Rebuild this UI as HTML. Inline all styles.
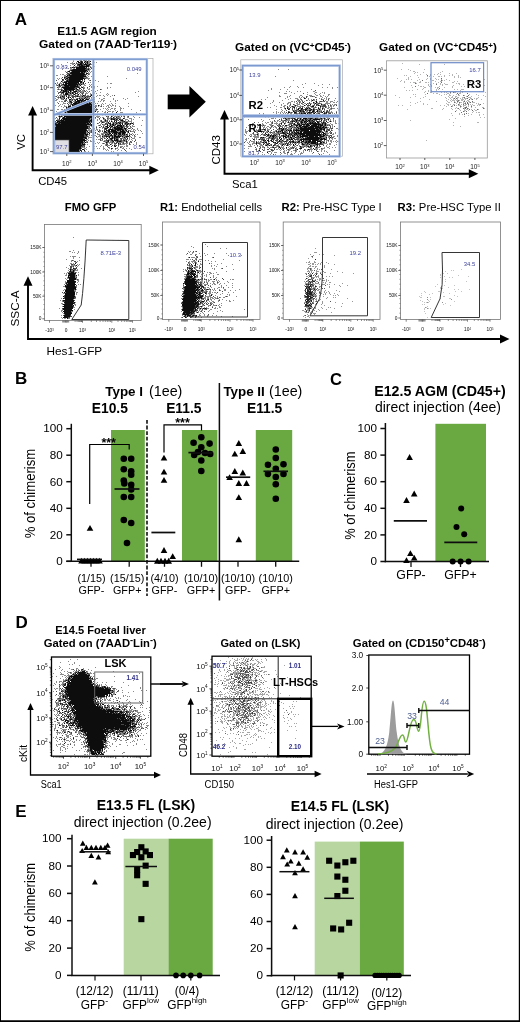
<!DOCTYPE html>
<html><head><meta charset="utf-8"><title>Figure</title>
<style>html,body{margin:0;padding:0;background:#fff;}svg{display:block;will-change:transform;}svg text{font-family:"Liberation Sans",sans-serif;}</style></head>
<body>
<svg width="520" height="1022" viewBox="0 0 520 1022" font-family="Liberation Sans, sans-serif">
<defs><filter id="bl" x="-5%" y="-5%" width="110%" height="110%"><feGaussianBlur stdDeviation="0.45"/></filter><filter id="soft" filterUnits="userSpaceOnUse" x="0" y="0" width="520" height="1022"><feGaussianBlur stdDeviation="0.32"/></filter></defs>
<rect x="0" y="0" width="520" height="1022" fill="#fff"/>
<g filter="url(#soft)">
<text x="14.8" y="25.0" font-size="17.0" font-weight="bold" text-anchor="start" fill="#000" >A</text>
<text x="107.0" y="35.4" font-size="11.6" font-weight="bold" text-anchor="middle" fill="#000" textLength="99.5" lengthAdjust="spacingAndGlyphs">E11.5 AGM region</text>
<text x="108.0" y="48.3" font-size="11.6" font-weight="bold" text-anchor="middle" fill="#000" textLength="138" lengthAdjust="spacingAndGlyphs">Gated on (7AAD<tspan dy="-3.5" font-size="7">-</tspan><tspan dy="3.5">Ter119</tspan><tspan dy="-3.5" font-size="7">-</tspan><tspan dy="3.5">)</tspan></text>
<rect x="53.0" y="58.5" width="100.0" height="95.3" fill="none" stroke="#aaa" stroke-width="0.70" />
<g transform="translate(0 .5)" fill="none" stroke-width="1" shape-rendering="crispEdges" opacity="1.00" filter="url(#bl)">
<path d="M73 60h1m5 0h3m1 0h4m1 0h2m2 0h1M73 61h1m3 0h2m1 0h3m1 0h7m2 0h1M67 62h1m4 0h1m3 0h1m1 0h5m1 0h6m2 0h3m1 0h1M70 63h5m1 0h8m1 0h6M61 64h1m10 0h2m1 0h1m1 0h15m1 0h1M70 65h1m3 0h1m2 0h13M73 66h1m1 0h16m2 0h2M66 67h1m3 0h17m1 0h1m1 0h2M68 68h1m1 0h2m1 0h2m1 0h14m1 0h1m1 0h1M62 69h1m7 0h21M69 70h21M65 71h1m1 0h3m1 0h17m1 0h1m1 0h1M66 72h2m1 0h18m1 0h1m1 0h1M67 73h18m1 0h4m47 0h1M60 74h1m1 0h2m2 0h21m1 0h2M56 75h2m6 0h2m1 0h19m1 0h1M64 76h23m1 0h1m2 0h1m1 0h1m13 0h1M62 77h1m1 0h24M57 78h1m1 0h1m1 0h1m2 0h26m2 0h1m33 0h1M58 79h1m3 0h2m1 0h18m1 0h1m3 0h1M56 80h1m5 0h2m2 0h15m1 0h1m1 0h1m4 0h2m4 0h1M61 81h2m1 0h19m1 0h1m13 0h1M54 82h1m2 0h1m2 0h1m1 0h17m1 0h4m4 0h1m1 0h1M54 83h2m1 0h1m1 0h3m1 0h1m1 0h19m1 0h1m7 0h1m13 0h1m2 0h2M56 84h1m1 0h2m1 0h24m4 0h1m1 0h1M54 85h1m1 0h25m3 0h2m4 0h1m2 0h1M58 86h3m1 0h18m1 0h1m1 0h1m5 0h1m1 0h1m2 0h1m2 0h1M57 87h3m1 0h19m1 0h4m2 0h1m3 0h1m2 0h1m12 0h1m2 0h1M58 88h1m2 0h1m1 0h14m2 0h2m2 0h2m2 0h1m1 0h1m4 0h1m12 0h1M54 89h1m2 0h6m1 0h16m1 0h1m1 0h1m4 0h2m10 0h2M61 90h13m1 0h6m1 0h3m1 0h1m4 0h1m5 0h1M57 91h1m2 0h9m1 0h2m1 0h13m1 0h1m1 0h1m5 0h1m42 0h1M58 92h18m1 0h2m1 0h4m2 0h1m1 0h1m3 0h3m5 0h1m34 0h1M54 93h1m3 0h1m2 0h3m1 0h9m1 0h3m1 0h1m1 0h3m1 0h3m2 0h1m3 0h1m1 0h1m10 0h1M60 94h2m1 0h9m1 0h3m1 0h2m1 0h1m1 0h1m2 0h1m4 0h2m14 0h1m1 0h1M57 95h1m1 0h8m1 0h6m1 0h4m1 0h6m1 0h2m1 0h4m3 0h1m1 0h2m2 0h1m3 0h1m4 0h1m1 0h1M55 96h2m1 0h1m1 0h5m1 0h1m1 0h2m1 0h20m1 0h2m2 0h1m7 0h1m5 0h1m27 0h1M57 97h8m2 0h4m1 0h2m1 0h1m3 0h11m1 0h1m2 0h1M54 98h2m2 0h1m1 0h5m1 0h1m1 0h1m2 0h1m1 0h1m2 0h14m1 0h1m2 0h1m4 0h1m3 0h2m8 0h1m9 0h1m3 0h1M56 99h2m3 0h3m1 0h2m2 0h9m1 0h5m1 0h4m1 0h1m2 0h2m6 0h2m10 0h1m11 0h1M55 100h2m7 0h3m2 0h4m1 0h2m1 0h9m1 0h6m1 0h1m6 0h1m1 0h2m10 0h1m1 0h1M59 101h1m1 0h2m1 0h2m1 0h1m1 0h3m1 0h18m1 0h3m3 0h1m1 0h1m2 0h1m6 0h1m4 0h1M57 102h1m5 0h1m4 0h5m1 0h19m1 0h1M58 103h1m4 0h3m1 0h1m1 0h3m1 0h21m1 0h1m1 0h1m4 0h1m2 0h1m5 0h1m3 0h1m12 0h1M60 104h1m1 0h1m5 0h1m1 0h25m6 0h1m1 0h1m5 0h1m2 0h1M55 105h1m3 0h1m4 0h1m3 0h3m1 0h22m1 0h2m1 0h2m1 0h1m5 0h2m1 0h1m1 0h2m1 0h1M58 106h1m2 0h1m2 0h3m1 0h3m1 0h25m1 0h1m1 0h2m1 0h1m2 0h1m1 0h1m2 0h1m3 0h1m3 0h1m8 0h1M63 107h1m2 0h28m1 0h1m12 0h2m10 0h1M66 108h29m1 0h1m6 0h1m1 0h1m1 0h1m3 0h2m1 0h2m4 0h2m1 0h1M57 109h2m2 0h2m1 0h2m1 0h31m2 0h1m5 0h1m1 0h1m1 0h1m3 0h1m5 0h1m10 0h1M63 110h4m1 0h29m10 0h1m7 0h1m4 0h1m19 0h1M56 111h1m4 0h2m1 0h32m1 0h2m3 0h1m2 0h1m2 0h3m1 0h2m3 0h1M57 112h1m2 0h3m1 0h31m2 0h1m6 0h2m1 0h1m4 0h1m3 0h1m3 0h3m13 0h1M57 113h1m3 0h3m1 0h31m3 0h2m3 0h3m1 0h1m2 0h3m4 0h3m1 0h1M57 114h1m2 0h2m1 0h1m1 0h31m8 0h1m1 0h1m3 0h3m4 0h3m9 0h1M59 115h1m1 0h32m1 0h2m1 0h1m4 0h1m2 0h1m5 0h3m1 0h1m1 0h1m1 0h3m1 0h2M58 116h5m1 0h29m3 0h4m6 0h3m2 0h2m1 0h6m1 0h1m1 0h2m2 0h2m4 0h1M56 117h1m2 0h2m1 0h30m1 0h1m1 0h1m1 0h2m1 0h1m1 0h2m3 0h2m1 0h2m1 0h2m1 0h5m3 0h1m2 0h2m5 0h1m4 0h1M55 118h1m1 0h1m1 0h1m2 0h30m1 0h1m1 0h1m3 0h1m3 0h2m2 0h14m2 0h2m4 0h3M54 119h1m2 0h3m1 0h31m1 0h1m3 0h1m1 0h1m3 0h3m1 0h2m1 0h8m1 0h4m2 0h3m3 0h1m1 0h1M56 120h38m3 0h1m2 0h2m2 0h4m1 0h1m1 0h1m2 0h5m1 0h4m1 0h1m2 0h1m2 0h1m10 0h1M55 121h1m1 0h37m6 0h8m1 0h1m1 0h2m1 0h1m1 0h1m2 0h13M55 122h37m7 0h1m1 0h4m1 0h3m1 0h1m1 0h16m3 0h1m1 0h1M54 123h37m2 0h1m3 0h2m2 0h1m3 0h6m1 0h11m1 0h10M55 124h37m8 0h1m1 0h6m1 0h12m1 0h1m1 0h7m2 0h1m12 0h1M54 125h38m6 0h3m2 0h2m2 0h9m1 0h8m1 0h2m1 0h1m2 0h1m8 0h1M54 126h36m1 0h2m3 0h1m4 0h1m1 0h1m1 0h3m1 0h4m1 0h15m1 0h1m1 0h3M54 127h36m2 0h1m3 0h1m2 0h2m1 0h7m1 0h15m1 0h2m2 0h2M54 128h37m3 0h1m1 0h1m5 0h1m1 0h4m1 0h2m1 0h15m1 0h3m1 0h1m4 0h1M54 129h33m1 0h2m1 0h2m1 0h1m1 0h2m1 0h1m4 0h3m1 0h20m3 0h1m1 0h2m2 0h1M54 130h38m1 0h1m1 0h1m1 0h1m1 0h2m1 0h1m1 0h1m1 0h4m1 0h16m1 0h3m2 0h1m1 0h1m2 0h1m1 0h1M54 131h34m1 0h3m6 0h3m1 0h1m1 0h25m1 0h5m6 0h1M54 132h39m2 0h1m3 0h1m3 0h23m1 0h2m5 0h1M54 133h34m1 0h1m3 0h1m1 0h1m1 0h1m3 0h10m1 0h14m1 0h1m1 0h1m2 0h1m9 0h1M54 134h36m7 0h3m1 0h3m1 0h7m1 0h15m1 0h3m1 0h1m1 0h1m1 0h1M54 135h34m1 0h1m1 0h2m1 0h2m3 0h2m1 0h26m1 0h1m2 0h1m1 0h1M54 136h35m7 0h1m1 0h3m1 0h29m3 0h2M54 137h33m1 0h4m5 0h1m2 0h1m1 0h3m1 0h1m1 0h2m1 0h9m2 0h6m1 0h1m1 0h1m2 0h1m4 0h2M54 138h33m1 0h1m11 0h3m1 0h2m1 0h1m1 0h10m1 0h6m1 0h1m1 0h1m2 0h3M54 139h31m1 0h2m8 0h1m1 0h3m1 0h1m3 0h1m1 0h5m1 0h5m1 0h2m1 0h5m1 0h1m1 0h1m3 0h1M54 140h33m1 0h1m1 0h1m9 0h3m1 0h23m1 0h1m3 0h1m2 0h1M54 141h31m1 0h2m2 0h2m2 0h1m8 0h6m1 0h4m1 0h13m2 0h2m2 0h1M54 142h34m9 0h1m1 0h1m5 0h10m1 0h8m2 0h2m1 0h3m4 0h1M54 143h31m10 0h1m2 0h1m3 0h3m1 0h2m1 0h1m1 0h2m1 0h3m1 0h3m1 0h6m1 0h1m6 0h1M54 144h32m1 0h1m17 0h3m2 0h2m2 0h2m2 0h7m1 0h1m2 0h2m2 0h1m2 0h1M54 145h31m16 0h1m3 0h5m2 0h1m1 0h3m1 0h1m7 0h2m11 0h1M54 146h31m4 0h1m4 0h1m1 0h1m3 0h1m2 0h1m3 0h1m3 0h1m2 0h2m2 0h1m1 0h3m1 0h1m1 0h2M54 147h31m1 0h1m16 0h1m4 0h2m7 0h1m2 0h2m1 0h1M54 148h28m2 0h2m8 0h1m2 0h1m1 0h1m3 0h2m4 0h1m1 0h2m2 0h3m4 0h2m2 0h1m2 0h1M54 149h27m1 0h3m1 0h1m5 0h2m9 0h1m1 0h1m1 0h1m3 0h1m3 0h1m2 0h1m5 0h1m6 0h1M54 150h28m2 0h1m21 0h1m1 0h1m8 0h1m3 0h1m3 0h1M54 151h26m1 0h1m2 0h2m2 0h1m22 0h1m1 0h1m12 0h1M54 152h24m2 0h1m4 0h1" stroke="#8a8a8a"/>
<path d="M80 60h2m1 0h2m1 0h1m1 0h1M77 61h2m1 0h3m2 0h1m1 0h1m2 0h1M78 62h5m1 0h1m1 0h2M74 63h1m1 0h1m3 0h4m1 0h1m1 0h1m2 0h1M77 64h14M74 65h1m2 0h8m1 0h4M79 66h10M70 67h1m1 0h3m1 0h9m1 0h1m3 0h1M76 68h11m1 0h1m2 0h1M72 69h17M70 70h17M68 71h2m2 0h14m1 0h1M66 72h1m3 0h10m1 0h4M67 73h2m1 0h15m1 0h2M68 74h2m1 0h16m1 0h1M67 75h19M66 76h2m1 0h17M62 77h1m1 0h2m1 0h17m2 0h1M64 78h1m1 0h2m1 0h17M62 79h2m1 0h1m1 0h16m1 0h1M56 80h1m5 0h2m2 0h15m1 0h1m7 0h1M61 81h1m2 0h18m2 0h1M63 82h4m1 0h11m1 0h2m1 0h1m4 0h1M55 83h1m7 0h1m1 0h14m1 0h1m2 0h1m1 0h1M59 84h1m2 0h5m1 0h12m1 0h1M57 85h1m1 0h1m1 0h1m2 0h14m2 0h1M59 86h2m3 0h15m10 0h1m4 0h1M57 87h1m4 0h18m1 0h2m4 0h1m6 0h1M63 88h14m2 0h2m2 0h1M58 89h1m2 0h1m2 0h11m1 0h2m3 0h1m18 0h1M61 90h13m2 0h1m1 0h1m1 0h1m3 0h1M60 91h1m2 0h6m1 0h1m2 0h4m2 0h1m5 0h1m3 0h1M59 92h5m2 0h1m1 0h3m1 0h4m1 0h1m2 0h1m2 0h1M58 93h1m2 0h1m1 0h1m1 0h3m2 0h1m1 0h2m1 0h3m4 0h1M63 94h1m1 0h4m4 0h2m3 0h1m3 0h1m2 0h1m5 0h1M64 95h1m1 0h1m1 0h2m2 0h1m2 0h1m1 0h1m5 0h3m5 0h2m21 0h1M56 96h1m3 0h1m1 0h3m1 0h1m1 0h1m3 0h8m2 0h1m1 0h1m1 0h5M58 97h1m1 0h1m2 0h2m3 0h1m1 0h1m1 0h2m11 0h1m1 0h1m6 0h1M54 98h1m6 0h1m2 0h1m1 0h1m1 0h1m2 0h1m5 0h1m1 0h1m1 0h2m1 0h1m1 0h1m2 0h1M63 99h1m5 0h2m1 0h1m1 0h1m1 0h2m2 0h1m1 0h2m1 0h4m4 0h2M65 100h2m2 0h1m2 0h1m2 0h1m1 0h9m1 0h4M64 101h2m3 0h3m3 0h5m1 0h9m4 0h1M70 102h2m2 0h14m1 0h1m1 0h1m2 0h1M58 103h1m8 0h1m3 0h1m1 0h18m1 0h2M68 104h1m2 0h22M70 105h1m1 0h21m5 0h1M68 106h3m1 0h23m6 0h1M66 107h1m1 0h26m1 0h1M66 108h2m1 0h26M64 109h2m1 0h27m2 0h2M65 110h2m1 0h27M65 111h1m1 0h29m21 0h1M60 112h1m4 0h1m1 0h27m13 0h1m8 0h1M57 113h1m4 0h1m2 0h1m1 0h28m11 0h1m4 0h2m6 0h1M60 114h2m3 0h31m14 0h1m6 0h1m1 0h1M59 115h1m1 0h32m1 0h1m18 0h1M59 116h3m2 0h29m13 0h1m1 0h1m2 0h1m6 0h1m2 0h1m2 0h1m3 0h1M56 117h1m2 0h1m3 0h2m1 0h26m3 0h1m17 0h1m2 0h1M59 118h1m2 0h28m1 0h1m1 0h1m5 0h1m3 0h1m3 0h1m3 0h5m1 0h2m4 0h2M59 119h1m1 0h1m1 0h27m1 0h1m13 0h1m5 0h4m1 0h2m1 0h2m1 0h1M56 120h36m9 0h1m3 0h1m1 0h1m6 0h3m1 0h1m1 0h3m5 0h1M55 121h1m1 0h35m9 0h1m3 0h1m1 0h1m1 0h1m1 0h1m2 0h1m1 0h1m5 0h3M56 122h34m1 0h1m7 0h1m2 0h2m4 0h1m4 0h1m1 0h2m1 0h3m1 0h1m2 0h3M55 123h2m1 0h31m1 0h1m6 0h1m7 0h2m1 0h3m2 0h1m2 0h2m1 0h2m1 0h1m2 0h4m1 0h3M55 124h37m10 0h1m2 0h1m1 0h1m2 0h1m1 0h2m1 0h1m4 0h1m1 0h1m2 0h3m2 0h1m2 0h1M55 125h32m3 0h2m7 0h1m7 0h1m2 0h1m1 0h3m2 0h5m1 0h1m2 0h1M56 126h34m11 0h1m1 0h1m1 0h3m1 0h1m1 0h2m1 0h1m1 0h8m2 0h2m2 0h1M54 127h34m1 0h1m6 0h1m2 0h1m3 0h1m3 0h2m1 0h1m2 0h10m1 0h1m2 0h1M54 128h35m1 0h1m3 0h1m9 0h4m2 0h1m1 0h1m1 0h9m1 0h3m1 0h2m2 0h1M54 129h33m17 0h3m1 0h16m1 0h1M54 130h33m4 0h1m7 0h1m4 0h1m1 0h4m1 0h5m1 0h4m1 0h2m1 0h2m1 0h1M54 131h32m1 0h1m3 0h1m6 0h1m3 0h1m1 0h2m2 0h9m3 0h5m1 0h3m1 0h1M54 132h32m2 0h1m2 0h1m3 0h1m8 0h3m1 0h2m1 0h15m2 0h1m5 0h1M54 133h32m1 0h1m1 0h1m17 0h1m1 0h2m1 0h1m1 0h3m1 0h3m1 0h3m4 0h1M54 134h34m14 0h1m2 0h5m1 0h1m2 0h3m1 0h3m1 0h3m1 0h2m3 0h1M54 135h33m7 0h1m9 0h3m1 0h1m1 0h3m1 0h2m2 0h4m1 0h2m2 0h1m1 0h1m4 0h1M54 136h34m8 0h1m5 0h1m1 0h6m2 0h1m1 0h7m1 0h1m2 0h4M54 137h33m19 0h1m2 0h1m2 0h8m4 0h1m1 0h1m4 0h1M54 138h33m14 0h1m2 0h1m2 0h1m2 0h3m1 0h4m2 0h2m3 0h1m1 0h1M54 139h31m15 0h1m1 0h1m3 0h1m3 0h2m2 0h1m1 0h2m3 0h1m1 0h1m2 0h1M54 140h32m14 0h1m5 0h3m2 0h2m1 0h5m1 0h2m1 0h2m1 0h1m8 0h1M54 141h29m1 0h1m19 0h1m2 0h2m3 0h2m3 0h5m4 0h1m3 0h1m3 0h1M54 142h30m1 0h1m1 0h1m18 0h2m4 0h1m3 0h2m5 0h1m2 0h1m4 0h1M54 143h29m1 0h1m18 0h1m2 0h1m7 0h3m1 0h1m1 0h1m2 0h1m5 0h1M54 144h31m21 0h2m2 0h1m7 0h1m1 0h1m8 0h1M54 145h31m21 0h1m5 0h1m1 0h1m1 0h1m1 0h1M55 146h28m1 0h1m22 0h1m3 0h1m2 0h2M54 147h27m27 0h1m11 0h1M54 148h28m29 0h2m2 0h1M54 149h27m1 0h2m40 0h1M54 150h25m1 0h2m2 0h1m40 0h1M54 151h26m1 0h1M54 152h24" stroke="#4a4a4a"/>
<path d="M84 60h1M77 61h2m2 0h1m3 0h1m1 0h1m2 0h1M78 62h2m1 0h2m1 0h1m2 0h1M80 63h2m3 0h1m1 0h1M78 64h4m2 0h3m2 0h1M74 65h1m4 0h1m1 0h2m3 0h3M79 66h10M72 67h1m1 0h1m1 0h9m1 0h1M76 68h10M73 69h12m3 0h1M71 70h16M68 71h2m2 0h14m1 0h1M71 72h9m1 0h2m1 0h1M70 73h14m2 0h2M69 74h1m2 0h13M67 75h1m1 0h15M66 76h1m3 0h16M64 77h1m3 0h15M66 78h2m1 0h15M62 79h1m2 0h1m3 0h14m1 0h1M67 80h1m1 0h11M61 81h1m4 0h16m2 0h1M64 82h3m1 0h11m1 0h2m1 0h1M65 83h12m1 0h1m4 0h1M59 84h1m3 0h1m1 0h2m1 0h10m1 0h1m1 0h1M59 85h1m4 0h12m1 0h1m2 0h1M65 86h4m1 0h8M62 87h13m3 0h1m3 0h1M64 88h10m2 0h1m2 0h1M64 89h11m2 0h1M61 90h1m1 0h1m1 0h2m2 0h2m2 0h1M63 91h4m1 0h1m1 0h1m3 0h3M62 92h2m2 0h1m1 0h1m3 0h1M65 93h3m2 0h1m1 0h1m2 0h1M65 94h3m6 0h1m3 0h1M83 95h1m7 0h1M62 96h1m3 0h1m10 0h1m4 0h1m7 0h1M60 97h1m7 0h1m1 0h1m14 0h1M64 98h1m1 0h1m12 0h1m4 0h1M69 99h2m5 0h2m2 0h1m1 0h2m2 0h3M75 100h1m1 0h6m1 0h2m1 0h3M70 101h1m5 0h4m1 0h1m1 0h2m2 0h3m4 0h1M71 102h1m3 0h2m1 0h2m1 0h7m1 0h1M73 103h8m1 0h6m1 0h2m1 0h1M72 104h1m1 0h18M72 105h18m1 0h2m5 0h1M68 106h3m1 0h20M66 107h1m1 0h2m2 0h22M66 108h2m1 0h26M64 109h1m4 0h25M69 110h24M65 111h1m1 0h27m1 0h1M65 112h1m2 0h25m23 0h1M65 113h1m1 0h24m1 0h2M60 114h1m4 0h27m1 0h1M59 115h1m1 0h1m1 0h29m21 0h1M59 116h1m1 0h1m2 0h29m18 0h1M63 117h2m1 0h26m21 0h1m2 0h1M59 118h1m2 0h28m13 0h1m7 0h1m11 0h1M61 119h1m1 0h26m2 0h1m19 0h1m1 0h2m1 0h1m2 0h1M56 120h1m3 0h4m1 0h24m1 0h2m13 0h1m15 0h2M57 121h3m1 0h29m1 0h1m19 0h1m2 0h1m1 0h1m7 0h1M57 122h1m1 0h29m1 0h1m12 0h1m5 0h1m9 0h1m1 0h1m5 0h1M55 123h1m2 0h2m1 0h25m1 0h2m1 0h1m18 0h2m2 0h1m2 0h1m2 0h1m2 0h1m2 0h1m2 0h1m1 0h1m1 0h1M55 124h35m1 0h1m15 0h1m2 0h1m1 0h2m1 0h1m4 0h1m1 0h1m4 0h1M56 125h31m4 0h1m15 0h1m2 0h1m2 0h1m3 0h5m1 0h1m2 0h1M56 126h32m18 0h2m1 0h1m1 0h2m3 0h2m2 0h2M55 127h33m19 0h2m1 0h1m3 0h2m1 0h3m1 0h2M55 128h33m17 0h2m7 0h8m2 0h2M54 129h32m23 0h4m2 0h8m2 0h1M54 130h33m19 0h1m1 0h2m1 0h5m1 0h2m1 0h1m1 0h2m2 0h1M54 131h32m1 0h1m10 0h1m5 0h2m2 0h2m1 0h6m3 0h5m3 0h1M54 132h32m2 0h1m17 0h1m2 0h1m3 0h5m1 0h2m1 0h4m2 0h1M54 133h32m3 0h1m19 0h2m1 0h1m1 0h3m1 0h3m1 0h3M54 134h30m1 0h3m17 0h1m2 0h1m2 0h1m2 0h1m1 0h1m2 0h2m1 0h1m1 0h1m1 0h1M54 135h30m2 0h1m23 0h2m2 0h2m2 0h1m10 0h1M54 136h30m18 0h1m3 0h2m1 0h1m2 0h1m1 0h7m1 0h1m3 0h3M54 137h32m23 0h1m2 0h1m1 0h1m1 0h2m1 0h1m4 0h1M54 138h29m2 0h2m20 0h1m2 0h3m1 0h1m12 0h1M55 139h30m26 0h1m2 0h1m1 0h2M54 140h32m22 0h1m3 0h1m1 0h4m6 0h1M54 141h29m1 0h1m23 0h1m4 0h1m3 0h1m1 0h2m5 0h1M54 142h29m2 0h1m20 0h1M54 143h27m1 0h1m35 0h1M54 144h27m1 0h3m25 0h1M54 145h28m32 0h1M55 146h26m34 0h1M54 147h27M54 148h27m30 0h1M54 149h25m3 0h2M54 150h25m1 0h1m3 0h1M54 151h25m2 0h1M54 152h1m1 0h19m1 0h1" stroke="#111111"/>
</g>
<rect x="54.8" y="140.0" width="14.2" height="12.6" fill="#dedee4" stroke="#555" stroke-width="0.60" />
<g stroke="#c3d2ec" stroke-width="2.6" fill="none">
<rect x="53.8" y="59.2" width="93" height="94"/>
<path d="M93.4 59V153.5M54 114.4H147M54 115L93.5 99.3"/>
</g>
<g stroke="#7c9ad0" stroke-width="1.4" fill="none">
<rect x="53.8" y="59.2" width="93" height="94"/>
<path d="M93.4 59V153.5M54 114.4H147M54 115L93.5 99.3"/>
</g>
<text x="56.3" y="68.7" font-size="5.9" font-weight="normal" text-anchor="start" fill="#3a3f9a" >0.83</text>
<text x="126.8" y="70.6" font-size="5.9" font-weight="normal" text-anchor="start" fill="#3a3f9a" >0.049</text>
<text x="133.5" y="148.7" font-size="5.9" font-weight="normal" text-anchor="start" fill="#3a3f9a" >0.54</text>
<text x="56.0" y="148.7" font-size="5.9" font-weight="normal" text-anchor="start" fill="#3a3f9a" >97.7</text>
<text x="44.6" y="68.1" font-size="6.5" font-weight="normal" text-anchor="middle" fill="#222" >10<tspan dy="-2.5" font-size="4.0">5</tspan></text>
<line x1="50.0" y1="65.8" x2="53.0" y2="65.8" stroke="#333" stroke-width="0.80" />
<text x="44.6" y="90.0" font-size="6.5" font-weight="normal" text-anchor="middle" fill="#222" >10<tspan dy="-2.5" font-size="4.0">4</tspan></text>
<line x1="50.0" y1="87.7" x2="53.0" y2="87.7" stroke="#333" stroke-width="0.80" />
<text x="44.6" y="112.6" font-size="6.5" font-weight="normal" text-anchor="middle" fill="#222" >10<tspan dy="-2.5" font-size="4.0">3</tspan></text>
<line x1="50.0" y1="110.3" x2="53.0" y2="110.3" stroke="#333" stroke-width="0.80" />
<text x="44.6" y="134.7" font-size="6.5" font-weight="normal" text-anchor="middle" fill="#222" >10<tspan dy="-2.5" font-size="4.0">2</tspan></text>
<line x1="50.0" y1="132.4" x2="53.0" y2="132.4" stroke="#333" stroke-width="0.80" />
<text x="44.6" y="153.9" font-size="6.5" font-weight="normal" text-anchor="middle" fill="#222" >10<tspan dy="-2.5" font-size="4.0">1</tspan></text>
<line x1="50.0" y1="151.6" x2="53.0" y2="151.6" stroke="#333" stroke-width="0.80" />
<text x="66.8" y="165.9" font-size="6.5" font-weight="normal" text-anchor="middle" fill="#222" >10<tspan dy="-2.5" font-size="4.0">2</tspan></text>
<line x1="66.8" y1="153.8" x2="66.8" y2="156.0" stroke="#333" stroke-width="0.80" />
<text x="92.4" y="165.9" font-size="6.5" font-weight="normal" text-anchor="middle" fill="#222" >10<tspan dy="-2.5" font-size="4.0">3</tspan></text>
<line x1="92.4" y1="153.8" x2="92.4" y2="156.0" stroke="#333" stroke-width="0.80" />
<text x="118.0" y="165.9" font-size="6.5" font-weight="normal" text-anchor="middle" fill="#222" >10<tspan dy="-2.5" font-size="4.0">4</tspan></text>
<line x1="118.0" y1="153.8" x2="118.0" y2="156.0" stroke="#333" stroke-width="0.80" />
<text x="143.5" y="165.9" font-size="6.5" font-weight="normal" text-anchor="middle" fill="#222" >10<tspan dy="-2.5" font-size="4.0">5</tspan></text>
<line x1="143.5" y1="153.8" x2="143.5" y2="156.0" stroke="#333" stroke-width="0.80" />
<path d="M32.6 114.5V170.2H150.3" stroke="#000" stroke-width="1.9" fill="none"/>
<path d="M32.6 106.0l-4.5 9.5h9.0z" fill="#000"/>
<path d="M158.8 170.2l-9.5 -4.5v9.0z" fill="#000"/>
<text transform="translate(25.4 142.0) rotate(-90)" font-size="11.3" font-weight="normal" text-anchor="middle" fill="#000" >VC</text>
<text x="38.2" y="185.4" font-size="11.3" font-weight="normal" text-anchor="start" fill="#000" >CD45</text>
<path d="M167.7 94.4H189.4V86L205.8 101.8L189.4 117.6V109.2H167.7z" fill="#000"/>
<text x="293.0" y="50.8" font-size="11.6" font-weight="bold" text-anchor="middle" fill="#000" textLength="116" lengthAdjust="spacingAndGlyphs">Gated on (VC<tspan dy="-2.5" font-size="8">+</tspan><tspan dy="2.5">CD45</tspan><tspan dy="-3.5" font-size="7">-</tspan><tspan dy="3.5">)</tspan></text>
<rect x="240.8" y="59.8" width="101.6" height="96.4" fill="none" stroke="#aaa" stroke-width="0.70" />
<g transform="translate(0 .5)" fill="none" stroke-width="1" shape-rendering="crispEdges" opacity="1.00" filter="url(#bl)">
<path d="M278 69h1m9 0h1M275 76h1M293 80h1M305 83h1m8 0h1M302 84h1m19 0h1m6 0h1M318 85h1M290 86h1m6 0h1M284 87h1m4 0h1m8 0h1m4 0h1m18 0h1m4 0h1m4 0h1m4 0h1M271 88h1m60 0h1M271 89h1m8 0h1m6 0h1m23 0h1M268 90h1m46 0h1M286 91h1m2 0h1m7 0h1m2 0h1m12 0h2M279 92h1m11 0h1m15 0h1m7 0h2m5 0h1m1 0h1M284 93h3m7 0h1m8 0h1m10 0h1m5 0h1m3 0h1M307 94h1m7 0h1m3 0h1m8 0h2M279 95h1m10 0h1m9 0h2m7 0h3m4 0h2m2 0h1m2 0h1m4 0h1M279 96h2m6 0h1m1 0h1m9 0h1m2 0h1m3 0h2m2 0h5m5 0h2m3 0h1m1 0h1M267 97h1m19 0h1m11 0h1m1 0h1m1 0h2m1 0h1m8 0h2m5 0h1m3 0h1M285 98h1m4 0h1m4 0h3m2 0h1m3 0h2m2 0h1m10 0h1m1 0h1m2 0h1m1 0h1m1 0h2m5 0h1M261 99h1m3 0h1m22 0h1m8 0h2m1 0h2m6 0h1m2 0h1m1 0h2m1 0h1m4 0h3m2 0h1m1 0h1M273 100h1m8 0h1m14 0h3m1 0h2m3 0h2m1 0h1m1 0h4m1 0h1m6 0h1m1 0h1m2 0h1m5 0h1M273 101h1m17 0h2m1 0h1m1 0h1m1 0h3m1 0h1m1 0h1m6 0h1m3 0h2m2 0h6m1 0h2m2 0h3m4 0h1M272 102h1m6 0h1m8 0h3m3 0h1m2 0h1m1 0h2m1 0h2m5 0h1m3 0h2m1 0h2m1 0h1m6 0h2m2 0h1m2 0h2m1 0h1M270 103h1m12 0h1m3 0h2m1 0h1m5 0h2m1 0h1m1 0h2m1 0h2m1 0h5m1 0h9m3 0h5M281 104h1m5 0h1m2 0h1m2 0h2m2 0h3m2 0h2m2 0h1m1 0h1m1 0h1m3 0h1m1 0h3m2 0h5m1 0h1m2 0h1m1 0h1m1 0h3M274 105h1m6 0h1m2 0h2m3 0h2m3 0h4m2 0h1m3 0h2m1 0h4m1 0h3m1 0h10m2 0h1m1 0h2m1 0h2m1 0h1M276 106h1m6 0h2m2 0h1m1 0h1m1 0h5m1 0h7m3 0h2m1 0h4m1 0h1m4 0h7m1 0h1m1 0h2m1 0h1M267 107h1m2 0h1m9 0h2m2 0h1m2 0h2m1 0h1m1 0h3m1 0h1m2 0h2m1 0h1m1 0h1m1 0h4m1 0h6m1 0h1m1 0h1m1 0h2m1 0h2m1 0h2m1 0h1M284 108h2m1 0h3m2 0h1m1 0h1m1 0h1m1 0h5m2 0h6m2 0h2m3 0h3m1 0h3m2 0h2m1 0h5m2 0h1M276 109h1m4 0h1m3 0h1m2 0h2m2 0h1m1 0h1m1 0h3m1 0h21m1 0h1m1 0h1m4 0h3m6 0h1M282 110h1m3 0h1m5 0h12m1 0h10m2 0h5m2 0h1m1 0h2m1 0h1m8 0h1M276 111h1m4 0h1m2 0h1m3 0h2m3 0h12m1 0h2m1 0h2m1 0h3m1 0h6m1 0h2m1 0h4m1 0h1m4 0h1M273 112h1m2 0h1m1 0h1m1 0h1m1 0h1m1 0h1m1 0h1m1 0h5m1 0h3m2 0h17m1 0h6m1 0h9m3 0h1M259 113h1m3 0h1m12 0h1m3 0h1m2 0h1m1 0h1m1 0h2m1 0h2m2 0h12m1 0h5m1 0h2m1 0h4m3 0h4m1 0h3m1 0h1m1 0h1m1 0h1M263 114h1m15 0h1m1 0h2m4 0h1m2 0h2m1 0h1m2 0h2m1 0h5m1 0h9m1 0h3m1 0h2m1 0h5m1 0h1m6 0h1m1 0h1M272 115h1m10 0h1m1 0h6m2 0h2m1 0h2m1 0h2m2 0h1m1 0h5m1 0h5m2 0h1m1 0h6m1 0h1m3 0h1m2 0h1m2 0h1M278 116h1m3 0h1m2 0h2m1 0h3m1 0h1m1 0h2m1 0h13m1 0h2m1 0h11m1 0h2m1 0h1m1 0h1M244 117h1m20 0h1m2 0h1m4 0h1m8 0h1m1 0h10m1 0h24m1 0h1m2 0h2m1 0h3m4 0h1m3 0h1M271 118h3m1 0h1m5 0h1m1 0h13m1 0h5m1 0h23m1 0h3m3 0h1M248 119h1m12 0h1m7 0h1m9 0h1m1 0h1m3 0h5m2 0h1m1 0h4m1 0h24m1 0h5m1 0h1m2 0h1M263 120h1m10 0h1m2 0h2m2 0h9m1 0h26m2 0h1m1 0h1m1 0h4m1 0h1m1 0h1m2 0h1m1 0h1M262 121h1m7 0h1m1 0h1m1 0h2m1 0h1m1 0h2m1 0h2m1 0h2m1 0h1m1 0h25m1 0h6m1 0h2m1 0h1m2 0h3m1 0h1m1 0h1M254 122h1m3 0h1m6 0h1m1 0h2m2 0h2m3 0h1m4 0h3m1 0h1m1 0h6m2 0h4m1 0h7m1 0h8m1 0h3m1 0h5m1 0h2m6 0h1M252 123h2m8 0h1m3 0h1m4 0h2m1 0h4m1 0h3m2 0h2m3 0h6m2 0h30m3 0h1m4 0h2m1 0h1M257 124h1m1 0h2m1 0h2m5 0h3m4 0h1m1 0h2m1 0h1m2 0h1m3 0h4m1 0h37m1 0h2M248 125h1m3 0h1m6 0h1m1 0h5m4 0h4m3 0h4m1 0h2m1 0h5m1 0h11m1 0h7m1 0h20m1 0h1M252 126h1m9 0h1m1 0h1m2 0h2m2 0h2m1 0h2m2 0h5m1 0h3m2 0h6m1 0h31m3 0h1m1 0h1m1 0h1M246 127h1m10 0h1m1 0h1m3 0h2m1 0h1m2 0h3m1 0h1m1 0h2m2 0h1m2 0h1m1 0h1m1 0h43m1 0h1m1 0h1M250 128h1m8 0h1m3 0h1m1 0h1m1 0h1m2 0h1m5 0h1m1 0h9m1 0h4m1 0h35m1 0h4m3 0h2M245 129h1m8 0h1m1 0h1m1 0h8m1 0h3m3 0h1m3 0h15m1 0h32m1 0h4m1 0h1m6 0h1M245 130h1m2 0h2m6 0h3m1 0h1m3 0h2m1 0h2m2 0h1m3 0h2m1 0h14m1 0h16m1 0h12m1 0h2m1 0h4m1 0h2M245 131h3m1 0h1m5 0h2m1 0h3m2 0h2m1 0h3m1 0h1m2 0h10m1 0h4m1 0h6m1 0h27m1 0h4m2 0h1M245 132h2m6 0h1m2 0h2m3 0h1m1 0h1m1 0h3m1 0h6m1 0h12m1 0h1m1 0h11m1 0h21m1 0h3m1 0h3m3 0h1M246 133h1m5 0h2m3 0h2m3 0h1m2 0h1m2 0h1m1 0h1m1 0h48m1 0h1m1 0h6m1 0h2m1 0h1m1 0h1M244 134h1m5 0h2m1 0h6m2 0h9m1 0h1m1 0h7m3 0h4m1 0h40m4 0h2M245 135h1m3 0h1m1 0h1m2 0h2m1 0h2m1 0h1m2 0h3m1 0h11m1 0h1m1 0h51m5 0h1M250 136h2m1 0h6m7 0h25m1 0h3m1 0h22m1 0h8m1 0h2m1 0h1m1 0h2m2 0h1M254 137h5m1 0h6m2 0h10m1 0h2m2 0h1m1 0h19m1 0h22m1 0h6M246 138h1m1 0h1m3 0h1m1 0h1m1 0h1m3 0h5m1 0h12m1 0h1m1 0h1m1 0h4m1 0h7m1 0h31m2 0h1m1 0h2m1 0h2M245 139h2m6 0h2m1 0h1m1 0h7m1 0h1m1 0h1m2 0h4m1 0h3m1 0h2m1 0h2m1 0h7m1 0h33m2 0h1m2 0h1M243 140h1m2 0h1m3 0h1m3 0h1m6 0h5m1 0h2m1 0h2m1 0h1m1 0h3m1 0h5m2 0h3m1 0h1m1 0h2m1 0h1m1 0h5m1 0h8m1 0h10m2 0h1m1 0h3m1 0h2m4 0h1M245 141h1m3 0h1m1 0h4m1 0h1m1 0h1m1 0h2m1 0h4m1 0h2m1 0h3m2 0h12m1 0h11m1 0h15m1 0h8m1 0h1m1 0h1m1 0h2m1 0h1m1 0h1m1 0h2M244 142h1m2 0h1m1 0h1m3 0h2m1 0h11m1 0h1m4 0h3m1 0h2m1 0h3m1 0h1m1 0h1m1 0h30m2 0h5m1 0h1m4 0h1m4 0h1M243 143h1m4 0h1m3 0h9m2 0h2m1 0h4m4 0h4m1 0h10m1 0h1m1 0h1m1 0h3m1 0h2m1 0h26m2 0h2M249 144h2m1 0h1m3 0h1m2 0h3m1 0h1m1 0h4m1 0h2m2 0h2m2 0h1m1 0h6m1 0h5m1 0h1m1 0h1m2 0h1m2 0h23m3 0h1m1 0h2m5 0h1M244 145h1m5 0h1m3 0h1m2 0h1m2 0h3m2 0h7m1 0h6m2 0h2m1 0h1m1 0h3m1 0h1m2 0h2m1 0h2m1 0h1m2 0h7m1 0h8m1 0h1m3 0h1m2 0h1m7 0h1M248 146h4m5 0h1m1 0h2m1 0h2m3 0h1m4 0h2m2 0h4m1 0h1m1 0h1m5 0h1m2 0h1m1 0h2m3 0h14m1 0h1m1 0h2m1 0h2m5 0h1m2 0h1M255 147h1m4 0h1m1 0h3m2 0h2m1 0h7m1 0h6m2 0h1m1 0h1m1 0h5m1 0h1m3 0h4m2 0h1m1 0h4m3 0h5m4 0h1m2 0h2m3 0h1m2 0h1M244 148h1m3 0h1m7 0h1m2 0h2m3 0h1m4 0h1m4 0h1m3 0h1m1 0h1m1 0h3m1 0h1m2 0h5m1 0h2m2 0h3m8 0h2m1 0h1m1 0h3m3 0h4m4 0h1M255 149h2m2 0h1m2 0h1m1 0h1m2 0h2m1 0h3m1 0h1m1 0h2m1 0h1m1 0h1m1 0h1m3 0h4m4 0h3m2 0h1m3 0h2m1 0h6m1 0h4m1 0h1m1 0h2M256 150h1m1 0h2m3 0h2m6 0h3m6 0h1m3 0h1m1 0h1m1 0h2m3 0h4m6 0h1m1 0h1m1 0h1m1 0h1m1 0h1m4 0h1m4 0h1m2 0h1m9 0h1M244 151h1m7 0h2m2 0h2m2 0h1m6 0h4m1 0h1m10 0h2m3 0h1m2 0h1m3 0h2m2 0h1m3 0h1m5 0h1m1 0h1m5 0h2m2 0h1m2 0h1m1 0h1M262 152h1m4 0h1m3 0h1m2 0h3m3 0h1m2 0h2m2 0h2m6 0h1m5 0h1m1 0h1m9 0h1m13 0h1M258 153h1m9 0h1m2 0h1m9 0h1m2 0h2m1 0h1m3 0h1m2 0h1m5 0h3m9 0h1m5 0h1m4 0h1M262 154h1m1 0h1m5 0h1m2 0h1m1 0h1m4 0h1m6 0h1m2 0h3m5 0h1m1 0h1m18 0h1m1 0h1m7 0h1M269 155h1m4 0h1m13 0h1m3 0h1m14 0h1" stroke="#8a8a8a"/>
<path d="M315 90h1M303 93h1M306 96h1m5 0h1M306 97h1m8 0h1M304 98h2M301 99h1m11 0h1m2 0h1m4 0h1m6 0h1M299 100h1m6 0h1m5 0h1m10 0h1M296 101h1m5 0h1m13 0h1m3 0h2m2 0h1M299 102h1m3 0h1m5 0h1m3 0h1m2 0h1M301 103h1m5 0h1m1 0h1m5 0h1m2 0h2M290 104h1m2 0h1m12 0h1m3 0h1m3 0h1m1 0h2m3 0h1m2 0h1M295 105h1m8 0h1m2 0h3m3 0h1m2 0h1m1 0h2m3 0h3m2 0h1m1 0h1m5 0h1M287 106h1m4 0h2m8 0h1m8 0h3m6 0h1m1 0h4M287 107h1m2 0h1m2 0h2m5 0h1m1 0h1m3 0h1m1 0h1m6 0h1m2 0h1m1 0h1m4 0h1M285 108h1m1 0h1m1 0h1m2 0h1m1 0h1m3 0h2m1 0h2m2 0h3m1 0h2m2 0h1m4 0h1m3 0h1m8 0h1M288 109h2m2 0h1m4 0h2m2 0h6m3 0h2m1 0h2m1 0h1m2 0h1m2 0h1m1 0h1M286 110h1m6 0h1m1 0h2m2 0h5m1 0h1m1 0h1m1 0h2m2 0h2m2 0h1m9 0h1m1 0h1M288 111h1m4 0h2m1 0h1m1 0h1m1 0h5m4 0h1m2 0h3m1 0h2m1 0h1m1 0h1m1 0h1m2 0h2M286 112h1m1 0h2m1 0h1m2 0h3m2 0h1m1 0h1m1 0h2m3 0h6m1 0h1m5 0h2m1 0h1m1 0h1m1 0h1m7 0h1M294 113h3m2 0h1m1 0h5m1 0h1m1 0h2m2 0h2m3 0h2m4 0h3m2 0h2M291 114h1m1 0h1m2 0h2m2 0h3m2 0h7m7 0h2m1 0h1m1 0h1m3 0h1M287 115h1m8 0h1m2 0h2m2 0h1m1 0h1m2 0h1m3 0h4m4 0h2m1 0h3m1 0h1m3 0h1M288 116h1m1 0h1m1 0h1m4 0h1m2 0h3m1 0h6m1 0h2m1 0h1m1 0h3m7 0h2m3 0h1M284 117h1m7 0h2m1 0h1m1 0h3m1 0h2m1 0h2m1 0h7m1 0h3m2 0h1m2 0h2m1 0h2m9 0h1M283 118h1m1 0h1m2 0h2m1 0h4m2 0h2m1 0h1m2 0h4m1 0h5m2 0h3m2 0h2m2 0h1m4 0h1m3 0h1M279 119h1m1 0h1m4 0h1m5 0h1m1 0h4m2 0h1m1 0h2m1 0h3m1 0h2m2 0h7m1 0h1m2 0h1m1 0h1m1 0h1M274 120h1m6 0h1m2 0h2m6 0h2m1 0h5m1 0h3m1 0h2m1 0h5m1 0h1m1 0h1m4 0h1m2 0h1M283 121h1m4 0h1m1 0h5m1 0h1m3 0h3m1 0h4m1 0h6m1 0h5m2 0h1m2 0h1m3 0h1M254 122h1m17 0h1m10 0h1m4 0h1m3 0h1m2 0h1m1 0h2m1 0h3m1 0h3m2 0h7m1 0h2m2 0h1m1 0h3m1 0h1M272 123h1m8 0h1m2 0h1m5 0h3m1 0h1m2 0h3m1 0h1m3 0h1m1 0h13m2 0h4M257 124h1m21 0h1m1 0h1m7 0h1m1 0h1m1 0h3m1 0h3m1 0h8m1 0h1m1 0h11m1 0h2M252 125h1m10 0h1m8 0h1m4 0h1m1 0h2m2 0h1m1 0h2m4 0h2m2 0h3m1 0h3m1 0h2m1 0h4m1 0h6m1 0h5m1 0h2m1 0h1m1 0h1M271 126h1m6 0h1m1 0h1m8 0h3m4 0h1m2 0h2m1 0h7m1 0h12m1 0h2m5 0h1m3 0h1M279 127h1m2 0h1m9 0h1m1 0h2m1 0h2m1 0h14m1 0h12m3 0h1M270 128h1m8 0h3m1 0h1m1 0h2m4 0h1m4 0h1m1 0h27m6 0h2M262 129h4m7 0h1m3 0h1m1 0h1m1 0h3m1 0h1m1 0h1m2 0h1m2 0h2m1 0h3m1 0h15m1 0h9m2 0h3m8 0h1M258 130h1m6 0h1m1 0h1m3 0h1m4 0h1m4 0h2m3 0h1m1 0h4m1 0h16m1 0h12m2 0h1m1 0h1m1 0h2m1 0h1M263 131h1m4 0h1m7 0h1m1 0h3m1 0h1m1 0h2m3 0h1m1 0h1m1 0h2m1 0h1m1 0h1m1 0h22m4 0h2m2 0h1M253 132h1m3 0h1m5 0h1m3 0h1m2 0h2m2 0h1m2 0h2m3 0h5m2 0h1m1 0h2m1 0h5m1 0h2m1 0h18m1 0h2m7 0h1M253 133h1m11 0h1m12 0h1m1 0h6m1 0h33m1 0h1m1 0h3m4 0h2M257 134h1m3 0h1m2 0h1m1 0h1m1 0h1m2 0h1m2 0h1m1 0h1m2 0h1m5 0h2m2 0h3m2 0h11m1 0h18m1 0h1M264 135h2m1 0h2m1 0h6m3 0h1m1 0h3m1 0h2m1 0h1m1 0h1m1 0h4m1 0h1m1 0h2m1 0h20m1 0h2m1 0h2m2 0h2M250 136h1m15 0h1m3 0h1m1 0h3m1 0h1m6 0h3m1 0h2m1 0h1m1 0h3m2 0h2m1 0h8m1 0h5m1 0h3m1 0h5m5 0h1m1 0h1M260 137h4m5 0h1m2 0h2m1 0h1m3 0h2m2 0h1m1 0h2m1 0h1m1 0h2m3 0h6m1 0h1m2 0h17m4 0h1m3 0h1m1 0h1M260 138h1m1 0h1m5 0h1m2 0h4m2 0h1m1 0h1m1 0h1m7 0h1m1 0h1m1 0h2m2 0h2m2 0h1m1 0h22m1 0h1m2 0h1M253 139h2m4 0h1m1 0h4m3 0h1m2 0h3m3 0h1m2 0h2m5 0h1m1 0h4m1 0h5m1 0h19m1 0h3m1 0h3M250 140h1m12 0h3m1 0h2m1 0h2m1 0h1m1 0h3m1 0h1m2 0h1m3 0h2m2 0h1m2 0h1m5 0h3m1 0h1m1 0h6m1 0h10m2 0h1m3 0h1M256 141h1m3 0h1m3 0h1m3 0h1m2 0h2m5 0h4m1 0h4m2 0h5m4 0h2m1 0h3m1 0h11m1 0h4m1 0h1M244 142h1m11 0h1m5 0h2m1 0h2m6 0h3m1 0h1m3 0h1m4 0h1m1 0h1m1 0h1m1 0h4m1 0h3m1 0h1m2 0h14m2 0h2m1 0h2m1 0h1M256 143h1m1 0h2m4 0h1m1 0h1m1 0h2m5 0h3m1 0h1m5 0h4m1 0h1m11 0h1m2 0h1m1 0h2m1 0h8m1 0h3M256 144h1m6 0h1m3 0h2m2 0h1m2 0h2m6 0h2m1 0h1m1 0h1m1 0h1m3 0h1m1 0h1m6 0h3m1 0h2m1 0h1m5 0h8M257 145h1m7 0h2m2 0h1m1 0h1m1 0h2m2 0h1m4 0h1m3 0h2m5 0h1m3 0h1m8 0h1m3 0h2m1 0h2m2 0h1m1 0h1m3 0h1M278 146h2m20 0h1m3 0h1m2 0h2m1 0h2m2 0h1m2 0h1m2 0h1M255 147h1m4 0h1m3 0h1m7 0h2m1 0h1m3 0h1m6 0h1m5 0h2m6 0h2m1 0h1m5 0h1m6 0h1M259 148h1m9 0h1m4 0h1m5 0h1m5 0h1m4 0h1m1 0h1m1 0h1m3 0h3m11 0h1m7 0h1M256 149h1m5 0h1m4 0h2m2 0h1m2 0h1m8 0h1m4 0h1m8 0h1m6 0h1m3 0h2m4 0h1M259 150h1m3 0h1m7 0h3m21 0h1m9 0h1m1 0h1m8 0h1M260 151h1m8 0h1m47 0h1M267 152h1m12 0h1m6 0h2m24 0h1M273 154h1m45 0h1" stroke="#4a4a4a"/>
<path d="M304 98h1M312 100h1m10 0h1M316 101h1M303 102h1m9 0h1m2 0h1M315 103h1M306 104h1m3 0h1m10 0h1M295 105h1m8 0h1m13 0h1M292 106h1m19 0h2m6 0h1M294 107h1M285 108h1m1 0h1m10 0h1m2 0h2m4 0h1m1 0h1m8 0h1m3 0h1M288 109h1m9 0h1m2 0h1m3 0h2m4 0h1m1 0h1m5 0h1M299 110h2m4 0h1m3 0h2m2 0h1m3 0h1M293 111h1m6 0h1m2 0h1m8 0h2m3 0h1m5 0h1M288 112h2m4 0h2m12 0h2m1 0h1m3 0h1m6 0h1m3 0h1M301 113h1m2 0h2m1 0h1m6 0h1m9 0h1M300 114h1m1 0h1m3 0h1m1 0h2m1 0h1m10 0h1m1 0h1M299 115h2m4 0h1m2 0h1m5 0h1m16 0h1M301 116h2m1 0h1m2 0h1m4 0h1m1 0h1M284 117h1m7 0h1m6 0h1m1 0h1m6 0h1m3 0h1m3 0h2m2 0h1m5 0h2M285 118h1m8 0h1m5 0h1m2 0h4m3 0h2m3 0h1m5 0h1m2 0h1M286 119h1m5 0h1m2 0h1m1 0h1m2 0h1m1 0h1m2 0h1m4 0h1m2 0h7m8 0h1M296 120h1m2 0h1m2 0h2m2 0h1m1 0h2m2 0h1m8 0h1M292 121h1m1 0h1m1 0h1m4 0h1m2 0h2m1 0h1m1 0h1m3 0h1m3 0h1m8 0h1m3 0h1M288 122h1m12 0h2m1 0h1m1 0h1m3 0h1m1 0h1m2 0h1m1 0h2m4 0h1M281 123h1m2 0h1m9 0h1m2 0h1m3 0h1m3 0h1m1 0h1m1 0h8m1 0h1m3 0h1m2 0h1M294 124h1m3 0h2m2 0h3m1 0h3m1 0h1m2 0h8m1 0h1m2 0h1M285 125h2m4 0h1m4 0h2m1 0h3m4 0h4m1 0h6m1 0h1m1 0h3m2 0h1M290 126h1m5 0h1m2 0h2m1 0h6m2 0h9m1 0h1m2 0h1M279 127h1m17 0h1m2 0h2m2 0h3m1 0h6m1 0h6m1 0h2m1 0h2M279 128h1m1 0h1m1 0h1m7 0h1m6 0h1m1 0h18m1 0h3m2 0h1M264 129h1m17 0h2m12 0h1m3 0h15m1 0h3m1 0h2m1 0h2M281 130h2m3 0h1m1 0h1m1 0h2m1 0h1m1 0h5m1 0h8m1 0h10m4 0h1M268 131h1m7 0h1m1 0h1m1 0h1m1 0h1m6 0h1m6 0h1m3 0h2m2 0h17m5 0h1M282 132h2m5 0h1m2 0h1m1 0h1m2 0h2m1 0h2m1 0h13m1 0h3m2 0h2M265 133h1m17 0h2m2 0h1m7 0h2m1 0h20m1 0h1m3 0h2M257 134h1m8 0h1m1 0h1m10 0h1m5 0h1m3 0h1m1 0h1m2 0h1m1 0h1m3 0h5m1 0h15m2 0h1m1 0h1M267 135h2m1 0h1m2 0h1m1 0h1m7 0h1m2 0h1m1 0h1m3 0h1m4 0h1m2 0h1m1 0h19m2 0h2M270 136h1m1 0h2m9 0h3m2 0h1m3 0h1m1 0h1m3 0h1m1 0h8m1 0h5m1 0h3m2 0h4M261 137h1m1 0h1m5 0h1m3 0h1m5 0h1m3 0h1m1 0h2m3 0h2m3 0h1m4 0h1m1 0h1m4 0h12m1 0h1m5 0h1m3 0h1M272 138h1m6 0h1m1 0h1m9 0h1m1 0h1m9 0h1m1 0h15m1 0h1m1 0h2M253 139h1m5 0h1m20 0h1m6 0h1m1 0h1m1 0h2m7 0h19m1 0h3m1 0h2M263 140h1m1 0h1m1 0h2m2 0h1m7 0h1m2 0h1m18 0h1m1 0h1m5 0h2m1 0h6M268 141h1m3 0h1m6 0h1m5 0h1m3 0h1m2 0h2m4 0h2m2 0h2m2 0h1m1 0h3m1 0h4m1 0h4M256 142h1m6 0h1m1 0h2m6 0h1m1 0h1m1 0h1m12 0h1m2 0h1m1 0h1m1 0h1m3 0h1m3 0h2m1 0h2m1 0h5m1 0h1m2 0h2m1 0h1M256 143h1m12 0h1m6 0h1m25 0h1m4 0h1m3 0h5m1 0h1m2 0h1M263 144h1m3 0h1m15 0h1m3 0h1m5 0h1m1 0h1m6 0h2m5 0h1m6 0h2M266 145h1m2 0h1m3 0h1m8 0h1m4 0h1m5 0h1m16 0h1m6 0h1M300 146h1m7 0h1m1 0h1m3 0h1M273 147h1m5 0h1m6 0h1m29 0h1M280 148h1m19 0h2m11 0h1M297 149h1m10 0h1m5 0h1M259 150h1M267 152h1" stroke="#111111"/>
</g>
<g stroke="#c3d2ec" stroke-width="2.6" fill="none">
<rect x="242.6" y="65.6" width="97" height="90.8"/>
</g>
<g stroke="#7c9ad0" stroke-width="1.4" fill="none">
<rect x="242.6" y="65.6" width="97" height="90.8"/>
</g>
<path d="M242.6 116H339.6" stroke="#c3d2ec" stroke-width="3.4"/>
<path d="M242.6 116H339.6" stroke="#7c9ad0" stroke-width="2.3"/>
<text x="249.0" y="76.7" font-size="5.9" font-weight="normal" text-anchor="start" fill="#3a3f9a" >13.9</text>
<text x="248.3" y="154.6" font-size="5.9" font-weight="normal" text-anchor="start" fill="#3a3f9a" >81.7</text>
<text x="248.6" y="108.5" font-size="11.3" font-weight="bold" text-anchor="start" fill="#000" >R2</text>
<text x="248.6" y="132.3" font-size="11.3" font-weight="bold" text-anchor="start" fill="#000" >R1</text>
<text x="234.3" y="72.3" font-size="6.5" font-weight="normal" text-anchor="middle" fill="#222" >10<tspan dy="-2.5" font-size="4.0">5</tspan></text>
<line x1="239.3" y1="70.0" x2="242.0" y2="70.0" stroke="#333" stroke-width="0.80" />
<text x="234.3" y="97.7" font-size="6.5" font-weight="normal" text-anchor="middle" fill="#222" >10<tspan dy="-2.5" font-size="4.0">4</tspan></text>
<line x1="239.3" y1="95.4" x2="242.0" y2="95.4" stroke="#333" stroke-width="0.80" />
<text x="234.3" y="122.1" font-size="6.5" font-weight="normal" text-anchor="middle" fill="#222" >10<tspan dy="-2.5" font-size="4.0">3</tspan></text>
<line x1="239.3" y1="119.8" x2="242.0" y2="119.8" stroke="#333" stroke-width="0.80" />
<text x="234.3" y="146.3" font-size="6.5" font-weight="normal" text-anchor="middle" fill="#222" >10<tspan dy="-2.5" font-size="4.0">2</tspan></text>
<line x1="239.3" y1="144.0" x2="242.0" y2="144.0" stroke="#333" stroke-width="0.80" />
<text x="254.6" y="164.8" font-size="6.5" font-weight="normal" text-anchor="middle" fill="#222" >10<tspan dy="-2.5" font-size="4.0">2</tspan></text>
<text x="280.0" y="164.8" font-size="6.5" font-weight="normal" text-anchor="middle" fill="#222" >10<tspan dy="-2.5" font-size="4.0">3</tspan></text>
<text x="306.0" y="164.8" font-size="6.5" font-weight="normal" text-anchor="middle" fill="#222" >10<tspan dy="-2.5" font-size="4.0">4</tspan></text>
<text x="332.0" y="164.8" font-size="6.5" font-weight="normal" text-anchor="middle" fill="#222" >10<tspan dy="-2.5" font-size="4.0">5</tspan></text>
<path d="M224.5 118.5V173.8H469.8" stroke="#000" stroke-width="1.9" fill="none"/>
<path d="M224.5 110.0l-4.5 9.5h9.0z" fill="#000"/>
<path d="M478.3 173.8l-9.5 -4.5v9.0z" fill="#000"/>
<text transform="translate(220.2 149.8) rotate(-90)" font-size="11.5" font-weight="normal" text-anchor="middle" fill="#000" >CD43</text>
<text x="232.0" y="188.0" font-size="11.3" font-weight="normal" text-anchor="start" fill="#000" >Sca1</text>
<text x="438.0" y="50.8" font-size="11.6" font-weight="bold" text-anchor="middle" fill="#000" textLength="118" lengthAdjust="spacingAndGlyphs">Gated on (VC<tspan dy="-2.5" font-size="8">+</tspan><tspan dy="2.5">CD45</tspan><tspan dy="-2.5" font-size="8">+</tspan><tspan dy="2.5">)</tspan></text>
<rect x="386.5" y="60.8" width="100.8" height="97.2" fill="none" stroke="#999" stroke-width="0.80" />
<g transform="translate(0 .5)" fill="none" stroke-width="1" shape-rendering="crispEdges" opacity="1.00" filter="url(#bl)">
<path d="M402 63h1M419 64h1m24 0h1M401 69h1m6 0h1m15 0h1M410 70h1M413 71h2m27 0h1M415 72h1m1 0h1m5 0h1m16 0h1M414 73h1m23 0h1m10 0h1m6 0h1M420 74h1m5 0h1m3 0h1m3 0h1m2 0h1m2 0h1m11 0h1M404 75h1m1 0h1m10 0h1m9 0h1m2 0h1m13 0h1m4 0h1m2 0h1m5 0h1M410 76h1m16 0h1m1 0h1m3 0h1m4 0h2m1 0h1m2 0h1m9 0h1m3 0h1M408 77h1m9 0h1m35 0h1m3 0h1m1 0h1M397 78h1m10 0h1m18 0h1m2 0h1m4 0h1m5 0h1M406 79h1m1 0h1m2 0h1m7 0h1m6 0h1m3 0h1m5 0h1m1 0h1m2 0h1m4 0h1m37 0h1M401 80h1m15 0h1m4 0h1m9 0h2m7 0h2m1 0h1m4 0h1M400 81h1m3 0h1m15 0h1m14 0h1m4 0h2m12 0h1m2 0h1m11 0h1M404 82h1m5 0h1m2 0h3m3 0h2m4 0h2m1 0h1m9 0h1m2 0h1m10 0h2m16 0h1m6 0h1M415 83h2m16 0h1m2 0h1m3 0h1m3 0h1m11 0h1m1 0h2M428 84h1m1 0h1m5 0h1m3 0h1m1 0h1m2 0h3m11 0h1m3 0h1m6 0h1m3 0h1M411 85h1m6 0h1m9 0h1m2 0h1m10 0h1m10 0h1m30 0h1M415 86h1m4 0h2m1 0h1m5 0h1m1 0h1m7 0h1m12 0h1m8 0h1m2 0h1M404 87h1m7 0h1m11 0h2m9 0h1m1 0h2m5 0h1m7 0h1m18 0h1M423 88h1m13 0h1m1 0h1M417 89h1m4 0h1m13 0h1m1 0h1m3 0h1m11 0h1m2 0h1m3 0h3M406 90h1m2 0h1m2 0h1m15 0h1m2 0h1m4 0h1m23 0h1M425 91h1m2 0h1m11 0h1m3 0h1m2 0h1m7 0h2m5 0h1m2 0h1m13 0h1M424 92h1m5 0h2m9 0h1m2 0h1m1 0h1m3 0h1m2 0h3m4 0h1m1 0h1m22 0h1M427 93h1m5 0h1m2 0h2m9 0h2m1 0h1m6 0h1m1 0h2m6 0h1M413 94h1m1 0h1m9 0h1m13 0h1m4 0h1m1 0h1m2 0h1m6 0h1m1 0h1m10 0h1m6 0h1M395 95h1m45 0h1m7 0h2m2 0h1m4 0h2m3 0h2m3 0h1m9 0h1m4 0h1M415 96h1m9 0h1m22 0h1m3 0h1m2 0h2m9 0h2m3 0h1m13 0h1M399 97h1m10 0h1m12 0h1m21 0h1m3 0h1m1 0h2m2 0h1m1 0h2m3 0h3m3 0h3m7 0h1M420 98h1m25 0h1m3 0h1m2 0h2m1 0h2m2 0h1m1 0h1m1 0h4m2 0h2m2 0h1m1 0h2M429 99h1m18 0h1m2 0h1m1 0h1m1 0h1m1 0h1m3 0h3m1 0h1m3 0h1m1 0h2m3 0h1m4 0h1M446 100h1m3 0h1m1 0h3m1 0h4m1 0h2m1 0h1m2 0h2M420 101h1m15 0h1m10 0h1m3 0h1m2 0h1m2 0h2m4 0h2m1 0h1m1 0h2m2 0h1M410 102h1m6 0h1m30 0h2m4 0h2m1 0h1m1 0h3m1 0h1m1 0h1m1 0h1m1 0h2m1 0h3M415 103h1m7 0h1m22 0h1m9 0h1m2 0h1m3 0h3m1 0h2m7 0h1m1 0h1m4 0h1M423 104h1m3 0h1m19 0h2m1 0h1m2 0h2m3 0h2m1 0h1m1 0h1m1 0h2m1 0h1m1 0h1m1 0h1m5 0h3M398 105h1m3 0h1m7 0h1m29 0h1m3 0h1m3 0h1m3 0h1m1 0h1m1 0h1m1 0h3m2 0h3m2 0h1m2 0h1m1 0h2m2 0h1m1 0h1M446 106h1m4 0h2m7 0h2m1 0h1m2 0h1m1 0h1m2 0h1M456 107h1m3 0h1m3 0h3m4 0h1m3 0h1m6 0h2M431 108h2m10 0h1m7 0h1m3 0h1m1 0h2m4 0h3m1 0h2m14 0h2M407 109h1m34 0h1m9 0h1m6 0h1m4 0h1m1 0h2m1 0h1m1 0h1m2 0h1m2 0h2M456 110h1m3 0h1m3 0h2m2 0h1m3 0h1m2 0h2M455 111h1m7 0h2m1 0h1m6 0h1M461 112h1m10 0h1m3 0h1m1 0h2M451 113h1m7 0h1m4 0h1m1 0h1m1 0h1M459 114h1m2 0h1m1 0h1m6 0h1m7 0h1m3 0h1M452 115h1m15 0h1m10 0h1M464 116h1M480 117h1m3 0h1M455 118h1M449 119h1M410 120h1M453 122h1m23 0h2M453 125h1M460 126h1M426 140h1" stroke="#b4b4b4"/>
<path d="M427 75h1M441 78h1M422 80h1m18 0h1M441 82h1M415 83h1M436 84h1M415 86h1M439 88h1M462 91h1M450 92h1m2 0h1M427 93h1m29 0h1m9 0h1M458 94h1M463 95h1m4 0h1M467 96h1M464 97h1M454 98h1m1 0h1m10 0h1M469 99h1m2 0h1M458 100h1M457 101h1m6 0h1m7 0h1M454 102h1m4 0h1m7 0h1m2 0h1M465 103h1m1 0h1M458 104h1m4 0h1m4 0h1m11 0h1M454 105h1M451 106h1m8 0h1m10 0h1M465 107h2M458 108h1m4 0h1m1 0h1m1 0h1m15 0h1M469 109h1m7 0h1M472 110h1M455 111h1m7 0h1m2 0h1M461 112h1M466 113h1M464 114h1" stroke="#6a6a6a"/>
</g>
<rect x="431.0" y="62.7" width="52.6" height="29.0" fill="none" stroke="#6d8cc8" stroke-width="1.20" />
<text x="469.3" y="71.8" font-size="5.9" font-weight="normal" text-anchor="start" fill="#3a3f9a" >16.7</text>
<text x="466.8" y="87.7" font-size="11.3" font-weight="bold" text-anchor="start" fill="#000" >R3</text>
<text x="378.5" y="72.5" font-size="6.5" font-weight="normal" text-anchor="middle" fill="#222" >10<tspan dy="-2.5" font-size="4.0">5</tspan></text>
<line x1="383.8" y1="70.2" x2="386.5" y2="70.2" stroke="#333" stroke-width="0.80" />
<text x="378.5" y="97.5" font-size="6.5" font-weight="normal" text-anchor="middle" fill="#222" >10<tspan dy="-2.5" font-size="4.0">4</tspan></text>
<line x1="383.8" y1="95.2" x2="386.5" y2="95.2" stroke="#333" stroke-width="0.80" />
<text x="378.5" y="122.8" font-size="6.5" font-weight="normal" text-anchor="middle" fill="#222" >10<tspan dy="-2.5" font-size="4.0">3</tspan></text>
<line x1="383.8" y1="120.5" x2="386.5" y2="120.5" stroke="#333" stroke-width="0.80" />
<text x="378.5" y="147.9" font-size="6.5" font-weight="normal" text-anchor="middle" fill="#222" >10<tspan dy="-2.5" font-size="4.0">2</tspan></text>
<line x1="383.8" y1="145.6" x2="386.5" y2="145.6" stroke="#333" stroke-width="0.80" />
<text x="400.0" y="169.3" font-size="6.5" font-weight="normal" text-anchor="middle" fill="#222" >10<tspan dy="-2.5" font-size="4.0">2</tspan></text>
<line x1="400.0" y1="158.0" x2="400.0" y2="160.0" stroke="#333" stroke-width="0.80" />
<text x="424.8" y="169.3" font-size="6.5" font-weight="normal" text-anchor="middle" fill="#222" >10<tspan dy="-2.5" font-size="4.0">3</tspan></text>
<line x1="424.8" y1="158.0" x2="424.8" y2="160.0" stroke="#333" stroke-width="0.80" />
<text x="449.8" y="169.3" font-size="6.5" font-weight="normal" text-anchor="middle" fill="#222" >10<tspan dy="-2.5" font-size="4.0">4</tspan></text>
<line x1="449.8" y1="158.0" x2="449.8" y2="160.0" stroke="#333" stroke-width="0.80" />
<text x="474.9" y="169.3" font-size="6.5" font-weight="normal" text-anchor="middle" fill="#222" >10<tspan dy="-2.5" font-size="4.0">5</tspan></text>
<line x1="474.9" y1="158.0" x2="474.9" y2="160.0" stroke="#333" stroke-width="0.80" />
<text x="90.5" y="211.3" font-size="11.3" font-weight="bold" text-anchor="middle" fill="#000" >FMO GFP</text>
<rect x="44.5" y="224.5" width="96.7" height="96.0" fill="none" stroke="#777" stroke-width="0.80" />
<g transform="translate(0 .5)" fill="none" stroke-width="1" shape-rendering="crispEdges" opacity="1.00" filter="url(#bl)">
<path d="M73 237h1M73 250h1M69 251h2m7 0h1M72 252h1m1 0h1m3 0h1M77 253h1M70 256h1m1 0h4M73 257h1m5 0h1M73 258h1M66 259h1M71 260h3m5 0h1M71 261h1m2 0h2m1 0h1M75 262h2M70 263h2m1 0h1m1 0h1M71 264h4m2 0h1m1 0h1M69 265h1m1 0h6m1 0h1M70 266h4m1 0h1m1 0h1M66 267h1m3 0h2m1 0h1m2 0h1M68 268h1m1 0h2m1 0h4m4 0h1M69 269h7m1 0h1M68 270h1m1 0h8M69 271h6M67 272h10m1 0h1M64 273h1m1 0h1m1 0h8M66 274h1m1 0h8m2 0h1M65 275h2m1 0h9m1 0h1M68 276h9M67 277h10M65 278h1m1 0h10M66 279h1m2 0h10M67 280h8m2 0h2M65 281h1m1 0h9m2 0h1M65 282h11m1 0h1M65 283h10M64 284h1m1 0h10m2 0h1m1 0h1M65 285h10m1 0h1M63 286h14M65 287h12M66 288h10M64 289h13M63 290h1m1 0h11M65 291h11M62 292h1m1 0h11m1 0h2M63 293h12m1 0h1M65 294h10m1 0h1M64 295h11M63 296h13M64 297h12M61 298h1m1 0h13M65 299h9M60 300h1m1 0h13M62 301h12M64 302h12M61 303h2m1 0h11M62 304h11m1 0h2M64 305h10m1 0h1M62 306h12M64 307h11M59 308h1m2 0h11M62 309h10m2 0h1M61 310h2m1 0h9M61 311h1m1 0h10M62 312h1m1 0h8M63 313h9M64 314h7M61 315h1m1 0h8M64 316h8M61 317h1m1 0h7M62 318h1m1 0h2m1 0h3" stroke="#8a8a8a"/>
<path d="M72 260h1M74 261h2M76 262h1M75 263h1M71 264h2m1 0h1M76 265h1M70 266h2m1 0h1M70 267h2m4 0h1M70 268h1m2 0h4M70 269h3m1 0h2M70 270h1m2 0h2M69 271h5M69 272h5m1 0h1M68 273h8M69 274h6M68 275h7m1 0h1M68 276h1m1 0h5M68 277h7m1 0h1M69 278h7M69 279h7m1 0h1M67 280h7M67 281h9M66 282h10M66 283h1m1 0h7M66 284h10M65 285h10m1 0h1M65 286h11M66 287h10M66 288h10M66 289h10M65 290h9M65 291h10M62 292h1m1 0h1m1 0h9M65 293h10M65 294h10M64 295h11M63 296h12M64 297h12M63 298h12M65 299h8M63 300h12M63 301h11M64 302h11M65 303h10M63 304h10M64 305h10M63 306h11M64 307h9M62 308h11M63 309h9M64 310h9M63 311h8M64 312h8M64 313h8M65 314h6M63 315h8M64 316h8M63 317h7M67 318h1" stroke="#4a4a4a"/>
<path d="M75 263h1M76 265h1M73 268h1M70 269h1M70 270h1m2 0h1M70 271h1m2 0h1M71 272h3M68 273h8M69 274h6M68 275h7m1 0h1M68 276h1m1 0h5M68 277h7M69 278h7M69 279h7M67 280h7M67 281h9M67 282h8M66 283h1m1 0h7M67 284h9M65 285h1m1 0h8M65 286h10M66 287h10M66 288h10M66 289h8m1 0h1M65 290h9M65 291h9M64 292h1m1 0h9M65 293h10M65 294h10M65 295h9M63 296h1m1 0h10M65 297h9M63 298h1m1 0h9M65 299h8M63 300h11M65 301h9M64 302h9m1 0h1M65 303h9M63 304h10M64 305h8m1 0h1M63 306h10M64 307h9M63 308h10M63 309h9M64 310h9M63 311h8M64 312h7M64 313h8M65 314h6M64 315h6M64 316h6M63 317h5M67 318h1" stroke="#111111"/>
</g>
<path d="M86.2 240L128.8 240.5V319.5H71.8L81.2 305Q84 285 86.2 240z" stroke="#2a2a2a" stroke-width="0.95" fill="none" stroke-linejoin="round"/>
<text x="100.5" y="254.6" font-size="5.9" font-weight="normal" text-anchor="start" fill="#3a3f9a" >8.71E-3</text>
<text x="41.5" y="249.1" font-size="4.8" font-weight="normal" text-anchor="end" fill="#111" >150K</text>
<line x1="42.3" y1="247.5" x2="44.5" y2="247.5" stroke="#333" stroke-width="0.70" />
<text x="41.5" y="273.6" font-size="4.8" font-weight="normal" text-anchor="end" fill="#111" >100K</text>
<line x1="42.3" y1="272.0" x2="44.5" y2="272.0" stroke="#333" stroke-width="0.70" />
<text x="41.5" y="297.8" font-size="4.8" font-weight="normal" text-anchor="end" fill="#111" >50K</text>
<line x1="42.3" y1="296.2" x2="44.5" y2="296.2" stroke="#333" stroke-width="0.70" />
<text x="41.5" y="320.4" font-size="4.8" font-weight="normal" text-anchor="end" fill="#111" >0</text>
<line x1="42.3" y1="318.8" x2="44.5" y2="318.8" stroke="#333" stroke-width="0.70" />
<text x="49.5" y="332.3" font-size="4.8" font-weight="normal" text-anchor="middle" fill="#111" >-10<tspan dy="-1.5" font-size="2.6">3</tspan></text>
<text x="66.2" y="332.3" font-size="4.8" font-weight="normal" text-anchor="middle" fill="#111" >0</text>
<text x="82.5" y="332.3" font-size="4.8" font-weight="normal" text-anchor="middle" fill="#111" >10<tspan dy="-1.5" font-size="2.6">3</tspan></text>
<text x="111.8" y="332.3" font-size="4.8" font-weight="normal" text-anchor="middle" fill="#111" >10<tspan dy="-1.5" font-size="2.6">4</tspan></text>
<text x="132.5" y="332.3" font-size="4.8" font-weight="normal" text-anchor="middle" fill="#111" >10<tspan dy="-1.5" font-size="2.6">5</tspan></text>
<path d="M49.5 320.5v2.2M66.2 320.5v2.2M82.5 320.5v2.2M111.8 320.5v2.2M132.5 320.5v2.2M62.7 320.5v2M63.7 320.5v2M64.7 320.5v2M65.5 320.5v2M66.9 320.5v2M67.7 320.5v2M68.7 320.5v2M91.3 320.5v1.4M96.5 320.5v1.4M100.1 320.5v1.4M103.0 320.5v1.4M105.3 320.5v1.4M107.3 320.5v1.4M109.0 320.5v1.4M110.5 320.5v1.4M118.0 320.5v1.4M121.7 320.5v1.4M124.3 320.5v1.4M126.3 320.5v1.4M127.9 320.5v1.4M129.3 320.5v1.4M130.5 320.5v1.4M131.6 320.5v1.4M75.1 320.5v1.4M77.0 320.5v1.4M78.3 320.5v1.4M79.3 320.5v1.4M80.1 320.5v1.4M80.9 320.5v1.4M81.5 320.5v1.4M82.0 320.5v1.4" stroke="#333" stroke-width="0.6"/>
<path d="M44.5 314.0h-1.2M44.5 309.3h-1.2M44.5 304.5h-1.2M44.5 299.8h-1.2M44.5 295.0h-1.2M44.5 290.3h-1.2M44.5 285.5h-1.2M44.5 280.8h-1.2M44.5 276.0h-1.2M44.5 271.3h-1.2M44.5 266.5h-1.2M44.5 261.8h-1.2M44.5 257.0h-1.2M44.5 252.3h-1.2M44.5 247.5h-1.2" stroke="#555" stroke-width="0.5"/>
<text x="160.0" y="211.3" font-size="11.2" font-weight="normal" text-anchor="start" fill="#000" ><tspan font-weight="bold">R1:</tspan> Endothelial cells</text>
<rect x="162.5" y="222.0" width="97.5" height="97.5" fill="none" stroke="#777" stroke-width="0.80" />
<g transform="translate(0 .5)" fill="none" stroke-width="1" shape-rendering="crispEdges" opacity="1.00" filter="url(#bl)">
<path d="M205 244h1M191 246h1m15 0h1M193 247h1M220 248h1m5 0h1M188 251h1m1 0h1m2 0h1m1 0h2M189 252h1m2 0h2M187 253h1m4 0h1m6 0h1m4 0h1m9 0h1m11 0h1M186 254h1m3 0h2m3 0h2m10 0h1M195 255h1m6 0h1m2 0h1m22 0h1m12 0h1M196 256h2m2 0h1M188 257h2m1 0h4m1 0h2m14 0h2M195 258h2m5 0h1M186 259h3m1 0h1m1 0h1m2 0h2m2 0h3m21 0h1M193 260h2m1 0h1m1 0h1m6 0h1m2 0h1m30 0h1M186 261h1m2 0h1m1 0h5m2 0h1m1 0h1m10 0h1m3 0h1M188 262h2m2 0h1m1 0h3M188 263h3m2 0h1m1 0h2m3 0h1m8 0h1m1 0h1m9 0h1M187 264h1m1 0h1m1 0h1m3 0h1m1 0h1m2 0h2m15 0h1m14 0h1M187 265h6m1 0h2m3 0h1m11 0h1m2 0h1M189 266h4m2 0h3m1 0h1m2 0h1m8 0h1m4 0h1m9 0h1M187 267h5m1 0h5m1 0h2M187 268h6m1 0h2m3 0h1m12 0h1m1 0h1m6 0h2M183 269h1m1 0h1m1 0h1m1 0h4m2 0h2m17 0h1m18 0h1M185 270h2m1 0h7m1 0h5m1 0h1M183 271h1m2 0h10m1 0h5m2 0h1m21 0h1M187 272h7m1 0h1m1 0h2m1 0h1m6 0h1m1 0h2m5 0h1M187 273h9m1 0h1m1 0h1m3 0h1m6 0h2m1 0h1M184 274h12m1 0h1m3 0h1m4 0h1m2 0h1m7 0h2M186 275h6m1 0h2m1 0h2m6 0h1m1 0h1m6 0h1M184 276h9m1 0h4m2 0h1m1 0h1m3 0h1m6 0h1M185 277h13m3 0h1m8 0h1m2 0h1m2 0h1M184 278h12m5 0h2m1 0h1m10 0h1m6 0h1M184 279h19m1 0h3m1 0h1m1 0h2m1 0h2m1 0h1m6 0h1m6 0h1m1 0h2M185 280h15m6 0h1m1 0h2m6 0h1m1 0h1M184 281h15m1 0h1m3 0h1m1 0h1m1 0h1m3 0h3m2 0h1m1 0h1m7 0h1M184 282h18m2 0h1m1 0h2m5 0h1m3 0h2m9 0h1M183 283h14m1 0h1m1 0h1m2 0h1m3 0h1m2 0h1m2 0h2m2 0h1m2 0h1m3 0h1m7 0h1M183 284h1m1 0h17m2 0h4m4 0h1m1 0h2m3 0h1M183 285h1m2 0h15m1 0h1m1 0h2m2 0h1m1 0h1m10 0h1m4 0h1m5 0h1M183 286h21m6 0h1m10 0h1M183 287h17m1 0h5m1 0h2m2 0h1m6 0h2m1 0h1m1 0h1m4 0h1m3 0h1M182 288h17m1 0h2m1 0h3m3 0h1m4 0h1m2 0h1m5 0h1M183 289h17m2 0h1m1 0h7m1 0h1m1 0h1m4 0h1m4 0h2m13 0h1M184 290h16m1 0h3m1 0h2m3 0h1m2 0h1m1 0h1m3 0h2m3 0h2m4 0h1m4 0h1M182 291h14m1 0h3m1 0h7m1 0h2m11 0h1M183 292h18m1 0h5m2 0h2m1 0h1m1 0h2m1 0h1m10 0h1m4 0h1M182 293h21m2 0h2m1 0h3m5 0h1m5 0h1M182 294h19m2 0h1m2 0h1m2 0h1m1 0h2m7 0h1m6 0h1m1 0h1M181 295h1m1 0h21m1 0h1m3 0h3m3 0h1m13 0h1M182 296h22m1 0h6m2 0h1m3 0h1m7 0h3m8 0h1M183 297h20m1 0h2m1 0h2m1 0h3m1 0h2m1 0h1m1 0h2m2 0h2M181 298h25m1 0h2m1 0h1m1 0h2m1 0h4M182 299h16m3 0h3m1 0h1m1 0h2m1 0h2m2 0h1m4 0h1m2 0h1M183 300h14m1 0h1m1 0h2m2 0h1m1 0h3m2 0h1m6 0h2m6 0h1m2 0h1m3 0h1M182 301h23m1 0h1m2 0h1m2 0h2m4 0h1m10 0h2M181 302h18m1 0h4m1 0h1m1 0h1m2 0h2m1 0h2M181 303h22m1 0h1m1 0h1m1 0h1m1 0h3m8 0h1M182 304h19m1 0h2m2 0h2m2 0h2m1 0h1m5 0h1M182 305h17m3 0h3m3 0h3m2 0h4m1 0h1m2 0h1M181 306h22m5 0h1m3 0h1m6 0h1M182 307h18m1 0h1m2 0h1m1 0h1m5 0h1m2 0h1m3 0h2M182 308h14m1 0h12m5 0h2m1 0h1M181 309h13m1 0h3m1 0h2m1 0h1m1 0h3m3 0h2m32 0h1M182 310h16m1 0h1m1 0h2m6 0h1m10 0h1M181 311h1m1 0h14m1 0h1m1 0h2m2 0h1m3 0h1m8 0h1m4 0h1M183 312h12m1 0h3m3 0h1M182 313h13m5 0h1m2 0h1m9 0h1M182 314h13m4 0h1m4 0h1m3 0h1M182 315h1m1 0h7m1 0h5m2 0h2m3 0h1m2 0h2m3 0h1m3 0h1M183 316h11m1 0h2m1 0h1m8 0h1m13 0h1m10 0h1M181 317h2m2 0h2m3 0h2m3 0h1m5 0h1" stroke="#8a8a8a"/>
<path d="M193 251h1m2 0h1M187 253h1M195 255h1M196 256h1M189 257h1m7 0h1m15 0h1M192 259h1m3 0h1M194 260h1M198 261h1M188 262h1m6 0h1M195 263h1m13 0h1M187 264h1m1 0h1m1 0h1m3 0h1M189 265h1m2 0h1m1 0h2M192 266h1m9 0h1M187 267h1m1 0h1m1 0h1m2 0h1m5 0h1M187 268h1m1 0h4m1 0h1m4 0h1m22 0h1M187 269h1m3 0h1M186 270h1m1 0h1m1 0h5m1 0h2m4 0h1M188 271h2m1 0h5m8 0h1M187 272h2m1 0h4m1 0h1m1 0h2M187 273h8M186 274h3m1 0h6M186 275h4m1 0h1m1 0h2m1 0h2M186 276h7m1 0h2m1 0h1M186 277h6m2 0h2m14 0h1M186 278h9m7 0h1m19 0h1M185 279h11m2 0h1m1 0h1m3 0h1m1 0h1m7 0h1m8 0h1M185 280h10m1 0h2M184 281h13M184 282h15m1 0h1m3 0h1m12 0h1M183 283h14m1 0h1m1 0h1m6 0h1M185 284h10m1 0h1m2 0h2M183 285h1m2 0h12m2 0h1m4 0h1m2 0h1M185 286h15m1 0h3m6 0h1M183 287h17m3 0h1m19 0h1M182 288h1m1 0h12m1 0h2m1 0h2M184 289h16m2 0h1m1 0h1m1 0h3m1 0h1M184 290h15m2 0h3m15 0h1M183 291h13m1 0h1m1 0h1m1 0h2m3 0h1m15 0h1M183 292h17m2 0h1m1 0h3m10 0h1M183 293h12m1 0h2m1 0h3m3 0h2M182 294h1m1 0h12m2 0h2m3 0h1m7 0h1M183 295h15m1 0h4m2 0h1m5 0h1M182 296h15m1 0h5m10 0h1m12 0h1M183 297h19m17 0h1M183 298h16m2 0h3m13 0h1M182 299h14m1 0h1m5 0h1m3 0h2M183 300h14m1 0h1m5 0h1m1 0h1m12 0h1M183 301h13m1 0h1m1 0h1m1 0h3m2 0h1M182 302h17m1 0h2m12 0h1M181 303h16m1 0h1m1 0h1m1 0h1m1 0h1m1 0h1m1 0h1m1 0h1M182 304h18m3 0h1m3 0h1m3 0h1M182 305h17m5 0h1m5 0h1m5 0h1M182 306h17m1 0h2M183 307h14m1 0h1m13 0h1M183 308h13m1 0h1m2 0h1m2 0h4M182 309h12m1 0h2m5 0h1m3 0h1M182 310h16M184 311h11m6 0h1m2 0h1M183 312h9m1 0h1m3 0h1M183 313h12M182 314h10m16 0h1M185 315h1m1 0h4m1 0h5M184 316h2m1 0h1m1 0h1m1 0h2m2 0h2M182 317h1m2 0h2m3 0h1m4 0h1" stroke="#4a4a4a"/>
<path d="M189 257h1M198 261h1M195 263h1M191 264h1m3 0h1M195 265h1M192 266h1M187 267h1M189 268h2m1 0h1M191 269h1M188 270h1m3 0h1m4 0h1M188 271h1m2 0h5M188 272h1m1 0h2m3 0h1m2 0h1M187 273h3m1 0h2m1 0h1M187 274h2m1 0h1m1 0h4M191 275h1m1 0h2M187 276h6m1 0h2M187 277h5m2 0h1M186 278h4m2 0h2M185 279h11m2 0h1m15 0h1M185 280h10M185 281h12M185 282h11M183 283h1m1 0h12M185 284h10m1 0h1m2 0h1M186 285h10m1 0h1m2 0h1M185 286h12m2 0h1m2 0h1M184 287h16m3 0h1M185 288h11m1 0h1m2 0h2M185 289h10m1 0h2m1 0h1m2 0h1m4 0h1M184 290h13m1 0h1m2 0h2M184 291h12m1 0h1M184 292h13m2 0h1M183 293h12m1 0h2m1 0h1m1 0h1m3 0h1M185 294h11m2 0h2M184 295h12m1 0h1m1 0h2m1 0h1m8 0h1M182 296h15m1 0h1m1 0h3M184 297h18M183 298h14m1 0h1m2 0h1M182 299h14m1 0h1m10 0h1M183 300h14m1 0h1M183 301h13m1 0h1m4 0h2M182 302h12m1 0h3m2 0h1M183 303h14m1 0h1M182 304h14m1 0h2M182 305h13m1 0h2M183 306h12m1 0h2m3 0h1M183 307h14M183 308h13m1 0h1m2 0h1m2 0h1m1 0h1M182 309h12m1 0h1M182 310h12m1 0h1M184 311h6m1 0h4M183 312h9m1 0h1m3 0h1M183 313h2m1 0h4m1 0h2M183 314h6m2 0h1M185 315h1m1 0h4m2 0h1m2 0h1M184 316h1m2 0h1m4 0h1M185 317h1" stroke="#111111"/>
</g>
<path d="M202.5 242.5H247.5V317H190L198.8 301.2Q202.5 288 202.5 268z" stroke="#2a2a2a" stroke-width="0.95" fill="none" stroke-linejoin="round"/>
<text x="229.5" y="256.6" font-size="5.9" font-weight="normal" text-anchor="start" fill="#3a3f9a" >10.3</text>
<text x="159.5" y="246.6" font-size="4.8" font-weight="normal" text-anchor="end" fill="#111" >150K</text>
<line x1="160.3" y1="245.0" x2="162.5" y2="245.0" stroke="#333" stroke-width="0.70" />
<text x="159.5" y="272.1" font-size="4.8" font-weight="normal" text-anchor="end" fill="#111" >100K</text>
<line x1="160.3" y1="270.5" x2="162.5" y2="270.5" stroke="#333" stroke-width="0.70" />
<text x="159.5" y="297.1" font-size="4.8" font-weight="normal" text-anchor="end" fill="#111" >50K</text>
<line x1="160.3" y1="295.5" x2="162.5" y2="295.5" stroke="#333" stroke-width="0.70" />
<text x="159.5" y="320.4" font-size="4.8" font-weight="normal" text-anchor="end" fill="#111" >0</text>
<line x1="160.3" y1="318.8" x2="162.5" y2="318.8" stroke="#333" stroke-width="0.70" />
<text x="168.8" y="331.3" font-size="4.8" font-weight="normal" text-anchor="middle" fill="#111" >-10<tspan dy="-1.5" font-size="2.6">3</tspan></text>
<text x="185.0" y="331.3" font-size="4.8" font-weight="normal" text-anchor="middle" fill="#111" >0</text>
<text x="201.2" y="331.3" font-size="4.8" font-weight="normal" text-anchor="middle" fill="#111" >10<tspan dy="-1.5" font-size="2.6">3</tspan></text>
<text x="230.0" y="331.3" font-size="4.8" font-weight="normal" text-anchor="middle" fill="#111" >10<tspan dy="-1.5" font-size="2.6">4</tspan></text>
<text x="253.0" y="331.3" font-size="4.8" font-weight="normal" text-anchor="middle" fill="#111" >10<tspan dy="-1.5" font-size="2.6">5</tspan></text>
<path d="M168.8 319.5v2.2M185.0 319.5v2.2M201.2 319.5v2.2M230.0 319.5v2.2M253.0 319.5v2.2M181.5 319.5v2M182.5 319.5v2M183.5 319.5v2M184.3 319.5v2M185.7 319.5v2M186.5 319.5v2M187.5 319.5v2M209.9 319.5v1.4M214.9 319.5v1.4M218.5 319.5v1.4M221.3 319.5v1.4M223.6 319.5v1.4M225.5 319.5v1.4M227.2 319.5v1.4M228.7 319.5v1.4M236.9 319.5v1.4M241.0 319.5v1.4M243.8 319.5v1.4M246.1 319.5v1.4M247.9 319.5v1.4M249.4 319.5v1.4M250.8 319.5v1.4M251.9 319.5v1.4M193.8 319.5v1.4M195.7 319.5v1.4M197.0 319.5v1.4M198.0 319.5v1.4M198.9 319.5v1.4M199.6 319.5v1.4M200.2 319.5v1.4M200.7 319.5v1.4" stroke="#333" stroke-width="0.6"/>
<path d="M162.5 313.9h-1.2M162.5 309.0h-1.2M162.5 304.0h-1.2M162.5 299.1h-1.2M162.5 294.2h-1.2M162.5 289.3h-1.2M162.5 284.4h-1.2M162.5 279.4h-1.2M162.5 274.5h-1.2M162.5 269.6h-1.2M162.5 264.7h-1.2M162.5 259.8h-1.2M162.5 254.8h-1.2M162.5 249.9h-1.2M162.5 245.0h-1.2" stroke="#555" stroke-width="0.5"/>
<text x="281.5" y="211.3" font-size="11.3" font-weight="normal" text-anchor="start" fill="#000" ><tspan font-weight="bold">R2:</tspan> Pre-HSC Type I</text>
<rect x="283.2" y="222.0" width="96.8" height="97.5" fill="none" stroke="#777" stroke-width="0.80" />
<g transform="translate(0 .5)" fill="none" stroke-width="1" shape-rendering="crispEdges" opacity="1.00" filter="url(#bl)">
<path d="M315 248h1M314 252h3M310 254h1m8 0h1m3 0h1M313 255h1m20 0h1M311 256h2M312 257h1M308 258h1M315 259h1M309 261h1m4 0h1M306 262h1m1 0h2m4 0h2m5 0h1m4 0h1M310 263h1m1 0h2m4 0h1m1 0h1m1 0h1m5 0h1M308 264h2m2 0h2m1 0h1m1 0h1m2 0h1m13 0h1M310 265h1m13 0h1M309 266h2m1 0h2m1 0h2m7 0h1M308 267h1m6 0h1m8 0h1M307 268h5m2 0h1m2 0h1m4 0h1M307 269h1m2 0h2m5 0h1m1 0h1m1 0h1m9 0h1M308 270h1m1 0h3m1 0h1m1 0h1M307 271h3m1 0h1m4 0h3m4 0h1m13 0h1M309 272h1m1 0h1m1 0h1m2 0h1m3 0h1m3 0h2m16 0h1M305 273h2m1 0h1m1 0h1m1 0h1m2 0h3m2 0h1m9 0h1m22 0h1M306 274h1m2 0h3m2 0h1m1 0h1m4 0h2M308 275h4m1 0h1m1 0h1m2 0h1m3 0h1M306 276h2m1 0h3m3 0h4m3 0h1m3 0h1m2 0h1m2 0h1M308 277h1m2 0h4m1 0h1m1 0h1m3 0h1M306 278h2m3 0h3m5 0h2m1 0h2M305 279h1m2 0h5m2 0h1m1 0h1m1 0h2m5 0h1M307 280h2m3 0h4m3 0h1m2 0h3m1 0h1m1 0h1M304 281h1m1 0h9m1 0h2m8 0h1M305 282h1m2 0h5m2 0h1m2 0h1m4 0h1m1 0h1m3 0h2M305 283h6m1 0h2m1 0h4m6 0h1m16 0h1M305 284h10m4 0h1m1 0h4m2 0h1m1 0h1m4 0h1M304 285h1m1 0h3m1 0h4m1 0h1m5 0h1m3 0h1m13 0h1m7 0h1M305 286h9m1 0h2m2 0h2m8 0h1m10 0h1M306 287h4m1 0h1m1 0h3m3 0h1m9 0h1M305 288h11m1 0h1m4 0h1m1 0h1M305 289h1m1 0h10m1 0h2M304 290h2m1 0h4m2 0h3m1 0h2m6 0h1m10 0h1M305 291h1m1 0h6m1 0h2m3 0h1m4 0h1m3 0h1m10 0h1M305 292h11m3 0h2m3 0h1m1 0h1m2 0h1M305 293h10m1 0h1m2 0h1m1 0h1m3 0h1m3 0h1m4 0h1M306 294h10m7 0h1m1 0h1m4 0h1m6 0h1M304 295h2m1 0h10m2 0h1m13 0h1m1 0h1m2 0h1M304 296h13m6 0h1M304 297h5m1 0h3m2 0h1m11 0h1m5 0h1m1 0h1M300 298h1m5 0h9m1 0h1m9 0h1m20 0h1M305 299h9m1 0h2m3 0h1M305 300h1m1 0h5m1 0h1m2 0h1m2 0h1M305 301h7m1 0h1m1 0h3m4 0h1m7 0h1m21 0h1M304 302h7m1 0h2m3 0h1m4 0h1m12 0h1M304 303h1m1 0h3m1 0h4m2 0h1m5 0h1m19 0h1M305 304h7m3 0h1m5 0h1M305 305h7m12 0h1M304 306h8m29 0h1M306 307h7m1 0h2m5 0h1m6 0h1m1 0h1M305 308h1m1 0h5m1 0h1m1 0h1m6 0h1m11 0h1M305 309h1m1 0h3m2 0h1m5 0h1m7 0h1M302 310h2m2 0h4m2 0h1m1 0h1m4 0h1M304 311h3m1 0h2m1 0h2m3 0h1M305 312h4m1 0h1m1 0h1m18 0h1M310 313h2m1 0h3M307 314h1m6 0h1M304 315h2m2 0h1M303 316h1m3 0h2M305 317h1m3 0h1" stroke="#999"/>
<path d="M312 256h1M315 259h1M310 268h1M310 269h1m10 0h1M314 270h1M308 273h1m3 0h1m3 0h1m3 0h1M306 274h1m9 0h1m4 0h1M310 275h2m1 0h1m1 0h1m6 0h1M309 276h3m10 0h1M311 277h1M306 278h1m4 0h1m1 0h1m9 0h1M308 279h3m1 0h1M308 280h1m3 0h1m2 0h1m6 0h1M306 281h1m2 0h1m1 0h4M308 282h1m1 0h1m1 0h1m5 0h1M308 283h1m1 0h1M306 284h7M308 285h1m1 0h1m1 0h2m7 0h1m3 0h1M305 286h7m3 0h2M306 287h4m1 0h1M306 288h5m2 0h2m2 0h1m4 0h1m1 0h1M305 289h1m1 0h5m2 0h1m1 0h1M305 290h1m1 0h2m1 0h1m2 0h1m1 0h1M305 291h1m1 0h4m1 0h1M306 292h7m6 0h1M305 293h7m2 0h1M306 294h8m1 0h1M304 295h1m2 0h2m1 0h3M305 296h6m2 0h1m1 0h1M305 297h4m1 0h3M307 298h5m1 0h2M306 299h5m2 0h1M305 300h1m1 0h2m1 0h2M306 301h4m1 0h1m4 0h1m13 0h1M306 302h3m3 0h1M304 303h1m1 0h2m2 0h1m1 0h2m2 0h1M305 304h2m2 0h1m1 0h1M305 305h6M305 306h4m1 0h2M309 307h1M308 308h3M305 309h1m3 0h1M306 310h1m2 0h1M306 311h1M308 312h1M305 315h1" stroke="#555"/>
<path d="M315 259h1M308 273h1m3 0h1M316 274h1M311 275h1M310 276h1M306 278h1M312 280h1M309 281h1m3 0h2M310 282h1M306 284h1m1 0h1m2 0h1M310 285h1M305 286h1m1 0h1m1 0h2m4 0h1M306 287h1m1 0h2M306 288h1m2 0h1M305 289h1m1 0h1m1 0h2m3 0h1M307 290h2m1 0h1M305 291h1m1 0h4m1 0h1M306 292h2m1 0h3M307 293h5m2 0h1M306 294h2m1 0h3M307 295h2m3 0h1M305 296h6m2 0h1M307 297h2m1 0h3M307 298h1m1 0h2M306 299h4M305 300h1m1 0h2m2 0h1M306 301h2m1 0h1m1 0h1M306 302h1m1 0h1M307 303h1m2 0h1m5 0h1M305 304h2m2 0h1m1 0h1M305 305h6M308 306h1m2 0h1M309 308h2M305 309h1M309 310h1M306 311h1" stroke="#222"/>
</g>
<path d="M322.5 237.5H367.5V315.8H310L319.5 298.8Q322.5 288 322.5 266z" stroke="#2a2a2a" stroke-width="0.95" fill="none" stroke-linejoin="round"/>
<text x="349.5" y="254.6" font-size="5.9" font-weight="normal" text-anchor="start" fill="#3a3f9a" >19.2</text>
<text x="280.2" y="247.1" font-size="4.8" font-weight="normal" text-anchor="end" fill="#111" >150K</text>
<line x1="281.0" y1="245.5" x2="283.2" y2="245.5" stroke="#333" stroke-width="0.70" />
<text x="280.2" y="272.1" font-size="4.8" font-weight="normal" text-anchor="end" fill="#111" >100K</text>
<line x1="281.0" y1="270.5" x2="283.2" y2="270.5" stroke="#333" stroke-width="0.70" />
<text x="280.2" y="297.1" font-size="4.8" font-weight="normal" text-anchor="end" fill="#111" >50K</text>
<line x1="281.0" y1="295.5" x2="283.2" y2="295.5" stroke="#333" stroke-width="0.70" />
<text x="280.2" y="319.6" font-size="4.8" font-weight="normal" text-anchor="end" fill="#111" >0</text>
<line x1="281.0" y1="318.0" x2="283.2" y2="318.0" stroke="#333" stroke-width="0.70" />
<text x="289.5" y="331.3" font-size="4.8" font-weight="normal" text-anchor="middle" fill="#111" >-10<tspan dy="-1.5" font-size="2.6">3</tspan></text>
<text x="305.8" y="331.3" font-size="4.8" font-weight="normal" text-anchor="middle" fill="#111" >0</text>
<text x="322.8" y="331.3" font-size="4.8" font-weight="normal" text-anchor="middle" fill="#111" >10<tspan dy="-1.5" font-size="2.6">3</tspan></text>
<text x="350.8" y="331.3" font-size="4.8" font-weight="normal" text-anchor="middle" fill="#111" >10<tspan dy="-1.5" font-size="2.6">4</tspan></text>
<text x="373.2" y="331.3" font-size="4.8" font-weight="normal" text-anchor="middle" fill="#111" >10<tspan dy="-1.5" font-size="2.6">5</tspan></text>
<path d="M289.5 319.5v2.2M305.8 319.5v2.2M322.8 319.5v2.2M350.8 319.5v2.2M373.2 319.5v2.2M302.3 319.5v2M303.3 319.5v2M304.3 319.5v2M305.1 319.5v2M306.5 319.5v2M307.3 319.5v2M308.3 319.5v2M331.2 319.5v1.4M336.2 319.5v1.4M339.7 319.5v1.4M342.4 319.5v1.4M344.6 319.5v1.4M346.5 319.5v1.4M348.1 319.5v1.4M349.5 319.5v1.4M357.5 319.5v1.4M361.5 319.5v1.4M364.3 319.5v1.4M366.5 319.5v1.4M368.2 319.5v1.4M369.7 319.5v1.4M371.0 319.5v1.4M372.2 319.5v1.4M315.1 319.5v1.4M317.0 319.5v1.4M318.4 319.5v1.4M319.5 319.5v1.4M320.3 319.5v1.4M321.1 319.5v1.4M321.7 319.5v1.4M322.3 319.5v1.4" stroke="#333" stroke-width="0.6"/>
<path d="M283.2 313.2h-1.2M283.2 308.3h-1.2M283.2 303.5h-1.2M283.2 298.7h-1.2M283.2 293.8h-1.2M283.2 289.0h-1.2M283.2 284.2h-1.2M283.2 279.3h-1.2M283.2 274.5h-1.2M283.2 269.7h-1.2M283.2 264.8h-1.2M283.2 260.0h-1.2M283.2 255.2h-1.2M283.2 250.3h-1.2M283.2 245.5h-1.2" stroke="#555" stroke-width="0.5"/>
<text x="397.5" y="211.3" font-size="11.3" font-weight="normal" text-anchor="start" fill="#000" ><tspan font-weight="bold">R3:</tspan> Pre-HSC Type II</text>
<rect x="400.5" y="222.0" width="100.0" height="97.5" fill="none" stroke="#777" stroke-width="0.80" />
<g transform="translate(0 .5)" fill="none" stroke-width="1" shape-rendering="crispEdges" opacity="1.00" filter="url(#bl)">
<path d="M461 269h1M451 270h1m1 0h1M445 271h1M443 273h1m3 0h1M440 274h1M440 275h1m17 0h1M444 276h1m23 0h1M440 277h1m8 0h1m2 0h1M445 279h1M445 281h1m20 0h1M437 284h1M444 285h1m9 0h1M435 286h1m5 0h1M440 287h1m7 0h1M440 288h1m1 0h1M454 289h1m3 0h1m10 0h1M424 291h1m13 0h2m15 0h1m5 0h1M425 292h1m17 0h1M421 293h1m10 0h1m16 0h1M429 294h1M421 295h1m32 0h1M419 296h1m23 0h2m12 0h1M420 297h2m5 0h1m2 0h1M440 298h1m8 0h2M427 299h1m2 0h1m20 0h1M420 300h1m7 0h1M422 301h1m6 0h1m24 0h1M424 302h1m1 0h3m13 0h1M445 303h1M422 304h1m1 0h1m18 0h1M450 305h1M427 306h1M425 307h2M424 308h1m2 0h2m1 0h1M424 309h1M424 311h1M425 313h1M427 317h1" stroke="#c4c4c4"/>
<path d="M427 297h1M427 299h1m23 0h1M427 302h1m14 0h1M425 307h1M427 308h1" stroke="#909090"/>
</g>
<path d="M442 252.5H479.5V317.5H431.2L440 298.8Q443 285 442.5 270z" stroke="#2a2a2a" stroke-width="0.95" fill="none" stroke-linejoin="round"/>
<text x="463.8" y="266.3" font-size="5.9" font-weight="normal" text-anchor="start" fill="#3a3f9a" >34.5</text>
<text x="397.5" y="247.1" font-size="4.8" font-weight="normal" text-anchor="end" fill="#111" >150K</text>
<line x1="398.3" y1="245.5" x2="400.5" y2="245.5" stroke="#333" stroke-width="0.70" />
<text x="397.5" y="272.1" font-size="4.8" font-weight="normal" text-anchor="end" fill="#111" >100K</text>
<line x1="398.3" y1="270.5" x2="400.5" y2="270.5" stroke="#333" stroke-width="0.70" />
<text x="397.5" y="297.1" font-size="4.8" font-weight="normal" text-anchor="end" fill="#111" >50K</text>
<line x1="398.3" y1="295.5" x2="400.5" y2="295.5" stroke="#333" stroke-width="0.70" />
<text x="397.5" y="319.6" font-size="4.8" font-weight="normal" text-anchor="end" fill="#111" >0</text>
<line x1="398.3" y1="318.0" x2="400.5" y2="318.0" stroke="#333" stroke-width="0.70" />
<text x="406.2" y="331.3" font-size="4.8" font-weight="normal" text-anchor="middle" fill="#111" >-10<tspan dy="-1.5" font-size="2.6">3</tspan></text>
<text x="422.5" y="331.3" font-size="4.8" font-weight="normal" text-anchor="middle" fill="#111" >0</text>
<text x="440.0" y="331.3" font-size="4.8" font-weight="normal" text-anchor="middle" fill="#111" >10<tspan dy="-1.5" font-size="2.6">3</tspan></text>
<text x="467.5" y="331.3" font-size="4.8" font-weight="normal" text-anchor="middle" fill="#111" >10<tspan dy="-1.5" font-size="2.6">4</tspan></text>
<text x="490.0" y="331.3" font-size="4.8" font-weight="normal" text-anchor="middle" fill="#111" >10<tspan dy="-1.5" font-size="2.6">5</tspan></text>
<path d="M406.2 319.5v2.2M422.5 319.5v2.2M440.0 319.5v2.2M467.5 319.5v2.2M490.0 319.5v2.2M419.0 319.5v2M420.0 319.5v2M421.0 319.5v2M421.8 319.5v2M423.2 319.5v2M424.0 319.5v2M425.0 319.5v2M448.3 319.5v1.4M453.1 319.5v1.4M456.6 319.5v1.4M459.2 319.5v1.4M461.4 319.5v1.4M463.2 319.5v1.4M464.8 319.5v1.4M466.2 319.5v1.4M474.3 319.5v1.4M478.2 319.5v1.4M481.0 319.5v1.4M483.2 319.5v1.4M485.0 319.5v1.4M486.5 319.5v1.4M487.8 319.5v1.4M489.0 319.5v1.4M432.0 319.5v1.4M434.1 319.5v1.4M435.5 319.5v1.4M436.6 319.5v1.4M437.5 319.5v1.4M438.2 319.5v1.4M438.9 319.5v1.4M439.5 319.5v1.4" stroke="#333" stroke-width="0.6"/>
<path d="M400.5 313.2h-1.2M400.5 308.3h-1.2M400.5 303.5h-1.2M400.5 298.7h-1.2M400.5 293.8h-1.2M400.5 289.0h-1.2M400.5 284.2h-1.2M400.5 279.3h-1.2M400.5 274.5h-1.2M400.5 269.7h-1.2M400.5 264.8h-1.2M400.5 260.0h-1.2M400.5 255.2h-1.2M400.5 250.3h-1.2M400.5 245.5h-1.2" stroke="#555" stroke-width="0.5"/>
<path d="M28.0 284.7V339.0H501.0" stroke="#000" stroke-width="1.9" fill="none"/>
<path d="M28.0 276.2l-4.5 9.5h9.0z" fill="#000"/>
<path d="M509.5 339.0l-9.5 -4.5v9.0z" fill="#000"/>
<text transform="translate(19.2 308.5) rotate(-90)" font-size="11.8" font-weight="normal" text-anchor="middle" fill="#000" >SSC-A</text>
<text x="46.5" y="354.6" font-size="11.8" font-weight="normal" text-anchor="start" fill="#000" >Hes1-GFP</text>
<text x="15.0" y="384.4" font-size="17.0" font-weight="bold" text-anchor="start" fill="#000" >B</text>
<rect x="111.0" y="430.0" width="33.8" height="131.3" fill="#6aa842" stroke="none" stroke-width="1.00" />
<rect x="182.0" y="430.0" width="35.4" height="131.3" fill="#6aa842" stroke="none" stroke-width="1.00" />
<rect x="255.8" y="430.0" width="36.4" height="131.3" fill="#6aa842" stroke="none" stroke-width="1.00" />
<line x1="71.3" y1="423.8" x2="71.3" y2="562.0" stroke="#111" stroke-width="1.50" />
<line x1="66.3" y1="561.3" x2="71.3" y2="561.3" stroke="#111" stroke-width="1.50" />
<text x="62.7" y="565.0" font-size="11.7" font-weight="normal" text-anchor="end" fill="#000" >0</text>
<line x1="66.3" y1="534.8" x2="71.3" y2="534.8" stroke="#111" stroke-width="1.50" />
<text x="62.7" y="538.5" font-size="11.7" font-weight="normal" text-anchor="end" fill="#000" >20</text>
<line x1="66.3" y1="508.3" x2="71.3" y2="508.3" stroke="#111" stroke-width="1.50" />
<text x="62.7" y="512.0" font-size="11.7" font-weight="normal" text-anchor="end" fill="#000" >40</text>
<line x1="66.3" y1="481.7" x2="71.3" y2="481.7" stroke="#111" stroke-width="1.50" />
<text x="62.7" y="485.5" font-size="11.7" font-weight="normal" text-anchor="end" fill="#000" >60</text>
<line x1="66.3" y1="455.2" x2="71.3" y2="455.2" stroke="#111" stroke-width="1.50" />
<text x="62.7" y="458.9" font-size="11.7" font-weight="normal" text-anchor="end" fill="#000" >80</text>
<line x1="66.3" y1="428.7" x2="71.3" y2="428.7" stroke="#111" stroke-width="1.50" />
<text x="62.7" y="432.4" font-size="11.7" font-weight="normal" text-anchor="end" fill="#000" >100</text>
<line x1="66.3" y1="561.3" x2="299.2" y2="561.3" stroke="#111" stroke-width="1.50" />
<line x1="91.0" y1="561.3" x2="91.0" y2="566.8" stroke="#111" stroke-width="1.30" />
<line x1="129.2" y1="561.3" x2="129.2" y2="566.8" stroke="#111" stroke-width="1.30" />
<line x1="164.5" y1="561.3" x2="164.5" y2="566.8" stroke="#111" stroke-width="1.30" />
<line x1="201.5" y1="561.3" x2="201.5" y2="566.8" stroke="#111" stroke-width="1.30" />
<line x1="238.0" y1="561.3" x2="238.0" y2="566.8" stroke="#111" stroke-width="1.30" />
<line x1="275.7" y1="561.3" x2="275.7" y2="566.8" stroke="#111" stroke-width="1.30" />
<text transform="translate(34.6 493.6) rotate(-90)" font-size="14.8" text-anchor="middle" fill="#000" textLength="89.5" lengthAdjust="spacingAndGlyphs">% of chimerism</text>
<text x="105.3" y="396.2" font-size="13.4" font-weight="bold" text-anchor="start" fill="#000" >Type I</text>
<text x="149.0" y="396.2" font-size="14.3" font-weight="normal" text-anchor="start" fill="#000" >(1ee)</text>
<text x="223.4" y="396.2" font-size="13.4" font-weight="bold" text-anchor="start" fill="#000" >Type II</text>
<text x="269.0" y="396.2" font-size="14.3" font-weight="normal" text-anchor="start" fill="#000" >(1ee)</text>
<text x="109.8" y="413.2" font-size="13.8" font-weight="bold" text-anchor="middle" fill="#000" >E10.5</text>
<text x="183.8" y="413.2" font-size="13.8" font-weight="bold" text-anchor="middle" fill="#000" >E11.5</text>
<text x="264.6" y="413.2" font-size="13.8" font-weight="bold" text-anchor="middle" fill="#000" >E11.5</text>
<line x1="147.0" y1="420.0" x2="147.0" y2="596.0" stroke="#111" stroke-width="1.60" stroke-dasharray="3.8 1.8"/>
<line x1="219.4" y1="383.0" x2="219.4" y2="600.5" stroke="#111" stroke-width="1.50" />
<path d="M89.7 504V444.5H129.2V449.5" stroke="#000" stroke-width="1.2" fill="none"/>
<text x="108.7" y="447.0" font-size="12.5" font-weight="bold" text-anchor="middle" fill="#000" >***</text>
<path d="M164 452.5V424.8H201.5V430.5" stroke="#000" stroke-width="1.2" fill="none"/>
<text x="182.5" y="426.6" font-size="12.5" font-weight="bold" text-anchor="middle" fill="#000" >***</text>
<path d="M90.0 524.9l3.3 5.9h-6.6z" fill="#000"/>
<path d="M81.5 557.7l3.3 5.9h-6.6z" fill="#000"/>
<path d="M84.5 557.7l3.3 5.9h-6.6z" fill="#000"/>
<path d="M87.5 557.7l3.3 5.9h-6.6z" fill="#000"/>
<path d="M90.5 557.7l3.3 5.9h-6.6z" fill="#000"/>
<path d="M93.5 557.7l3.3 5.9h-6.6z" fill="#000"/>
<path d="M96.5 557.7l3.3 5.9h-6.6z" fill="#000"/>
<path d="M99.5 557.7l3.3 5.9h-6.6z" fill="#000"/>
<line x1="77.0" y1="559.4" x2="102.0" y2="559.4" stroke="#111" stroke-width="1.70" />
<circle cx="123.8" cy="458.8" r="3.3" fill="#000"/>
<circle cx="131.2" cy="458.8" r="3.3" fill="#000"/>
<circle cx="123.8" cy="469.2" r="3.3" fill="#000"/>
<circle cx="131.2" cy="471.2" r="3.3" fill="#000"/>
<circle cx="131.2" cy="474.8" r="3.3" fill="#000"/>
<circle cx="123.8" cy="480.5" r="3.3" fill="#000"/>
<circle cx="124.3" cy="483.4" r="3.3" fill="#000"/>
<circle cx="131.2" cy="484.7" r="3.3" fill="#000"/>
<circle cx="131.2" cy="489.5" r="3.3" fill="#000"/>
<circle cx="123.8" cy="497.0" r="3.3" fill="#000"/>
<circle cx="131.2" cy="497.0" r="3.3" fill="#000"/>
<circle cx="123.8" cy="520.0" r="3.3" fill="#000"/>
<circle cx="131.2" cy="523.0" r="3.3" fill="#000"/>
<circle cx="127.0" cy="543.0" r="3.3" fill="#000"/>
<line x1="114.5" y1="489.0" x2="139.5" y2="489.0" stroke="#111" stroke-width="1.70" />
<path d="M164.0 454.7l3.3 5.9h-6.6z" fill="#000"/>
<path d="M164.0 468.7l3.3 5.9h-6.6z" fill="#000"/>
<path d="M164.0 476.9l3.3 5.9h-6.6z" fill="#000"/>
<path d="M164.0 547.1l3.3 5.9h-6.6z" fill="#000"/>
<path d="M172.7 553.2l3.3 5.9h-6.6z" fill="#000"/>
<path d="M157.3 557.8l3.3 5.9h-6.6z" fill="#000"/>
<path d="M161.0 557.8l3.3 5.9h-6.6z" fill="#000"/>
<path d="M165.0 557.8l3.3 5.9h-6.6z" fill="#000"/>
<path d="M168.7 557.8l3.3 5.9h-6.6z" fill="#000"/>
<line x1="151.4" y1="532.5" x2="175.3" y2="532.5" stroke="#111" stroke-width="1.70" />
<circle cx="201.3" cy="437.2" r="3.3" fill="#000"/>
<circle cx="193.6" cy="442.7" r="3.3" fill="#000"/>
<circle cx="209.6" cy="443.6" r="3.3" fill="#000"/>
<circle cx="201.3" cy="447.3" r="3.3" fill="#000"/>
<circle cx="198.0" cy="452.0" r="3.3" fill="#000"/>
<circle cx="205.0" cy="453.0" r="3.3" fill="#000"/>
<circle cx="194.2" cy="455.0" r="3.3" fill="#000"/>
<circle cx="210.2" cy="454.0" r="3.3" fill="#000"/>
<circle cx="201.3" cy="460.5" r="3.3" fill="#000"/>
<circle cx="201.3" cy="471.0" r="3.3" fill="#000"/>
<line x1="188.4" y1="452.6" x2="212.6" y2="452.6" stroke="#111" stroke-width="1.70" />
<path d="M238.8 440.0l3.3 5.9h-6.6z" fill="#000"/>
<path d="M234.8 450.7l3.3 5.9h-6.6z" fill="#000"/>
<path d="M242.8 448.0l3.3 5.9h-6.6z" fill="#000"/>
<path d="M234.8 468.0l3.3 5.9h-6.6z" fill="#000"/>
<path d="M242.8 469.5l3.3 5.9h-6.6z" fill="#000"/>
<path d="M229.6 474.2l3.3 5.9h-6.6z" fill="#000"/>
<path d="M238.8 480.0l3.3 5.9h-6.6z" fill="#000"/>
<path d="M246.5 480.0l3.3 5.9h-6.6z" fill="#000"/>
<path d="M238.8 494.2l3.3 5.9h-6.6z" fill="#000"/>
<path d="M238.8 536.3l3.3 5.9h-6.6z" fill="#000"/>
<line x1="226.0" y1="477.2" x2="250.2" y2="477.2" stroke="#111" stroke-width="1.70" />
<circle cx="275.8" cy="449.5" r="3.3" fill="#000"/>
<circle cx="275.8" cy="458.0" r="3.3" fill="#000"/>
<circle cx="268.0" cy="464.8" r="3.3" fill="#000"/>
<circle cx="283.5" cy="464.2" r="3.3" fill="#000"/>
<circle cx="275.8" cy="468.8" r="3.3" fill="#000"/>
<circle cx="268.0" cy="474.0" r="3.3" fill="#000"/>
<circle cx="283.5" cy="474.0" r="3.3" fill="#000"/>
<circle cx="275.8" cy="477.0" r="3.3" fill="#000"/>
<circle cx="275.8" cy="484.2" r="3.3" fill="#000"/>
<circle cx="275.8" cy="498.7" r="3.3" fill="#000"/>
<line x1="263.5" y1="471.3" x2="288.0" y2="471.3" stroke="#111" stroke-width="1.70" />
<text x="91.5" y="581.7" font-size="10.8" font-weight="normal" text-anchor="middle" fill="#000" >(1/15)</text>
<text x="91.5" y="594.3" font-size="10.8" font-weight="normal" text-anchor="middle" fill="#000" >GFP-</text>
<text x="127.2" y="581.7" font-size="10.8" font-weight="normal" text-anchor="middle" fill="#000" >(15/15)</text>
<text x="127.2" y="594.3" font-size="10.8" font-weight="normal" text-anchor="middle" fill="#000" >GFP+</text>
<text x="164.5" y="581.7" font-size="10.8" font-weight="normal" text-anchor="middle" fill="#000" >(4/10)</text>
<text x="164.5" y="594.3" font-size="10.8" font-weight="normal" text-anchor="middle" fill="#000" >GFP-</text>
<text x="201.1" y="581.7" font-size="10.8" font-weight="normal" text-anchor="middle" fill="#000" >(10/10)</text>
<text x="201.1" y="594.3" font-size="10.8" font-weight="normal" text-anchor="middle" fill="#000" >GFP+</text>
<text x="238.0" y="581.7" font-size="10.8" font-weight="normal" text-anchor="middle" fill="#000" >(10/10)</text>
<text x="238.0" y="594.3" font-size="10.8" font-weight="normal" text-anchor="middle" fill="#000" >GFP-</text>
<text x="275.7" y="581.7" font-size="10.8" font-weight="normal" text-anchor="middle" fill="#000" >(10/10)</text>
<text x="275.7" y="594.3" font-size="10.8" font-weight="normal" text-anchor="middle" fill="#000" >GFP+</text>
<text x="330.0" y="385.0" font-size="16.5" font-weight="bold" text-anchor="start" fill="#000" >C</text>
<text x="440.0" y="396.0" font-size="14.2" font-weight="bold" text-anchor="middle" fill="#000" >E12.5 AGM (CD45+)</text>
<text x="438.0" y="411.8" font-size="14.0" font-weight="normal" text-anchor="middle" fill="#000" >direct injection (4ee)</text>
<rect x="435.4" y="423.8" width="50.6" height="137.7" fill="#6aa842" stroke="none" stroke-width="1.00" />
<line x1="385.4" y1="423.0" x2="385.4" y2="562.2" stroke="#111" stroke-width="1.50" />
<line x1="380.4" y1="561.5" x2="385.4" y2="561.5" stroke="#111" stroke-width="1.50" />
<text x="377.1" y="565.2" font-size="11.7" font-weight="normal" text-anchor="end" fill="#000" >0</text>
<line x1="380.4" y1="534.9" x2="385.4" y2="534.9" stroke="#111" stroke-width="1.50" />
<text x="377.1" y="538.6" font-size="11.7" font-weight="normal" text-anchor="end" fill="#000" >20</text>
<line x1="380.4" y1="508.3" x2="385.4" y2="508.3" stroke="#111" stroke-width="1.50" />
<text x="377.1" y="512.0" font-size="11.7" font-weight="normal" text-anchor="end" fill="#000" >40</text>
<line x1="380.4" y1="481.7" x2="385.4" y2="481.7" stroke="#111" stroke-width="1.50" />
<text x="377.1" y="485.4" font-size="11.7" font-weight="normal" text-anchor="end" fill="#000" >60</text>
<line x1="380.4" y1="455.1" x2="385.4" y2="455.1" stroke="#111" stroke-width="1.50" />
<text x="377.1" y="458.8" font-size="11.7" font-weight="normal" text-anchor="end" fill="#000" >80</text>
<line x1="380.4" y1="428.5" x2="385.4" y2="428.5" stroke="#111" stroke-width="1.50" />
<text x="377.1" y="432.2" font-size="11.7" font-weight="normal" text-anchor="end" fill="#000" >100</text>
<line x1="384.7" y1="561.5" x2="489.0" y2="561.5" stroke="#111" stroke-width="1.50" />
<line x1="411.0" y1="561.5" x2="411.0" y2="567.0" stroke="#111" stroke-width="1.30" />
<line x1="460.5" y1="561.5" x2="460.5" y2="567.0" stroke="#111" stroke-width="1.30" />
<text transform="translate(354.9 495.6) rotate(-90)" font-size="14.8" text-anchor="middle" fill="#000" textLength="88.2" lengthAdjust="spacingAndGlyphs">% of chimerism</text>
<path d="M409.6 454.0l3.3 5.9h-6.6z" fill="#000"/>
<path d="M414.2 490.5l3.3 5.9h-6.6z" fill="#000"/>
<path d="M406.5 497.1l3.3 5.9h-6.6z" fill="#000"/>
<path d="M410.4 550.2l3.3 5.9h-6.6z" fill="#000"/>
<path d="M414.2 554.7l3.3 5.9h-6.6z" fill="#000"/>
<path d="M406.5 557.2l3.3 5.9h-6.6z" fill="#000"/>
<line x1="393.8" y1="520.8" x2="427.0" y2="520.8" stroke="#111" stroke-width="1.70" />
<circle cx="461.2" cy="508.5" r="3.0" fill="#000"/>
<circle cx="456.5" cy="527.0" r="3.0" fill="#000"/>
<circle cx="464.2" cy="534.2" r="3.0" fill="#000"/>
<circle cx="452.7" cy="561.5" r="3.0" fill="#000"/>
<circle cx="460.6" cy="561.5" r="3.0" fill="#000"/>
<circle cx="468.6" cy="561.5" r="3.0" fill="#000"/>
<line x1="444.3" y1="542.3" x2="477.3" y2="542.3" stroke="#111" stroke-width="1.70" />
<text x="411.0" y="578.5" font-size="12.3" font-weight="normal" text-anchor="middle" fill="#000" >GFP-</text>
<text x="460.5" y="578.5" font-size="12.3" font-weight="normal" text-anchor="middle" fill="#000" >GFP+</text>
<text x="15.5" y="627.5" font-size="17.0" font-weight="bold" text-anchor="start" fill="#000" >D</text>
<text x="100.5" y="634.0" font-size="11.1" font-weight="bold" text-anchor="middle" fill="#000" >E14.5 Foetal liver</text>
<text x="100.3" y="647.0" font-size="11.0" font-weight="bold" text-anchor="middle" fill="#000" textLength="113" lengthAdjust="spacingAndGlyphs">Gated on (7AAD<tspan dy="-4.5" font-size="9">-</tspan><tspan dy="4.5">Lin</tspan><tspan dy="-4.5" font-size="9">-</tspan><tspan dy="4.5">)</tspan></text>
<rect x="51.5" y="657.0" width="99.3" height="99.2" fill="none" stroke="#000" stroke-width="1.30" />
<g transform="translate(0 .5)" fill="none" stroke-width="1" shape-rendering="crispEdges" opacity="1.00" filter="url(#bl)">
<path d="M70 659h1m6 0h1M68 661h1M60 662h1m13 0h1M74 663h1M69 664h1m2 0h1M79 665h1M59 666h1M60 667h1m34 0h1M59 668h1m9 0h1m6 0h2m5 0h1M55 669h1m6 0h1m8 0h3m2 0h1m1 0h1m2 0h3m4 0h1M61 670h1m12 0h1m1 0h1m1 0h2m1 0h5m5 0h1M64 671h1m2 0h1m5 0h1m1 0h4m1 0h5m1 0h2m25 0h1M60 672h1m7 0h4m2 0h14m2 0h1M53 673h1m7 0h1m5 0h1m2 0h2m1 0h3m1 0h15m1 0h1m45 0h1M60 674h4m4 0h1m3 0h18M64 675h2m1 0h23M52 676h1m3 0h1m5 0h1m3 0h1m1 0h24m1 0h1m20 0h1M65 677h1m1 0h24m1 0h1M60 678h1m5 0h1m1 0h25m1 0h1m1 0h2M63 679h1m1 0h31M63 680h29m2 0h1m38 0h1M56 681h1m2 0h3m1 0h3m1 0h3m1 0h21m1 0h1m20 0h1M56 682h1m2 0h1m2 0h2m2 0h27m4 0h1m4 0h1m3 0h1m16 0h1M54 683h1m7 0h4m1 0h27m2 0h1M55 684h1m3 0h1m1 0h5m1 0h29m1 0h1m1 0h1m1 0h1m3 0h1M53 685h1m5 0h2m1 0h4m1 0h26m1 0h6m1 0h1m4 0h1m21 0h1M59 686h1m3 0h1m2 0h34m1 0h5m1 0h1m3 0h2M59 687h1m4 0h46m1 0h1m9 0h1m18 0h1M54 688h1m1 0h2m1 0h2m1 0h1m2 0h46m1 0h4m24 0h1M55 689h1m3 0h1m1 0h1m1 0h48m2 0h2m1 0h1M59 690h1m1 0h54m3 0h1m3 0h1m18 0h1m4 0h1M53 691h1m2 0h1m4 0h54m2 0h2m14 0h1M59 692h2m1 0h1m1 0h51m1 0h1m5 0h1m5 0h1M59 693h5m1 0h47m1 0h2M56 694h1m2 0h2m1 0h46m1 0h1m1 0h5M55 695h1m2 0h1m1 0h45m1 0h2m1 0h1m1 0h2m10 0h1m1 0h1M59 696h2m1 0h45m1 0h2m1 0h2m10 0h1m3 0h1m1 0h1M59 697h2m1 0h6m1 0h36m1 0h1m8 0h1m2 0h1M57 698h7m1 0h32m1 0h1m1 0h2m2 0h1m1 0h1m3 0h1m5 0h1m1 0h1m1 0h1M52 699h1m4 0h44m1 0h1m1 0h2m1 0h1m1 0h1m3 0h1m13 0h1m7 0h1M56 700h1m1 0h8m1 0h29m1 0h1m2 0h2m2 0h2m2 0h3m5 0h2m8 0h1m15 0h1M55 701h1m2 0h3m4 0h2m1 0h28m1 0h2m1 0h1m1 0h1m10 0h1m5 0h1m9 0h1m9 0h1m7 0h1M55 702h4m1 0h1m2 0h3m1 0h32m2 0h1m3 0h1m5 0h1m3 0h1m1 0h1m4 0h1m5 0h1m1 0h1m9 0h1M56 703h7m2 0h2m1 0h35m1 0h1m9 0h1m8 0h1m19 0h1M56 704h3m1 0h39m1 0h1m1 0h2m4 0h1m9 0h2m3 0h1m2 0h2m2 0h1m10 0h1M56 705h4m1 0h2m1 0h1m2 0h6m1 0h22m1 0h5m2 0h2m1 0h3m1 0h3m2 0h1m2 0h1m1 0h1m1 0h4m5 0h1m7 0h1m1 0h1M56 706h2m3 0h1m1 0h2m1 0h3m1 0h2m1 0h30m1 0h2m1 0h3m1 0h1m1 0h1m2 0h1m1 0h3m1 0h6m1 0h3M55 707h1m3 0h1m1 0h1m1 0h1m3 0h36m1 0h6m2 0h4m3 0h5m2 0h1m3 0h1m3 0h1m5 0h1m1 0h1m6 0h1M52 708h1m1 0h1m3 0h2m1 0h7m1 0h41m1 0h8m2 0h2m1 0h2m4 0h1m3 0h2m10 0h1M54 709h3m1 0h1m2 0h1m1 0h4m1 0h2m1 0h41m1 0h8m1 0h5m2 0h1m1 0h2M53 710h1m2 0h2m1 0h1m2 0h1m3 0h1m1 0h1m1 0h5m1 0h46m1 0h2m1 0h2m1 0h3m1 0h5m11 0h1M54 711h1m2 0h3m4 0h7m1 0h62m1 0h3m4 0h1M57 712h1m1 0h2m1 0h3m2 0h2m2 0h47m1 0h6m1 0h5m1 0h1m4 0h4m8 0h1M57 713h1m1 0h3m2 0h2m1 0h1m1 0h3m1 0h51m1 0h3m1 0h1m1 0h1m1 0h3m2 0h1M54 714h1m1 0h1m1 0h1m3 0h2m1 0h66m1 0h3m2 0h1m2 0h1m2 0h1M55 715h1m1 0h3m2 0h1m1 0h1m1 0h1m1 0h3m1 0h58m2 0h1m2 0h2m1 0h2m4 0h1m3 0h1M56 716h1m4 0h1m2 0h8m1 0h52m1 0h12m1 0h3M57 717h1m2 0h1m1 0h3m2 0h2m1 0h4m1 0h61m2 0h2m8 0h1M54 718h1m1 0h1m2 0h3m2 0h1m1 0h60m1 0h9m2 0h2m1 0h1m3 0h1M52 719h1m3 0h2m2 0h2m1 0h4m2 0h62m1 0h4m1 0h8M57 720h2m2 0h3m1 0h6m1 0h63m1 0h3m1 0h2M54 721h2m8 0h2m1 0h4m1 0h66m1 0h1M52 722h1m4 0h3m3 0h2m1 0h3m1 0h65m1 0h4m2 0h1m4 0h1M58 723h2m2 0h1m1 0h1m1 0h71m1 0h1m1 0h2m2 0h1m1 0h1M52 724h2m1 0h1m1 0h1m1 0h1m1 0h2m5 0h3m1 0h2m1 0h62m1 0h2m1 0h1m1 0h1M55 725h1m3 0h2m1 0h3m1 0h1m1 0h7m1 0h55m1 0h4m3 0h1m1 0h1m4 0h3M52 726h1m2 0h1m6 0h3m1 0h2m1 0h1m1 0h1m1 0h1m1 0h61m2 0h1m1 0h2m5 0h1M55 727h1m2 0h1m3 0h2m1 0h2m2 0h4m1 0h2m1 0h63m1 0h2m2 0h2M54 728h2m4 0h2m7 0h2m4 0h62m4 0h3m3 0h1M54 729h1m7 0h5m1 0h1m1 0h4m1 0h3m2 0h51m1 0h4m1 0h2m1 0h1m4 0h1M54 730h1m1 0h2m3 0h1m1 0h3m7 0h2m1 0h2m1 0h37m1 0h10m1 0h4m1 0h4m2 0h2M57 731h1m4 0h4m1 0h3m5 0h2m1 0h50m1 0h3m1 0h1m1 0h1m2 0h1M56 732h5m1 0h1m1 0h2m1 0h1m1 0h3m3 0h2m1 0h3m1 0h30m1 0h13m1 0h7m3 0h1M57 733h1m1 0h1m1 0h1m1 0h1m3 0h1m2 0h2m6 0h4m1 0h21m1 0h4m1 0h1m1 0h3m1 0h2m1 0h9m1 0h2m3 0h1m1 0h1m4 0h1m4 0h1M57 734h1m7 0h2m2 0h3m5 0h1m1 0h1m1 0h24m1 0h2m1 0h2m1 0h1m1 0h1m2 0h10m2 0h1m1 0h2m1 0h1m2 0h1M62 735h1m3 0h3m3 0h1m7 0h1m2 0h26m1 0h1m2 0h2m2 0h2m3 0h2m5 0h4m2 0h1m1 0h2m1 0h1m2 0h1M56 736h1m9 0h3m1 0h1m4 0h3m2 0h2m1 0h1m1 0h1m1 0h21m1 0h2m6 0h3m1 0h1m1 0h10m2 0h2m1 0h1M53 737h1m2 0h1m2 0h3m2 0h1m2 0h2m4 0h1m7 0h4m1 0h23m2 0h1m1 0h2m5 0h1m5 0h1m3 0h1m1 0h1M55 738h1m1 0h1m4 0h1m1 0h1m1 0h1m3 0h1m2 0h1m10 0h22m1 0h1m3 0h1m2 0h2m1 0h1m5 0h1m2 0h1m8 0h1M59 739h1m1 0h1m1 0h3m5 0h1m1 0h1m2 0h1m3 0h1m4 0h21m1 0h1m5 0h4m2 0h1m7 0h2m8 0h1m2 0h1m1 0h1M56 740h1m7 0h1m1 0h3m1 0h1m5 0h1m2 0h1m4 0h2m1 0h20m9 0h1m3 0h2m3 0h2m6 0h1m3 0h1M57 741h1m4 0h1m1 0h1m4 0h1m2 0h1m1 0h1m8 0h1m1 0h24m6 0h1m16 0h1m1 0h1M65 742h1m7 0h2m6 0h1m1 0h24m2 0h1m16 0h1m3 0h1M60 743h1m3 0h1m5 0h1m13 0h1m1 0h1m1 0h16m1 0h3m4 0h1m23 0h1M56 744h1m1 0h3m1 0h2m3 0h2m1 0h1m3 0h1m6 0h2m1 0h1m2 0h19m6 0h1m6 0h2m15 0h1m7 0h1M56 745h1m6 0h2m9 0h1m10 0h19m1 0h3m1 0h1m17 0h1m5 0h1M57 746h1m3 0h2m4 0h1m15 0h24m3 0h1m5 0h1M60 747h1m2 0h2m7 0h1m10 0h1m1 0h1m1 0h21M60 748h1m4 0h1m1 0h1m13 0h1m6 0h15m1 0h2m2 0h1M60 749h1m4 0h1m19 0h1m1 0h16m1 0h1m41 0h1M53 750h1m6 0h1m1 0h1m13 0h1m2 0h1m7 0h6m1 0h9m3 0h1m7 0h1M65 751h1m18 0h1m1 0h17m1 0h1m1 0h1M60 752h1m26 0h1m1 0h13m1 0h2m18 0h2M89 753h8m1 0h2m1 0h3m18 0h1M74 754h1m9 0h2m1 0h1m1 0h1m1 0h13M65 755h1m25 0h1m3 0h1m1 0h1m4 0h1" stroke="#8a8a8a"/>
<path d="M73 669h1m7 0h2M76 670h1m2 0h1m1 0h1m2 0h1M78 671h1m3 0h3m1 0h1M70 672h1m4 0h2m1 0h8M73 673h1m1 0h1m1 0h9m1 0h2M72 674h5m1 0h9m1 0h2M71 675h1m2 0h16M69 676h20M69 677h1m1 0h1m1 0h16m1 0h1M68 678h3m1 0h21m1 0h1M68 679h21m1 0h1m1 0h1M65 680h4m1 0h22M63 681h3m2 0h2m1 0h21m1 0h1M66 682h26M65 683h1m1 0h25m1 0h1M59 684h1m3 0h3m1 0h28m2 0h1M64 685h2m1 0h26m1 0h1m1 0h2m1 0h1M59 686h1m3 0h1m2 0h33m3 0h4M64 687h42m1 0h1m1 0h1M60 688h1m1 0h1m2 0h39m1 0h6m2 0h2M61 689h1m4 0h45M62 690h1m2 0h48m5 0h1M56 691h1m4 0h3m1 0h45m2 0h2m3 0h1M64 692h46m1 0h2M59 693h2m4 0h46M56 694h1m5 0h1m2 0h43m1 0h1m1 0h1m3 0h1M63 695h42m1 0h2m1 0h1m2 0h1M60 696h1m1 0h34m1 0h8m1 0h1m2 0h1m2 0h1M63 697h1m1 0h3m1 0h26m3 0h1m1 0h2m4 0h1M58 698h3m4 0h32m3 0h1M62 699h3m2 0h1m1 0h26m1 0h1m5 0h1M56 700h1m2 0h2m1 0h1m1 0h1m2 0h2m2 0h25m4 0h1m16 0h1M59 701h2m4 0h1m4 0h26m1 0h2m1 0h1m18 0h1M64 702h2m1 0h31m19 0h1m22 0h1M56 703h1m3 0h3m5 0h29m1 0h1m1 0h1M58 704h1m1 0h1m1 0h5m2 0h2m1 0h27m1 0h1m1 0h2m37 0h1M64 705h1m2 0h1m1 0h2m1 0h1m1 0h22m1 0h2m1 0h1m3 0h2m1 0h1m11 0h1M63 706h1m2 0h3m2 0h1m1 0h28m1 0h1m1 0h1m3 0h1m4 0h1m5 0h1m3 0h1m1 0h1m5 0h1M67 707h1m3 0h32m1 0h4m1 0h1m2 0h1m6 0h1m3 0h1m2 0h1m3 0h1m3 0h1M54 708h1m6 0h2m1 0h2m1 0h1m3 0h32m3 0h1m4 0h3m2 0h3m5 0h1m5 0h1M54 709h1m3 0h1m7 0h1m2 0h1m1 0h3m1 0h30m1 0h6m1 0h2m1 0h4m2 0h1m1 0h1M62 710h1m3 0h1m1 0h1m1 0h5m1 0h38m10 0h1m10 0h1M58 711h2m4 0h3m1 0h2m2 0h1m1 0h48m1 0h1m1 0h4m4 0h1M60 712h1m1 0h1m4 0h2m2 0h38m1 0h4m1 0h3m1 0h6m1 0h3m1 0h1M59 713h1m1 0h1m2 0h2m4 0h1m2 0h49m1 0h1m1 0h1m1 0h1m1 0h1M62 714h1m4 0h1m1 0h2m3 0h52m1 0h1m1 0h2m2 0h2M62 715h1m1 0h1m1 0h1m1 0h1m1 0h1m3 0h51m1 0h2m1 0h1m2 0h1m2 0h1m3 0h1M61 716h1m3 0h1m1 0h5m2 0h51m1 0h5m1 0h3M57 717h1m5 0h1m4 0h1m1 0h1m2 0h1m1 0h52m1 0h1m1 0h2m7 0h1M56 718h1m4 0h1m2 0h1m5 0h2m2 0h52m1 0h1m1 0h4m1 0h1m3 0h1m6 0h1M61 719h1m2 0h1m1 0h1m2 0h4m1 0h57m1 0h3m2 0h1m1 0h1m4 0h1M57 720h1m4 0h2m1 0h4m1 0h1m2 0h4m1 0h57m3 0h1m1 0h1M65 721h1m1 0h2m5 0h47m1 0h13m2 0h1M66 722h2m2 0h6m1 0h56m3 0h1M64 723h1m2 0h1m1 0h5m1 0h56m1 0h3m1 0h1M68 724h1m3 0h2m1 0h56m1 0h1m1 0h3m1 0h1m2 0h1M59 725h2m1 0h2m2 0h1m1 0h1m1 0h5m1 0h55m2 0h2M66 726h2m8 0h60M63 727h1m1 0h2m2 0h1m7 0h2m1 0h53m1 0h1m2 0h1m1 0h1m6 0h1M70 728h1m4 0h4m1 0h1m1 0h23m1 0h25m1 0h2m7 0h1m1 0h1M68 729h1m4 0h1m6 0h1m1 0h27m1 0h9m1 0h7m1 0h1m1 0h1m1 0h1m2 0h1M57 730h1m5 0h1m12 0h1m2 0h29m1 0h6m2 0h1m1 0h1m3 0h2m1 0h1m1 0h1m1 0h2m1 0h1M68 731h1m12 0h33m2 0h8m2 0h1m2 0h2m4 0h1M64 732h2m3 0h1m1 0h1m3 0h1m7 0h3m1 0h19m1 0h5m2 0h1m1 0h4m2 0h1m2 0h1m1 0h1m2 0h2m1 0h1M71 733h1m9 0h1m3 0h19m1 0h3m4 0h3m1 0h2m2 0h1m2 0h2m2 0h1M77 734h1m5 0h1m1 0h20m1 0h2m6 0h1m4 0h2m3 0h1m6 0h1M62 735h1m21 0h23m7 0h1m3 0h1m4 0h1m5 0h1m2 0h1m5 0h1M87 736h19m3 0h1m7 0h2m2 0h1m3 0h1m2 0h1m9 0h1M60 737h1m12 0h1m8 0h1m1 0h1m2 0h19m14 0h1M73 738h1m11 0h21m11 0h1M59 739h1m1 0h1m2 0h1m20 0h1m1 0h19m13 0h1m7 0h1M87 740h20M83 741h1m3 0h19M65 742h1m20 0h20M64 743h1m19 0h1m1 0h1m1 0h16M70 744h1m16 0h18M86 745h1m1 0h16m1 0h1M85 746h1m1 0h17m1 0h2M88 747h17M90 748h13M88 749h1m1 0h11m1 0h1m1 0h1M87 750h6m1 0h7m1 0h1M88 751h1m1 0h6m1 0h4m1 0h1M91 752h5m1 0h5m2 0h1M91 753h6m1 0h2m1 0h2M92 754h3m1 0h3m1 0h4M95 755h1m1 0h1" stroke="#4a4a4a"/>
<path d="M82 669h1M82 671h3M76 672h1m1 0h8M75 673h1m1 0h1m1 0h6m2 0h1M73 674h1m2 0h1m1 0h9M71 675h1m2 0h16M70 676h19M69 677h1m1 0h1m1 0h16m1 0h1M68 678h2m2 0h18m2 0h1M68 679h1m2 0h18M66 680h1m1 0h1m1 0h21M68 681h2m1 0h21M67 682h1m1 0h23M65 683h1m2 0h23m2 0h1M65 684h1m1 0h2m1 0h23m1 0h1M64 685h1m2 0h26m1 0h1M63 686h1m3 0h28m1 0h1m7 0h1M64 687h30m1 0h4m1 0h1m1 0h1m1 0h2m1 0h1M66 688h38m1 0h3m2 0h1M66 689h44M65 690h1m1 0h44m1 0h1M61 691h1m3 0h45M65 692h1m1 0h43m2 0h1M66 693h1m1 0h43M66 694h42m3 0h1m3 0h1M63 695h1m3 0h38m2 0h1m1 0h1M63 696h1m1 0h1m1 0h1m1 0h27m2 0h7m1 0h1M63 697h1m1 0h1m3 0h26m3 0h1M66 698h1m1 0h25m2 0h2M64 699h1m4 0h25M56 700h1m2 0h2m1 0h1m1 0h1m6 0h22m1 0h2M65 701h1m4 0h26m4 0h1M69 702h28m20 0h1M60 703h1m7 0h29m1 0h1M62 704h1m3 0h1m2 0h2m1 0h23m1 0h3m1 0h1m1 0h2M67 705h1m2 0h1m3 0h22m1 0h1m9 0h1M66 706h1m4 0h1m1 0h25m1 0h1m19 0h1M67 707h1m5 0h28m1 0h1m2 0h1m1 0h1m4 0h1m6 0h1m6 0h1m3 0h1M72 708h1m1 0h26m1 0h2m9 0h2m4 0h1M58 709h1m13 0h2m1 0h27m1 0h2m1 0h1m1 0h3m6 0h1m1 0h1m4 0h1M62 710h1m8 0h4m1 0h30m1 0h5m1 0h1M59 711h1m5 0h1m6 0h1m2 0h44m1 0h2m4 0h1M62 712h1m5 0h1m4 0h33m1 0h2m1 0h4m1 0h1m4 0h3m3 0h1M70 713h1m2 0h39m1 0h2m1 0h1m1 0h2m1 0h1m3 0h1M74 714h1m1 0h45m1 0h4m7 0h1M66 715h1m9 0h49m1 0h1M61 716h1m5 0h2m7 0h45m1 0h3m1 0h5m3 0h1M68 717h1m1 0h1m2 0h1m1 0h50m3 0h1m1 0h2M75 718h42m1 0h1m1 0h6m1 0h1m1 0h3m2 0h1M61 719h1m2 0h1m5 0h2m3 0h45m1 0h3m1 0h2m1 0h1m1 0h1m1 0h2m3 0h1M57 720h1m7 0h3m6 0h3m1 0h51m1 0h4m4 0h1m1 0h1M65 721h1m2 0h1m5 0h1m1 0h45m1 0h5m3 0h1m1 0h1m4 0h1M66 722h2m2 0h1m2 0h2m2 0h1m1 0h52M64 723h1m4 0h1m1 0h1m1 0h1m1 0h2m1 0h53m1 0h2M72 724h1m5 0h43m3 0h5m1 0h1m1 0h1m2 0h2M59 725h1m6 0h1m3 0h3m1 0h1m1 0h1m1 0h47m1 0h5m3 0h1M77 726h4m1 0h47m1 0h6M69 727h1m7 0h1m2 0h34m1 0h13m2 0h1m1 0h1M75 728h1m2 0h1m1 0h1m2 0h22m1 0h13m1 0h7m1 0h2m3 0h1M82 729h21m1 0h4m3 0h2m2 0h4m1 0h7m1 0h1M57 730h1m21 0h27m1 0h1m2 0h1m1 0h2m5 0h1m3 0h1m4 0h1m1 0h2m1 0h1M68 731h1m12 0h2m1 0h25m2 0h3m2 0h1m3 0h3m6 0h1M64 732h1m19 0h2m1 0h19m2 0h3m5 0h2m7 0h1M85 733h1m1 0h17m1 0h3m6 0h1m9 0h1m2 0h1M83 734h1m2 0h18m2 0h1m24 0h1M86 735h21M87 736h18m12 0h2m19 0h1M87 737h19M73 738h1m12 0h18m1 0h1M64 739h1m23 0h18m21 0h1M87 740h15m2 0h2M87 741h1m1 0h14m2 0h1M86 742h1m1 0h15m1 0h1M64 743h1m23 0h15M88 744h17M88 745h15M87 746h1m2 0h14M90 747h14M90 748h13M90 749h2m1 0h8m1 0h1M90 750h2m2 0h7m1 0h1M91 751h3m1 0h1m1 0h1m1 0h1M91 752h3m1 0h1m1 0h3m1 0h1M91 753h6m1 0h2m1 0h1M92 754h3m1 0h1m3 0h1m1 0h2" stroke="#111111"/>
</g>
<rect x="94.7" y="672.0" width="48.0" height="31.0" fill="none" stroke="#666" stroke-width="1.00" />
<text x="115.5" y="667.4" font-size="11.0" font-weight="bold" text-anchor="middle" fill="#000" >LSK</text>
<text x="132.6" y="680.0" font-size="6.3" font-weight="bold" text-anchor="middle" fill="#2b2b85" >1.41</text>
<line x1="150.8" y1="684.0" x2="183.0" y2="684.0" stroke="#111" stroke-width="1.30" />
<text x="42.0" y="670.1" font-size="7.8" font-weight="normal" text-anchor="middle" fill="#111" >10<tspan dy="-3.3" font-size="4.7">5</tspan></text>
<line x1="49.0" y1="667.3" x2="51.5" y2="667.3" stroke="#111" stroke-width="0.80" />
<text x="42.0" y="695.5" font-size="7.8" font-weight="normal" text-anchor="middle" fill="#111" >10<tspan dy="-3.3" font-size="4.7">4</tspan></text>
<line x1="49.0" y1="692.7" x2="51.5" y2="692.7" stroke="#111" stroke-width="0.80" />
<text x="42.0" y="720.8" font-size="7.8" font-weight="normal" text-anchor="middle" fill="#111" >10<tspan dy="-3.3" font-size="4.7">3</tspan></text>
<line x1="49.0" y1="718.0" x2="51.5" y2="718.0" stroke="#111" stroke-width="0.80" />
<text x="42.0" y="745.1" font-size="7.8" font-weight="normal" text-anchor="middle" fill="#111" >10<tspan dy="-3.3" font-size="4.7">2</tspan></text>
<line x1="49.0" y1="742.3" x2="51.5" y2="742.3" stroke="#111" stroke-width="0.80" />
<text x="63.5" y="769.3" font-size="7.8" font-weight="normal" text-anchor="middle" fill="#111" >10<tspan dy="-3.3" font-size="4.7">2</tspan></text>
<line x1="63.5" y1="756.2" x2="63.5" y2="758.7" stroke="#111" stroke-width="0.80" />
<text x="89.6" y="769.3" font-size="7.8" font-weight="normal" text-anchor="middle" fill="#111" >10<tspan dy="-3.3" font-size="4.7">3</tspan></text>
<line x1="89.6" y1="756.2" x2="89.6" y2="758.7" stroke="#111" stroke-width="0.80" />
<text x="115.7" y="769.3" font-size="7.8" font-weight="normal" text-anchor="middle" fill="#111" >10<tspan dy="-3.3" font-size="4.7">4</tspan></text>
<line x1="115.7" y1="756.2" x2="115.7" y2="758.7" stroke="#111" stroke-width="0.80" />
<text x="140.4" y="769.3" font-size="7.8" font-weight="normal" text-anchor="middle" fill="#111" >10<tspan dy="-3.3" font-size="4.7">5</tspan></text>
<line x1="140.4" y1="756.2" x2="140.4" y2="758.7" stroke="#111" stroke-width="0.80" />
<path d="M51.5 659.7h-1.6M51.5 685.1h-1.6M51.5 680.6h-1.6M51.5 677.4h-1.6M51.5 674.9h-1.6M51.5 672.9h-1.6M51.5 671.2h-1.6M51.5 669.8h-1.6M51.5 668.5h-1.6M51.5 710.4h-1.6M51.5 705.9h-1.6M51.5 702.7h-1.6M51.5 700.2h-1.6M51.5 698.2h-1.6M51.5 696.5h-1.6M51.5 695.1h-1.6M51.5 693.8h-1.6M51.5 734.7h-1.6M51.5 730.2h-1.6M51.5 727.0h-1.6M51.5 724.5h-1.6M51.5 722.5h-1.6M51.5 720.8h-1.6M51.5 719.4h-1.6M51.5 718.1h-1.6M51.5 755.6h-1.6M51.5 752.4h-1.6M51.5 749.9h-1.6M51.5 747.9h-1.6M51.5 746.2h-1.6M51.5 744.8h-1.6M51.5 743.5h-1.6" stroke="#000" stroke-width="0.6"/>
<path d="M53.7 756.2v1.6M56.1 756.2v1.6M58.0 756.2v1.6M59.7 756.2v1.6M61.1 756.2v1.6M62.4 756.2v1.6M70.9 756.2v1.6M75.3 756.2v1.6M78.4 756.2v1.6M80.8 756.2v1.6M82.7 756.2v1.6M84.4 756.2v1.6M85.8 756.2v1.6M87.1 756.2v1.6M97.0 756.2v1.6M101.4 756.2v1.6M104.5 756.2v1.6M106.9 756.2v1.6M108.8 756.2v1.6M110.5 756.2v1.6M111.9 756.2v1.6M113.2 756.2v1.6M123.1 756.2v1.6M127.5 756.2v1.6M130.6 756.2v1.6M133.0 756.2v1.6M134.9 756.2v1.6M136.6 756.2v1.6M138.0 756.2v1.6M139.3 756.2v1.6M147.8 756.2v1.6" stroke="#000" stroke-width="0.6"/>
<path d="M30.5 709.0V775.0H155.0" stroke="#000" stroke-width="1.3" fill="none"/>
<path d="M30.5 703.0l-3.2 7.0h6.4z" fill="#000"/>
<path d="M161.0 775.0l-7.0 -3.2v6.4z" fill="#000"/>
<text transform="translate(27.0 753.5) rotate(-90)" font-size="10.0" font-weight="normal" text-anchor="middle" fill="#000" textLength="17" lengthAdjust="spacingAndGlyphs">cKit</text>
<text x="40.8" y="787.5" font-size="10.0" font-weight="normal" text-anchor="start" fill="#000" textLength="20.8" lengthAdjust="spacingAndGlyphs">Sca1</text>
<text x="260.5" y="647.0" font-size="11.0" font-weight="bold" text-anchor="middle" fill="#000" >Gated on (LSK)</text>
<path d="M160.0 684.0H182.6" stroke="#000" stroke-width="1.3" fill="none"/>
<path d="M189.0 684.0l-7.4 -3.0l1.9 3.0l-1.9 3.0z" fill="#000"/>
<rect x="212.0" y="656.2" width="99.2" height="100.0" fill="none" stroke="#000" stroke-width="1.30" />
<g transform="translate(0 .5)" fill="none" stroke-width="1" shape-rendering="crispEdges" opacity="1.00" filter="url(#bl)">
<path d="M228 657h1m15 0h1m7 0h1M232 658h1m4 0h1m3 0h1m1 0h1m2 0h1m1 0h1m2 0h2m12 0h1M234 659h1m2 0h1m1 0h1m3 0h1m1 0h1m1 0h2m2 0h1m3 0h1m1 0h1m3 0h1m4 0h1M220 660h1m9 0h1m4 0h3m4 0h1m2 0h1m1 0h1m2 0h1m1 0h2m2 0h1m9 0h1M226 661h1m2 0h1m4 0h1m9 0h1m1 0h3m8 0h2m2 0h1M229 662h1m3 0h1m1 0h1m1 0h1m1 0h1m1 0h3m1 0h2m11 0h2m2 0h1m27 0h1M220 663h1m4 0h2m2 0h1m3 0h1m2 0h2m2 0h2m1 0h3m1 0h1m2 0h2m2 0h2m2 0h1m1 0h1M230 664h1m2 0h1m4 0h1m2 0h2m1 0h2m1 0h2m1 0h1m1 0h3m2 0h1M223 665h1m5 0h1m1 0h4m1 0h3m1 0h1m2 0h1m1 0h3m4 0h2m2 0h1m27 0h1M229 666h1m4 0h1m1 0h1m10 0h1m1 0h2m1 0h1m4 0h2m5 0h1M213 667h1m12 0h1m7 0h1m1 0h2m1 0h3m1 0h2m2 0h1m1 0h2m1 0h2m7 0h4M229 668h1m4 0h3m4 0h1m1 0h8m2 0h3m3 0h1M219 669h1m4 0h1m2 0h1m8 0h3m1 0h1m1 0h1m1 0h2m1 0h3m1 0h3m2 0h1M219 670h1m4 0h1m3 0h3m2 0h1m1 0h3m1 0h6m1 0h2m1 0h1m1 0h2m1 0h1m1 0h3m2 0h2m12 0h1M220 671h1m6 0h1m3 0h1m2 0h2m1 0h2m1 0h4m1 0h3m1 0h2m2 0h1m5 0h3m2 0h3M218 672h1m7 0h1m1 0h1m4 0h8m3 0h5m1 0h3m1 0h3m1 0h1m4 0h2M214 673h1m15 0h16m3 0h1m2 0h1m2 0h1m1 0h1m1 0h1M225 674h1m4 0h3m1 0h5m1 0h1m1 0h7m1 0h3m1 0h2m2 0h2m4 0h1m1 0h1m1 0h2m6 0h1M217 675h1m3 0h1m6 0h3m3 0h2m1 0h1m1 0h5m1 0h5m1 0h2m2 0h3m3 0h1M224 676h1m1 0h1m1 0h1m2 0h1m2 0h4m1 0h4m1 0h5m1 0h1m1 0h1m3 0h1m1 0h1m2 0h1m15 0h1M216 677h1m14 0h1m3 0h5m2 0h10m3 0h1m6 0h1m24 0h1M214 678h1m9 0h2m3 0h1m1 0h3m3 0h4m1 0h3m1 0h3m1 0h1m3 0h2m7 0h1M218 679h1m7 0h5m3 0h3m1 0h1m1 0h1m1 0h4m1 0h5m3 0h2m2 0h1m11 0h1M215 680h1m4 0h2m1 0h1m2 0h3m4 0h2m2 0h1m1 0h2m1 0h2m1 0h13m2 0h2m2 0h1M218 681h1m5 0h2m4 0h5m1 0h1m1 0h2m1 0h2m1 0h3m1 0h1m2 0h1m1 0h1m1 0h2m2 0h1m5 0h2m31 0h1M215 682h1m6 0h1m5 0h1m1 0h1m1 0h1m1 0h1m2 0h4m2 0h1m1 0h7m2 0h1m1 0h2m2 0h2m1 0h1M218 683h1m3 0h1m1 0h1m3 0h2m1 0h3m4 0h1m1 0h3m1 0h1m1 0h7m1 0h3m5 0h1m17 0h1M214 684h2m1 0h1m3 0h1m4 0h1m5 0h1m1 0h1m2 0h3m2 0h6m4 0h3m3 0h3m2 0h1m17 0h1m5 0h1m2 0h1M223 685h4m1 0h1m1 0h1m1 0h1m1 0h9m2 0h1m1 0h4m4 0h2m2 0h1m14 0h1m4 0h1M217 686h1m10 0h2m1 0h1m1 0h2m1 0h1m2 0h3m2 0h1m1 0h2m4 0h1m3 0h1m1 0h1m37 0h1M225 687h1m1 0h1m3 0h1m1 0h1m1 0h2m1 0h3m4 0h5m1 0h1m1 0h2m5 0h1m6 0h1m6 0h1M223 688h2m1 0h2m2 0h6m2 0h4m2 0h1m4 0h1m1 0h1m3 0h3m1 0h1m4 0h1m4 0h1m5 0h1M224 689h1m4 0h1m2 0h1m1 0h1m1 0h2m3 0h1m1 0h1m1 0h2m2 0h2m8 0h3M230 690h1m3 0h2m3 0h2m3 0h3m1 0h1m4 0h1m1 0h1m1 0h1M220 691h1m8 0h1m1 0h1m4 0h3m2 0h1m1 0h5m1 0h1m2 0h2m1 0h1m4 0h1m1 0h2m2 0h1m1 0h1M214 692h2m1 0h1m1 0h1m1 0h1m5 0h1m4 0h4m1 0h8m4 0h5m1 0h1m5 0h1m3 0h1m2 0h2M216 693h1m8 0h1m2 0h1m1 0h1m4 0h4m1 0h3m1 0h1m2 0h1m1 0h2m2 0h1m6 0h1m1 0h1m1 0h1m15 0h1M219 694h4m1 0h1m6 0h2m1 0h2m1 0h2m1 0h3m4 0h2m3 0h1m1 0h4m1 0h6m1 0h2m5 0h1M218 695h1m1 0h1m8 0h1m7 0h1m3 0h1m2 0h1m3 0h1m1 0h1m4 0h1m1 0h2m3 0h1m5 0h1m20 0h1M215 696h1m2 0h1m1 0h1m3 0h3m2 0h1m1 0h1m1 0h2m1 0h1m2 0h3m1 0h2m1 0h1m2 0h1m1 0h2m8 0h1M213 697h1m8 0h1m2 0h1m1 0h1m1 0h2m2 0h2m4 0h1m2 0h1m1 0h3m1 0h2m1 0h2m1 0h5m4 0h1m5 0h1m1 0h1m28 0h1M224 698h1m3 0h1m4 0h3m1 0h6m1 0h3m1 0h4m1 0h1m2 0h1m1 0h1m19 0h2M217 699h1m3 0h2m2 0h1m5 0h3m2 0h2m1 0h1m2 0h1m1 0h1m3 0h1m1 0h3m1 0h3m1 0h1m3 0h3M213 700h1m1 0h1m11 0h1m1 0h3m1 0h3m1 0h4m2 0h8m1 0h2m1 0h1m1 0h2m2 0h1m2 0h1m6 0h1M221 701h2m1 0h3m1 0h1m1 0h1m1 0h3m1 0h1m2 0h9m3 0h1m2 0h1m1 0h1m3 0h1m1 0h1m2 0h1m5 0h1m1 0h1m5 0h1m13 0h1m2 0h1M214 702h1m1 0h1m2 0h1m2 0h1m6 0h3m1 0h1m1 0h1m3 0h1m1 0h3m2 0h1m3 0h1m2 0h3m2 0h4m3 0h1m7 0h1m7 0h1M220 703h1m4 0h3m3 0h3m1 0h6m1 0h10m2 0h2m1 0h2m1 0h1m4 0h2m3 0h1m2 0h1m1 0h1m7 0h1M219 704h1m3 0h1m2 0h7m1 0h1m1 0h3m1 0h4m2 0h2m1 0h1m2 0h1m3 0h3m1 0h1m1 0h1m2 0h1m2 0h1m23 0h1M216 705h3m3 0h1m2 0h2m1 0h2m3 0h1m4 0h2m1 0h7m1 0h3m1 0h1m1 0h1m1 0h4m3 0h1m1 0h1m12 0h1M216 706h3m3 0h1m2 0h1m2 0h2m2 0h1m2 0h2m1 0h3m1 0h5m1 0h3m2 0h1m2 0h1m1 0h1m1 0h4m1 0h1m4 0h1m18 0h1m2 0h1m1 0h1M213 707h1m5 0h1m1 0h2m1 0h1m3 0h1m1 0h2m1 0h1m1 0h1m1 0h2m1 0h6m1 0h3m1 0h2m1 0h5m1 0h2m2 0h1M215 708h1m7 0h1m4 0h1m1 0h2m1 0h2m1 0h5m1 0h1m1 0h6m1 0h4m5 0h1m5 0h1m16 0h1m6 0h1m2 0h1M215 709h1m2 0h1m1 0h1m5 0h1m1 0h1m1 0h2m1 0h1m2 0h8m1 0h3m1 0h1m1 0h1m1 0h2m2 0h1m2 0h1m5 0h1m3 0h1m4 0h1M215 710h1m2 0h2m5 0h1m1 0h1m1 0h1m3 0h13m1 0h6m1 0h4m3 0h1m1 0h2m3 0h1m17 0h1M217 711h1m4 0h4m1 0h6m1 0h6m2 0h1m1 0h3m1 0h3m2 0h5m10 0h2m1 0h1m19 0h1M214 712h2m6 0h1m1 0h1m3 0h2m3 0h1m1 0h5m1 0h4m2 0h1m1 0h1m1 0h2m3 0h3m6 0h1m4 0h1m13 0h1m2 0h1m3 0h1M214 713h1m1 0h1m3 0h2m11 0h3m1 0h1m1 0h2m2 0h2m1 0h2m1 0h7m1 0h1m1 0h2m2 0h2m3 0h1m20 0h1M222 714h1m1 0h1m2 0h1m2 0h1m2 0h2m1 0h4m1 0h3m1 0h1m1 0h4m1 0h1m1 0h2m1 0h1m1 0h1m1 0h1m4 0h1m2 0h1m18 0h1m4 0h1m1 0h1m2 0h1M213 715h1m10 0h1m4 0h1m3 0h2m1 0h2m1 0h8m1 0h4m1 0h3m1 0h1m1 0h1m2 0h1m4 0h1m5 0h1m9 0h1M221 716h2m1 0h2m1 0h1m1 0h1m2 0h2m4 0h1m3 0h1m1 0h5m1 0h3m5 0h1m1 0h1m3 0h1m9 0h1m19 0h1M218 717h1m2 0h1m5 0h2m1 0h1m1 0h1m1 0h1m2 0h1m2 0h8m5 0h1m2 0h4m3 0h1m1 0h1m3 0h1m13 0h1m3 0h1M215 718h1m6 0h1m1 0h1m1 0h1m6 0h3m2 0h2m1 0h1m1 0h1m1 0h4m1 0h1m2 0h1m2 0h2m8 0h1m17 0h1m5 0h1M220 719h1m3 0h1m7 0h2m2 0h1m1 0h4m1 0h3m2 0h1m2 0h1m1 0h1m3 0h1m1 0h1m1 0h1m2 0h1m7 0h1m18 0h1M221 720h1m3 0h1m1 0h8m1 0h2m2 0h1m2 0h1m1 0h1m1 0h5m3 0h4m15 0h1m13 0h1M215 721h1m1 0h1m2 0h3m1 0h1m3 0h1m2 0h1m4 0h3m2 0h3m3 0h1m2 0h1m2 0h2m2 0h1m26 0h1M221 722h2m3 0h1m8 0h5m1 0h5m1 0h2m5 0h1m5 0h1m1 0h1m11 0h1M215 723h1m6 0h1m4 0h1m2 0h1m5 0h3m1 0h3m1 0h3m3 0h1m1 0h4m4 0h1m2 0h2m22 0h1m6 0h1m1 0h1M227 724h2m3 0h3m1 0h1m1 0h1m1 0h1m2 0h1m5 0h1m3 0h1m12 0h2M236 725h1m1 0h2m1 0h1m3 0h1m1 0h2m2 0h1m4 0h1m3 0h1m2 0h1m2 0h1M229 726h1m3 0h3m1 0h2m2 0h2m2 0h1m3 0h1m1 0h1m1 0h1m35 0h1m1 0h1m3 0h1M223 727h1m2 0h1m3 0h1m3 0h1m1 0h1m1 0h1m3 0h1m2 0h3m1 0h1m2 0h1m5 0h1m12 0h1M224 728h1m5 0h2m1 0h1m1 0h1m1 0h1m6 0h2m4 0h1m5 0h2m12 0h1M218 729h1m11 0h1m2 0h1m6 0h1m5 0h1m4 0h1m2 0h1m3 0h1m7 0h1m7 0h1M222 730h1m7 0h2m11 0h1m1 0h1m12 0h3m26 0h1m8 0h1M225 731h1m12 0h1m19 0h1m2 0h1m1 0h1m14 0h1M215 732h1m3 0h1m17 0h1m2 0h1m1 0h2m3 0h3m18 0h1m2 0h1m2 0h1M225 733h1m4 0h1m2 0h1m21 0h1m9 0h1m4 0h1M227 734h1m8 0h1m1 0h1m7 0h2m1 0h1m4 0h1m1 0h1M241 735h1m2 0h2m7 0h1m1 0h1M241 736h1m9 0h1m6 0h1m1 0h1M220 737h1m2 0h1m26 0h1m2 0h1m4 0h1M229 738h1m5 0h1m3 0h1m7 0h1m13 0h1m2 0h1m30 0h1M222 739h1m33 0h1m21 0h1M216 740h1m15 0h1m9 0h1m13 0h1M232 741h1m13 0h1M230 742h1m3 0h1m36 0h1M224 743h1m10 0h1m3 0h2m11 0h1M225 744h1m19 0h1m2 0h1m1 0h1M216 745h1m5 0h1m20 0h1M219 746h1m13 0h1M214 747h1m14 0h1m6 0h1m32 0h1M236 748h1M244 749h2M230 751h1M228 752h1m23 0h1m2 0h1M220 754h1m46 0h1" stroke="#a6a6a6"/>
<path d="M251 659h1M245 660h1m4 0h1M247 661h1M239 662h1m2 0h1M233 663h1m9 0h1M250 664h1M233 665h1m3 0h1m2 0h1m5 0h1M229 666h1m17 0h1m2 0h1m6 0h2M237 667h1m1 0h3m2 0h1m2 0h1m2 0h1m2 0h1m7 0h1M229 668h1m5 0h2m4 0h1m1 0h2m2 0h3m9 0h1M237 669h2m1 0h1m1 0h1m5 0h1m3 0h2m2 0h1M230 670h1m10 0h1m1 0h2m1 0h1m4 0h2m5 0h1M227 671h1m12 0h2m1 0h1m1 0h3m1 0h2m9 0h1M233 672h1m11 0h4m3 0h1M214 673h1m21 0h1m1 0h6M230 674h3m3 0h1m3 0h1m1 0h1m1 0h5m3 0h1m15 0h1M237 675h1m1 0h1m3 0h1m2 0h1m1 0h1m7 0h1m4 0h1M231 676h1m2 0h1m2 0h1m3 0h2m1 0h2m2 0h1m1 0h1m5 0h1M231 677h1m3 0h5m2 0h6m2 0h1m4 0h1m6 0h1M231 678h1m1 0h1m4 0h3m2 0h1m6 0h1M234 679h3m1 0h1m3 0h1m16 0h1M234 680h1m5 0h1m5 0h2m1 0h1m5 0h2M236 681h1m1 0h2m1 0h1m2 0h1m3 0h1m6 0h1M222 682h1m7 0h1m3 0h1m3 0h3m4 0h7m2 0h1m6 0h1m1 0h1M222 683h1m8 0h1m1 0h1m7 0h2m1 0h1m1 0h1m1 0h2m1 0h1M242 684h1m1 0h1m1 0h1m7 0h1M234 685h1m3 0h1m3 0h1m4 0h1m1 0h1m6 0h1M231 686h1m1 0h1m10 0h1m1 0h1m5 0h1M225 687h1m12 0h1m6 0h2m1 0h2m4 0h1m19 0h1M227 688h1m2 0h3m8 0h1m9 0h1M232 689h1m1 0h1m11 0h1m2 0h1M239 690h2m5 0h1M220 691h1m22 0h2m7 0h1m9 0h2m4 0h1M233 692h1m8 0h2M236 693h1m4 0h1m2 0h1M235 694h1m4 0h2m5 0h2M231 696h1m4 0h1m2 0h1m1 0h1m4 0h1M227 697h1m11 0h1m2 0h1m2 0h2m8 0h1m2 0h1m4 0h1M235 698h1m2 0h2m2 0h1m2 0h1m2 0h1m1 0h1m28 0h1M233 699h1m2 0h2m1 0h1m4 0h1m6 0h1m4 0h1M230 700h2m1 0h2m5 0h1m2 0h2m2 0h3m5 0h1m2 0h1M222 701h1m11 0h1m5 0h2m1 0h2m2 0h1m8 0h1m22 0h1M229 702h1m5 0h1m5 0h2m10 0h2m4 0h2M235 703h2m1 0h1m1 0h1m2 0h2m2 0h2m1 0h1m6 0h1M227 704h1m1 0h2m1 0h1m1 0h1m2 0h1m3 0h3m2 0h2m9 0h2M216 705h1m12 0h1m9 0h1m4 0h2m4 0h1m28 0h1M235 706h1m2 0h1m1 0h1m2 0h1m4 0h1m7 0h1M230 707h1m2 0h1m4 0h1m1 0h1m1 0h1m1 0h1m2 0h3m1 0h1m6 0h1M223 708h1m4 0h1m2 0h1m4 0h1m1 0h2m5 0h2m1 0h1m3 0h1m1 0h1M226 709h1m1 0h1m2 0h1m4 0h1m6 0h1m1 0h2m2 0h1M225 710h1m8 0h1m3 0h1m5 0h2m2 0h3m4 0h1m1 0h1m3 0h1m24 0h1M223 711h1m3 0h1m1 0h3m3 0h1m2 0h2m4 0h3m2 0h2m2 0h1m3 0h1M229 712h1m3 0h1m9 0h2m2 0h1m4 0h1m5 0h1M237 713h1m1 0h1m3 0h1m2 0h2m1 0h4m1 0h1M230 714h1m5 0h3m3 0h2m1 0h1m4 0h1m4 0h1m5 0h1m26 0h1M236 715h2m2 0h2m2 0h2m2 0h1m5 0h1M238 716h1m5 0h5m1 0h1m1 0h1M241 717h4m1 0h1M233 718h2m3 0h2m6 0h2m8 0h1M233 719h1m6 0h1m3 0h1m3 0h1M228 720h1m1 0h1m9 0h1m2 0h1m3 0h3m8 0h1M217 721h1m23 0h3m13 0h1M236 722h3m2 0h1m1 0h1m1 0h1m1 0h2m5 0h1M227 723h1m8 0h3m6 0h1m6 0h3M233 724h2m1 0h1m3 0h1m12 0h1M236 725h1m23 0h1m2 0h1M237 726h2M233 728h1m10 0h1M230 729h1M238 731h1M225 733h1M238 734h1" stroke="#666"/>
<path d="M251 659h1M247 661h1M240 665h1M250 666h1M241 667h1m8 0h1M229 668h1m14 0h1m4 0h1M237 669h1m15 0h1m2 0h1M241 670h1m4 0h1M240 671h1m2 0h1m1 0h1m3 0h1M245 672h1m2 0h1M232 674h1m7 0h1m7 0h1m3 0h1M246 675h1M231 676h1m10 0h1m7 0h1m5 0h1M236 677h1m2 0h1m4 0h1m1 0h1m3 0h1M238 678h1m1 0h1M235 679h1m6 0h1M247 680h1m1 0h1m5 0h2M239 681h1m1 0h1m6 0h1M230 682h1m7 0h3m4 0h1m2 0h1m1 0h2M222 683h1m19 0h1m8 0h1M242 684h1m11 0h1M234 685h1m3 0h1m3 0h1m6 0h1m6 0h1M252 686h1M238 687h1m10 0h1m4 0h1M251 688h1M246 689h1M240 690h1m5 0h1M252 691h1M242 692h2M244 693h1M239 696h1M255 697h1M239 698h1m2 0h1m2 0h1M239 699h1m11 0h1M231 700h1m1 0h1m9 0h2m3 0h1m6 0h1M234 701h1m8 0h1M242 702h1m11 0h1M235 703h1m8 0h1m2 0h2M227 704h1m1 0h1m7 0h1m4 0h2M229 705h1m9 0h1m5 0h1m4 0h1M243 706h1M233 707h1m4 0h1m3 0h1m1 0h1m3 0h1m2 0h1M238 708h2m8 0h1M249 709h1M244 710h1M223 711h1m6 0h2m3 0h1m3 0h1m5 0h1m7 0h1M247 712h1m4 0h1M252 713h1m1 0h1M245 714h1m42 0h1M237 715h1m16 0h1M242 717h1m3 0h1M233 718h1M240 719h1M243 720h1M245 722h1M233 728h1M230 729h1" stroke="#3a3a3a"/>
</g>
<line x1="278.2" y1="656.2" x2="278.2" y2="756.2" stroke="#222" stroke-width="1.00" />
<line x1="212.0" y1="698.8" x2="311.2" y2="698.8" stroke="#222" stroke-width="1.00" />
<rect x="278.2" y="698.8" width="33.0" height="57.4" fill="none" stroke="#000" stroke-width="2.40" />
<text x="213.0" y="667.7" font-size="6.3" font-weight="bold" text-anchor="start" fill="#2b2b85" >50.7</text>
<text x="295.0" y="667.7" font-size="6.3" font-weight="bold" text-anchor="middle" fill="#2b2b85" >1.01</text>
<text x="213.0" y="749.2" font-size="6.3" font-weight="bold" text-anchor="start" fill="#2b2b85" >46.2</text>
<text x="295.0" y="749.2" font-size="6.3" font-weight="bold" text-anchor="middle" fill="#2b2b85" >2.10</text>
<text x="273.0" y="686.2" font-size="11.0" font-weight="bold" text-anchor="start" fill="#000" >LT-HSCs</text>
<text x="202.0" y="669.0" font-size="7.8" font-weight="normal" text-anchor="middle" fill="#111" >10<tspan dy="-3.3" font-size="4.7">5</tspan></text>
<line x1="209.5" y1="666.2" x2="212.0" y2="666.2" stroke="#111" stroke-width="0.80" />
<text x="202.0" y="691.6" font-size="7.8" font-weight="normal" text-anchor="middle" fill="#111" >10<tspan dy="-3.3" font-size="4.7">4</tspan></text>
<line x1="209.5" y1="688.8" x2="212.0" y2="688.8" stroke="#111" stroke-width="0.80" />
<text x="202.0" y="714.0" font-size="7.8" font-weight="normal" text-anchor="middle" fill="#111" >10<tspan dy="-3.3" font-size="4.7">3</tspan></text>
<line x1="209.5" y1="711.2" x2="212.0" y2="711.2" stroke="#111" stroke-width="0.80" />
<text x="202.0" y="736.6" font-size="7.8" font-weight="normal" text-anchor="middle" fill="#111" >10<tspan dy="-3.3" font-size="4.7">2</tspan></text>
<line x1="209.5" y1="733.8" x2="212.0" y2="733.8" stroke="#111" stroke-width="0.80" />
<text x="202.0" y="757.8" font-size="7.8" font-weight="normal" text-anchor="middle" fill="#111" >10<tspan dy="-3.3" font-size="4.7">1</tspan></text>
<line x1="209.5" y1="755.0" x2="212.0" y2="755.0" stroke="#111" stroke-width="0.80" />
<text x="217.0" y="770.8" font-size="7.8" font-weight="normal" text-anchor="middle" fill="#111" >10<tspan dy="-3.3" font-size="4.7">1</tspan></text>
<text x="235.0" y="770.8" font-size="7.8" font-weight="normal" text-anchor="middle" fill="#111" >10<tspan dy="-3.3" font-size="4.7">2</tspan></text>
<text x="257.5" y="770.8" font-size="7.8" font-weight="normal" text-anchor="middle" fill="#111" >10<tspan dy="-3.3" font-size="4.7">3</tspan></text>
<text x="280.0" y="770.8" font-size="7.8" font-weight="normal" text-anchor="middle" fill="#111" >10<tspan dy="-3.3" font-size="4.7">4</tspan></text>
<text x="302.5" y="770.8" font-size="7.8" font-weight="normal" text-anchor="middle" fill="#111" >10<tspan dy="-3.3" font-size="4.7">5</tspan></text>
<path d="M212.0 659.4h-1.6M212.0 682.0h-1.6M212.0 678.0h-1.6M212.0 675.2h-1.6M212.0 673.0h-1.6M212.0 671.2h-1.6M212.0 669.7h-1.6M212.0 668.4h-1.6M212.0 667.2h-1.6M212.0 704.4h-1.6M212.0 700.4h-1.6M212.0 697.6h-1.6M212.0 695.4h-1.6M212.0 693.6h-1.6M212.0 692.1h-1.6M212.0 690.8h-1.6M212.0 689.6h-1.6M212.0 727.0h-1.6M212.0 723.0h-1.6M212.0 720.2h-1.6M212.0 718.0h-1.6M212.0 716.2h-1.6M212.0 714.7h-1.6M212.0 713.4h-1.6M212.0 712.2h-1.6M212.0 748.2h-1.6M212.0 744.2h-1.6M212.0 741.4h-1.6M212.0 739.2h-1.6M212.0 737.4h-1.6M212.0 735.9h-1.6M212.0 734.6h-1.6M212.0 733.4h-1.6" stroke="#000" stroke-width="0.6"/>
<path d="M219.3 756.2v1.6M223.2 756.2v1.6M226.0 756.2v1.6M228.2 756.2v1.6M230.0 756.2v1.6M231.5 756.2v1.6M232.8 756.2v1.6M234.0 756.2v1.6M241.8 756.2v1.6M245.7 756.2v1.6M248.5 756.2v1.6M250.7 756.2v1.6M252.5 756.2v1.6M254.0 756.2v1.6M255.3 756.2v1.6M256.5 756.2v1.6M264.3 756.2v1.6M268.2 756.2v1.6M271.0 756.2v1.6M273.2 756.2v1.6M275.0 756.2v1.6M276.5 756.2v1.6M277.8 756.2v1.6M279.0 756.2v1.6M286.8 756.2v1.6M290.7 756.2v1.6M293.5 756.2v1.6M295.7 756.2v1.6M297.5 756.2v1.6M299.0 756.2v1.6M300.3 756.2v1.6M301.5 756.2v1.6M309.3 756.2v1.6" stroke="#000" stroke-width="0.6"/>
<path d="M190.7 703.7V774.0H315.6" stroke="#000" stroke-width="1.3" fill="none"/>
<path d="M190.7 697.7l-3.2 7.0h6.4z" fill="#000"/>
<path d="M321.6 774.0l-7.0 -3.2v6.4z" fill="#000"/>
<text transform="translate(187.0 745.0) rotate(-90)" font-size="10.0" font-weight="normal" text-anchor="middle" fill="#000" textLength="24" lengthAdjust="spacingAndGlyphs">CD48</text>
<text x="204.6" y="787.5" font-size="10.0" font-weight="normal" text-anchor="start" fill="#000" textLength="29.5" lengthAdjust="spacingAndGlyphs">CD150</text>
<path d="M311.2 726.4H338.1" stroke="#000" stroke-width="1.3" fill="none"/>
<path d="M344.5 726.4l-7.4 -3.0l1.9 3.0l-1.9 3.0z" fill="#000"/>
<text x="419.3" y="647.0" font-size="11.0" font-weight="bold" text-anchor="middle" fill="#000" textLength="133" lengthAdjust="spacingAndGlyphs">Gated on (CD150<tspan dy="-4" font-size="9">+</tspan><tspan dy="4">CD48</tspan><tspan dy="-4" font-size="9">-</tspan><tspan dy="4">)</tspan></text>
<rect x="368.8" y="655.0" width="100.7" height="99.2" fill="none" stroke="#000" stroke-width="1.30" />
<path d="M378 754.2C385 753.5 387.5 746 389.3 732C391 716 391.5 700.5 393 700.5C394.5 700.5 395 716 396.7 732C398.5 746 401 753.5 407 754.2z" fill="#9c9c9c"/>
<path d="M378 754C387 753.6 392 751.5 395.5 747.5C398.5 744 399.5 735 402.5 735C404.5 735 404.3 742 405.7 742C408.5 742 409.5 719.5 413.8 719.5C416.8 719.5 416.8 731.2 418.8 731.2C421.2 731.2 421.2 701.2 424.2 701.2C427.5 701.2 428 738 431 748C432 752 433.5 753.8 436.5 754" stroke="#72b043" stroke-width="1.5" fill="none"/>
<line x1="368.8" y1="747.5" x2="407.0" y2="747.5" stroke="#111" stroke-width="1.50" />
<line x1="407.0" y1="745.1" x2="407.0" y2="749.9" stroke="#111" stroke-width="1.50" />
<line x1="407.0" y1="725.5" x2="418.8" y2="725.5" stroke="#111" stroke-width="1.50" />
<line x1="407.0" y1="723.1" x2="407.0" y2="727.9" stroke="#111" stroke-width="1.50" />
<line x1="418.8" y1="723.1" x2="418.8" y2="727.9" stroke="#111" stroke-width="1.50" />
<line x1="418.8" y1="710.5" x2="469.5" y2="710.5" stroke="#111" stroke-width="1.50" />
<line x1="418.8" y1="708.1" x2="418.8" y2="712.9" stroke="#111" stroke-width="1.50" />
<text x="380.0" y="744.2" font-size="8.7" font-weight="normal" text-anchor="middle" fill="#4f5f8f" >23</text>
<text x="412.0" y="718.8" font-size="8.7" font-weight="normal" text-anchor="middle" fill="#4f5f8f" >33</text>
<text x="444.5" y="705.0" font-size="8.7" font-weight="normal" text-anchor="middle" fill="#4f5f8f" >44</text>
<text x="363.2" y="658.4" font-size="8.3" font-weight="normal" text-anchor="end" fill="#111" >3.0</text>
<line x1="366.3" y1="655.5" x2="368.8" y2="655.5" stroke="#111" stroke-width="0.80" />
<text x="363.2" y="690.9" font-size="8.3" font-weight="normal" text-anchor="end" fill="#111" >2.0</text>
<line x1="366.3" y1="688.0" x2="368.8" y2="688.0" stroke="#111" stroke-width="0.80" />
<text x="363.2" y="724.7" font-size="8.3" font-weight="normal" text-anchor="end" fill="#111" >1.00</text>
<line x1="366.3" y1="721.8" x2="368.8" y2="721.8" stroke="#111" stroke-width="0.80" />
<text x="363.2" y="757.1" font-size="8.3" font-weight="normal" text-anchor="end" fill="#111" >0</text>
<line x1="366.3" y1="754.2" x2="368.8" y2="754.2" stroke="#111" stroke-width="0.80" />
<text x="381.2" y="770.8" font-size="7.8" font-weight="normal" text-anchor="middle" fill="#111" >10<tspan dy="-3.3" font-size="4.7">2</tspan></text>
<text x="408.0" y="770.8" font-size="7.8" font-weight="normal" text-anchor="middle" fill="#111" >10<tspan dy="-3.3" font-size="4.7">3</tspan></text>
<text x="433.8" y="770.8" font-size="7.8" font-weight="normal" text-anchor="middle" fill="#111" >10<tspan dy="-3.3" font-size="4.7">4</tspan></text>
<text x="458.0" y="770.8" font-size="7.8" font-weight="normal" text-anchor="middle" fill="#111" >10<tspan dy="-3.3" font-size="4.7">5</tspan></text>
<path d="M371.6 754.2v1.6M373.9 754.2v1.6M375.8 754.2v1.6M377.5 754.2v1.6M378.9 754.2v1.6M380.1 754.2v1.6M388.5 754.2v1.6M392.7 754.2v1.6M395.8 754.2v1.6M398.1 754.2v1.6M400.0 754.2v1.6M401.7 754.2v1.6M403.1 754.2v1.6M404.3 754.2v1.6M415.3 754.2v1.6M419.5 754.2v1.6M422.6 754.2v1.6M424.9 754.2v1.6M426.8 754.2v1.6M428.5 754.2v1.6M429.9 754.2v1.6M431.1 754.2v1.6M441.1 754.2v1.6M445.3 754.2v1.6M448.4 754.2v1.6M450.7 754.2v1.6M452.6 754.2v1.6M454.3 754.2v1.6M455.7 754.2v1.6M456.9 754.2v1.6M465.3 754.2v1.6" stroke="#000" stroke-width="0.6"/>
<path d="M367.0 774.0H467.8" stroke="#000" stroke-width="1.3" fill="none"/>
<path d="M474.2 774.0l-7.4 -3.2l1.9 3.2l-1.9 3.2z" fill="#000"/>
<text x="374.0" y="787.5" font-size="10.0" font-weight="normal" text-anchor="start" fill="#000" textLength="44" lengthAdjust="spacingAndGlyphs">Hes1-GFP</text>
<text x="15.2" y="816.5" font-size="17.0" font-weight="bold" text-anchor="start" fill="#000" >E</text>
<text x="146.0" y="809.5" font-size="14.0" font-weight="bold" text-anchor="middle" fill="#000" >E13.5 FL (LSK)</text>
<text x="142.7" y="826.8" font-size="14.0" font-weight="normal" text-anchor="middle" fill="#000" >direct injection (0.2ee)</text>
<rect x="123.7" y="838.7" width="44.8" height="136.7" fill="#b7d6a0" stroke="none" stroke-width="1.00" />
<rect x="168.5" y="838.7" width="44.2" height="136.7" fill="#6aa842" stroke="none" stroke-width="1.00" />
<line x1="72.0" y1="834.8" x2="72.0" y2="976.1" stroke="#111" stroke-width="1.50" />
<line x1="67.0" y1="975.4" x2="72.0" y2="975.4" stroke="#111" stroke-width="1.50" />
<text x="61.4" y="979.1" font-size="11.7" font-weight="normal" text-anchor="end" fill="#000" >0</text>
<line x1="67.0" y1="948.1" x2="72.0" y2="948.1" stroke="#111" stroke-width="1.50" />
<text x="61.4" y="951.8" font-size="11.7" font-weight="normal" text-anchor="end" fill="#000" >20</text>
<line x1="67.0" y1="920.7" x2="72.0" y2="920.7" stroke="#111" stroke-width="1.50" />
<text x="61.4" y="924.4" font-size="11.7" font-weight="normal" text-anchor="end" fill="#000" >40</text>
<line x1="67.0" y1="893.4" x2="72.0" y2="893.4" stroke="#111" stroke-width="1.50" />
<text x="61.4" y="897.1" font-size="11.7" font-weight="normal" text-anchor="end" fill="#000" >60</text>
<line x1="67.0" y1="866.0" x2="72.0" y2="866.0" stroke="#111" stroke-width="1.50" />
<text x="61.4" y="869.8" font-size="11.7" font-weight="normal" text-anchor="end" fill="#000" >80</text>
<line x1="67.0" y1="838.7" x2="72.0" y2="838.7" stroke="#111" stroke-width="1.50" />
<text x="61.4" y="842.4" font-size="11.7" font-weight="normal" text-anchor="end" fill="#000" >100</text>
<line x1="71.3" y1="975.4" x2="220.0" y2="975.4" stroke="#111" stroke-width="1.50" />
<line x1="95.0" y1="975.4" x2="95.0" y2="980.4" stroke="#111" stroke-width="1.20" />
<line x1="141.0" y1="975.4" x2="141.0" y2="980.4" stroke="#111" stroke-width="1.20" />
<line x1="190.8" y1="975.4" x2="190.8" y2="980.4" stroke="#111" stroke-width="1.20" />
<text transform="translate(34.5 907.3) rotate(-90)" font-size="14.8" text-anchor="middle" fill="#000" textLength="88.8" lengthAdjust="spacingAndGlyphs">% of chimerism</text>
<path d="M82.8 840.5l2.9 5.2h-5.8z" fill="#000"/>
<path d="M107.6 842.6l2.9 5.2h-5.8z" fill="#000"/>
<path d="M86.4 844.7l2.9 5.2h-5.8z" fill="#000"/>
<path d="M91.3 844.7l2.9 5.2h-5.8z" fill="#000"/>
<path d="M96.0 844.7l2.9 5.2h-5.8z" fill="#000"/>
<path d="M100.8 844.7l2.9 5.2h-5.8z" fill="#000"/>
<path d="M105.0 844.7l2.9 5.2h-5.8z" fill="#000"/>
<path d="M82.2 847.9l2.9 5.2h-5.8z" fill="#000"/>
<path d="M108.2 849.1l2.9 5.2h-5.8z" fill="#000"/>
<path d="M91.3 852.8l2.9 5.2h-5.8z" fill="#000"/>
<path d="M98.5 854.3l2.9 5.2h-5.8z" fill="#000"/>
<path d="M94.9 879.2l2.9 5.2h-5.8z" fill="#000"/>
<line x1="79.6" y1="851.8" x2="110.7" y2="851.8" stroke="#111" stroke-width="1.50" />
<rect x="138.3" y="844.2" width="6.1" height="6.1" fill="#000"/>
<rect x="134.1" y="849.0" width="6.1" height="6.1" fill="#000"/>
<rect x="142.6" y="848.4" width="6.1" height="6.1" fill="#000"/>
<rect x="129.9" y="852.0" width="6.1" height="6.1" fill="#000"/>
<rect x="138.3" y="854.2" width="6.1" height="6.1" fill="#000"/>
<rect x="146.9" y="852.0" width="6.1" height="6.1" fill="#000"/>
<rect x="142.6" y="862.6" width="6.1" height="6.1" fill="#000"/>
<rect x="134.1" y="866.8" width="6.1" height="6.1" fill="#000"/>
<rect x="134.1" y="872.2" width="6.1" height="6.1" fill="#000"/>
<rect x="142.6" y="880.8" width="6.1" height="6.1" fill="#000"/>
<rect x="138.3" y="916.1" width="6.1" height="6.1" fill="#000"/>
<line x1="125.4" y1="866.5" x2="157.0" y2="866.5" stroke="#111" stroke-width="1.50" />
<circle cx="176.0" cy="975.4" r="2.8" fill="#000"/>
<circle cx="183.2" cy="975.4" r="2.8" fill="#000"/>
<circle cx="190.8" cy="975.4" r="2.8" fill="#000"/>
<circle cx="199.6" cy="975.4" r="2.8" fill="#000"/>
<text x="94.6" y="995.0" font-size="11.9" font-weight="normal" text-anchor="middle" fill="#000" >(12/12)</text>
<text x="94.6" y="1008.8" font-size="11.9" font-weight="normal" text-anchor="middle" fill="#000" >GFP<tspan dy="-5" font-size="9">-</tspan></text>
<text x="140.8" y="995.0" font-size="11.9" font-weight="normal" text-anchor="middle" fill="#000" >(11/11)</text>
<text x="140.8" y="1008.8" font-size="11.9" font-weight="normal" text-anchor="middle" fill="#000" >GFP<tspan dy="-5.5" font-size="8">low</tspan></text>
<text x="187.0" y="995.0" font-size="11.9" font-weight="normal" text-anchor="middle" fill="#000" >(0/4)</text>
<text x="187.0" y="1008.8" font-size="11.9" font-weight="normal" text-anchor="middle" fill="#000" >GFP<tspan dy="-5.5" font-size="8">high</tspan></text>
<text x="340.0" y="810.8" font-size="14.0" font-weight="bold" text-anchor="middle" fill="#000" >E14.5 FL (LSK)</text>
<text x="334.6" y="828.6" font-size="14.0" font-weight="normal" text-anchor="middle" fill="#000" >direct injection (0.2ee)</text>
<rect x="314.7" y="841.6" width="45.1" height="133.8" fill="#b7d6a0" stroke="none" stroke-width="1.00" />
<rect x="359.8" y="841.6" width="44.0" height="133.8" fill="#6aa842" stroke="none" stroke-width="1.00" />
<line x1="271.6" y1="836.0" x2="271.6" y2="976.4" stroke="#111" stroke-width="1.50" />
<line x1="266.6" y1="975.7" x2="271.6" y2="975.7" stroke="#111" stroke-width="1.50" />
<text x="262.9" y="979.4" font-size="11.7" font-weight="normal" text-anchor="end" fill="#000" >0</text>
<line x1="266.6" y1="948.6" x2="271.6" y2="948.6" stroke="#111" stroke-width="1.50" />
<text x="262.9" y="952.3" font-size="11.7" font-weight="normal" text-anchor="end" fill="#000" >20</text>
<line x1="266.6" y1="921.5" x2="271.6" y2="921.5" stroke="#111" stroke-width="1.50" />
<text x="262.9" y="925.2" font-size="11.7" font-weight="normal" text-anchor="end" fill="#000" >40</text>
<line x1="266.6" y1="894.4" x2="271.6" y2="894.4" stroke="#111" stroke-width="1.50" />
<text x="262.9" y="898.1" font-size="11.7" font-weight="normal" text-anchor="end" fill="#000" >60</text>
<line x1="266.6" y1="867.3" x2="271.6" y2="867.3" stroke="#111" stroke-width="1.50" />
<text x="262.9" y="871.0" font-size="11.7" font-weight="normal" text-anchor="end" fill="#000" >80</text>
<line x1="266.6" y1="840.2" x2="271.6" y2="840.2" stroke="#111" stroke-width="1.50" />
<text x="262.9" y="843.9" font-size="11.7" font-weight="normal" text-anchor="end" fill="#000" >100</text>
<line x1="270.8" y1="975.4" x2="411.0" y2="975.4" stroke="#111" stroke-width="1.50" />
<line x1="294.5" y1="975.4" x2="294.5" y2="980.4" stroke="#111" stroke-width="1.20" />
<line x1="340.6" y1="975.4" x2="340.6" y2="980.4" stroke="#111" stroke-width="1.20" />
<line x1="386.8" y1="975.4" x2="386.8" y2="980.4" stroke="#111" stroke-width="1.20" />
<path d="M286.8 847.2l2.9 5.2h-5.8z" fill="#000"/>
<path d="M295.0 849.3l2.9 5.2h-5.8z" fill="#000"/>
<path d="M303.1 849.3l2.9 5.2h-5.8z" fill="#000"/>
<path d="M283.0 854.0l2.9 5.2h-5.8z" fill="#000"/>
<path d="M307.3 854.6l2.9 5.2h-5.8z" fill="#000"/>
<path d="M290.8 858.4l2.9 5.2h-5.8z" fill="#000"/>
<path d="M298.8 860.5l2.9 5.2h-5.8z" fill="#000"/>
<path d="M287.2 861.4l2.9 5.2h-5.8z" fill="#000"/>
<path d="M303.1 866.2l2.9 5.2h-5.8z" fill="#000"/>
<path d="M295.0 870.1l2.9 5.2h-5.8z" fill="#000"/>
<path d="M295.0 893.1l2.9 5.2h-5.8z" fill="#000"/>
<path d="M295.0 924.0l2.9 5.2h-5.8z" fill="#000"/>
<line x1="279.4" y1="871.7" x2="309.4" y2="871.7" stroke="#111" stroke-width="1.50" />
<rect x="326.1" y="857.7" width="6.1" height="6.1" fill="#000"/>
<rect x="334.3" y="862.5" width="6.1" height="6.1" fill="#000"/>
<rect x="342.3" y="859.2" width="6.1" height="6.1" fill="#000"/>
<rect x="350.3" y="857.7" width="6.1" height="6.1" fill="#000"/>
<rect x="334.3" y="873.5" width="6.1" height="6.1" fill="#000"/>
<rect x="342.3" y="876.7" width="6.1" height="6.1" fill="#000"/>
<rect x="342.3" y="887.7" width="6.1" height="6.1" fill="#000"/>
<rect x="334.3" y="893.0" width="6.1" height="6.1" fill="#000"/>
<rect x="330.1" y="925.4" width="6.1" height="6.1" fill="#000"/>
<rect x="338.1" y="926.4" width="6.1" height="6.1" fill="#000"/>
<rect x="346.1" y="919.7" width="6.1" height="6.1" fill="#000"/>
<rect x="337.6" y="972.4" width="6.1" height="6.1" fill="#000"/>
<line x1="324.2" y1="898.3" x2="353.9" y2="898.3" stroke="#111" stroke-width="1.50" />
<circle cx="375.0" cy="975.4" r="2.6" fill="#000"/>
<circle cx="377.2" cy="975.4" r="2.6" fill="#000"/>
<circle cx="379.4" cy="975.4" r="2.6" fill="#000"/>
<circle cx="381.6" cy="975.4" r="2.6" fill="#000"/>
<circle cx="383.8" cy="975.4" r="2.6" fill="#000"/>
<circle cx="386.0" cy="975.4" r="2.6" fill="#000"/>
<circle cx="388.2" cy="975.4" r="2.6" fill="#000"/>
<circle cx="390.4" cy="975.4" r="2.6" fill="#000"/>
<circle cx="392.6" cy="975.4" r="2.6" fill="#000"/>
<circle cx="394.8" cy="975.4" r="2.6" fill="#000"/>
<circle cx="397.0" cy="975.4" r="2.6" fill="#000"/>
<circle cx="399.2" cy="975.4" r="2.6" fill="#000"/>
<text x="294.5" y="995.0" font-size="11.9" font-weight="normal" text-anchor="middle" fill="#000" >(12/12)</text>
<text x="294.5" y="1008.8" font-size="11.9" font-weight="normal" text-anchor="middle" fill="#000" >GFP<tspan dy="-5" font-size="9">-</tspan></text>
<text x="340.6" y="995.0" font-size="11.9" font-weight="normal" text-anchor="middle" fill="#000" >(11/12)</text>
<text x="340.6" y="1008.8" font-size="11.9" font-weight="normal" text-anchor="middle" fill="#000" >GFP<tspan dy="-5.5" font-size="8">low</tspan></text>
<text x="386.8" y="996.5" font-size="11.9" font-weight="normal" text-anchor="middle" fill="#000" >(0/12)</text>
<text x="386.8" y="1010.3" font-size="11.9" font-weight="normal" text-anchor="middle" fill="#000" >GFP<tspan dy="-5.5" font-size="8">high</tspan></text>
</g>
<path d="M0 0H520V1022H0z M1 1V1020.2H518.8V1z" fill="#000" fill-rule="evenodd"/>
</svg>
</body></html>
